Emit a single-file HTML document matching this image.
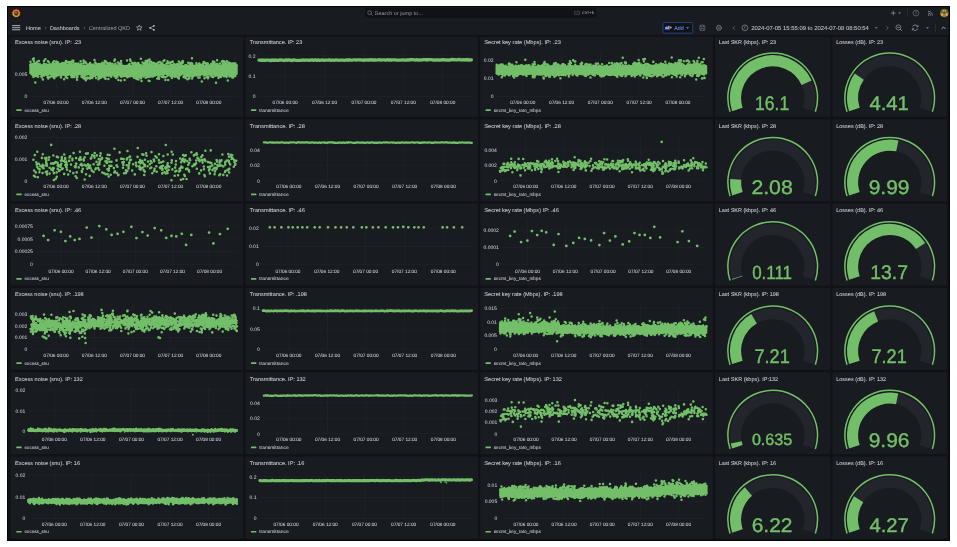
<!DOCTYPE html>
<html><head><meta charset="utf-8"><title>Centralized QKD - Dashboards - Grafana</title>
<style>
html,body{margin:0;padding:0;background:#fff;}
body{width:957px;height:547px;position:relative;overflow:hidden;font-family:"Liberation Sans", sans-serif;}
#f{position:absolute;left:7px;top:6px;width:943px;height:535px;background:#111217;border:1px solid #040608;box-sizing:border-box;}
svg{position:absolute;left:0;top:0;}
#g{filter:blur(0.33px);}
svg text{font-family:"Liberation Sans", sans-serif;text-rendering:geometricPrecision;}
svg g.tx text{stroke-width:0.05px;stroke-opacity:0.9}
svg g.tx text.b{stroke-width:0.07px;}
</style></head>
<body>
<div id="f"></div>
<svg id="g" width="957" height="547" viewBox="0 0 957 547">
<rect x="8.00" y="7.00" width="941.00" height="27.70" fill="#181b1f" />
<rect x="8.00" y="19.90" width="941.00" height="0.60" fill="rgba(204,204,220,0.045)" />
<rect x="8.00" y="33.80" width="941.00" height="0.90" fill="rgba(204,204,220,0.03)" />
<rect x="364.70" y="7.60" width="232.00" height="10.40" fill="#111217" rx="1" stroke="rgba(204,204,220,0.07)" stroke-width="0.5"/>
<rect x="10.85" y="36.85" width="232.40" height="79.95" rx="1.2" fill="#181b1f" stroke="rgba(204,204,220,0.05)" stroke-width="0.5"/>
<rect x="245.75" y="36.85" width="232.30" height="79.95" rx="1.2" fill="#181b1f" stroke="rgba(204,204,220,0.05)" stroke-width="0.5"/>
<rect x="480.55" y="36.85" width="232.30" height="79.95" rx="1.2" fill="#181b1f" stroke="rgba(204,204,220,0.05)" stroke-width="0.5"/>
<rect x="10.85" y="119.42" width="232.40" height="81.70" rx="1.2" fill="#181b1f" stroke="rgba(204,204,220,0.05)" stroke-width="0.5"/>
<rect x="245.75" y="119.42" width="232.30" height="81.70" rx="1.2" fill="#181b1f" stroke="rgba(204,204,220,0.05)" stroke-width="0.5"/>
<rect x="480.55" y="119.42" width="232.30" height="81.70" rx="1.2" fill="#181b1f" stroke="rgba(204,204,220,0.05)" stroke-width="0.5"/>
<rect x="10.85" y="203.74" width="232.40" height="81.70" rx="1.2" fill="#181b1f" stroke="rgba(204,204,220,0.05)" stroke-width="0.5"/>
<rect x="245.75" y="203.74" width="232.30" height="81.70" rx="1.2" fill="#181b1f" stroke="rgba(204,204,220,0.05)" stroke-width="0.5"/>
<rect x="480.55" y="203.74" width="232.30" height="81.70" rx="1.2" fill="#181b1f" stroke="rgba(204,204,220,0.05)" stroke-width="0.5"/>
<rect x="10.85" y="288.06" width="232.40" height="81.70" rx="1.2" fill="#181b1f" stroke="rgba(204,204,220,0.05)" stroke-width="0.5"/>
<rect x="245.75" y="288.06" width="232.30" height="81.70" rx="1.2" fill="#181b1f" stroke="rgba(204,204,220,0.05)" stroke-width="0.5"/>
<rect x="480.55" y="288.06" width="232.30" height="81.70" rx="1.2" fill="#181b1f" stroke="rgba(204,204,220,0.05)" stroke-width="0.5"/>
<rect x="10.85" y="372.38" width="232.40" height="81.70" rx="1.2" fill="#181b1f" stroke="rgba(204,204,220,0.05)" stroke-width="0.5"/>
<rect x="245.75" y="372.38" width="232.30" height="81.70" rx="1.2" fill="#181b1f" stroke="rgba(204,204,220,0.05)" stroke-width="0.5"/>
<rect x="480.55" y="372.38" width="232.30" height="81.70" rx="1.2" fill="#181b1f" stroke="rgba(204,204,220,0.05)" stroke-width="0.5"/>
<rect x="10.85" y="456.70" width="232.40" height="81.70" rx="1.2" fill="#181b1f" stroke="rgba(204,204,220,0.05)" stroke-width="0.5"/>
<rect x="245.75" y="456.70" width="232.30" height="81.70" rx="1.2" fill="#181b1f" stroke="rgba(204,204,220,0.05)" stroke-width="0.5"/>
<rect x="480.55" y="456.70" width="232.30" height="81.70" rx="1.2" fill="#181b1f" stroke="rgba(204,204,220,0.05)" stroke-width="0.5"/>
<rect x="715.25" y="36.85" width="114.90" height="79.95" rx="1.2" fill="#181b1f" stroke="rgba(204,204,220,0.05)" stroke-width="0.5"/>
<rect x="715.25" y="119.42" width="114.90" height="81.70" rx="1.2" fill="#181b1f" stroke="rgba(204,204,220,0.05)" stroke-width="0.5"/>
<rect x="715.25" y="203.74" width="114.90" height="81.70" rx="1.2" fill="#181b1f" stroke="rgba(204,204,220,0.05)" stroke-width="0.5"/>
<rect x="715.25" y="288.06" width="114.90" height="81.70" rx="1.2" fill="#181b1f" stroke="rgba(204,204,220,0.05)" stroke-width="0.5"/>
<rect x="715.25" y="372.38" width="114.90" height="81.70" rx="1.2" fill="#181b1f" stroke="rgba(204,204,220,0.05)" stroke-width="0.5"/>
<rect x="715.25" y="456.70" width="114.90" height="81.70" rx="1.2" fill="#181b1f" stroke="rgba(204,204,220,0.05)" stroke-width="0.5"/>
<rect x="832.65" y="36.85" width="114.10" height="79.95" rx="1.2" fill="#181b1f" stroke="rgba(204,204,220,0.05)" stroke-width="0.5"/>
<rect x="832.65" y="119.42" width="114.10" height="81.70" rx="1.2" fill="#181b1f" stroke="rgba(204,204,220,0.05)" stroke-width="0.5"/>
<rect x="832.65" y="203.74" width="114.10" height="81.70" rx="1.2" fill="#181b1f" stroke="rgba(204,204,220,0.05)" stroke-width="0.5"/>
<rect x="832.65" y="288.06" width="114.10" height="81.70" rx="1.2" fill="#181b1f" stroke="rgba(204,204,220,0.05)" stroke-width="0.5"/>
<rect x="832.65" y="372.38" width="114.10" height="81.70" rx="1.2" fill="#181b1f" stroke="rgba(204,204,220,0.05)" stroke-width="0.5"/>
<rect x="832.65" y="456.70" width="114.10" height="81.70" rx="1.2" fill="#181b1f" stroke="rgba(204,204,220,0.05)" stroke-width="0.5"/>
<defs><linearGradient id="gl" x1="0" y1="0" x2="0" y2="1"><stop offset="0" stop-color="#ea4f2a"/><stop offset="0.5" stop-color="#f58a2a"/><stop offset="1" stop-color="#fac630"/></linearGradient></defs>
<polygon points="16.20,9.10 17.36,9.91 18.77,10.04 19.14,11.40 20.14,12.41 19.55,13.69 19.66,15.10 18.39,15.70 17.57,16.86 16.20,16.50 14.83,16.86 14.01,15.70 12.74,15.10 12.85,13.69 12.26,12.41 13.26,11.40 13.63,10.04 15.04,9.91" fill="url(#gl)" stroke="url(#gl)" stroke-width="0.5" stroke-linejoin="round"/>
<circle cx="16.25" cy="13.45" r="2.2" fill="#181b1f" fill-opacity="0.88"/>
<path d="M15.04 13.93 A1.05 1.05 0 1 1 16.81 14.00" fill="none" stroke="#f08a2c" stroke-width="0.75" stroke-linecap="round"/>
<path d="M12.5 25.6 H19.8" stroke="#ccccdc" stroke-width="0.85" stroke-linecap="round"/>
<path d="M12.5 27.7 H19.8" stroke="#ccccdc" stroke-width="0.85" stroke-linecap="round"/>
<path d="M12.5 29.75 H19.8" stroke="#ccccdc" stroke-width="0.85" stroke-linecap="round"/>
<path d="M45.30 27.00 L46.30 28.00 L45.30 29.00" fill="none" stroke="rgba(204,204,220,0.62)" stroke-width="0.5" stroke-linecap="round" stroke-linejoin="round"/>
<path d="M84.10 27.00 L85.10 28.00 L84.10 29.00" fill="none" stroke="rgba(204,204,220,0.62)" stroke-width="0.5" stroke-linecap="round" stroke-linejoin="round"/>
<polygon points="139.30,25.00 140.06,26.85 142.06,27.00 140.54,28.30 141.00,30.25 139.30,29.20 137.60,30.25 138.06,28.30 136.54,27.00 138.54,26.85" fill="none" stroke="#ccccdc" stroke-width="0.6" stroke-linejoin="round"/>
<path d="M153.8 25.8 L150.2 27.8 L153.8 29.8" fill="none" stroke="#ccccdc" stroke-width="0.55"/>
<circle cx="153.9" cy="25.8" r="0.9" fill="#ccccdc"/>
<circle cx="150.1" cy="27.8" r="0.9" fill="#ccccdc"/>
<circle cx="153.9" cy="29.8" r="0.9" fill="#ccccdc"/>
<circle cx="369.6" cy="12.7" r="1.9" fill="none" stroke="rgba(204,204,220,0.62)" stroke-width="0.6"/><path d="M371 14.1 L372.3 15.4" stroke="rgba(204,204,220,0.62)" stroke-width="0.6" stroke-linecap="round"/>
<rect x="574.5" y="11.3" width="5.2" height="3.3" rx="0.7" fill="none" stroke="rgba(204,204,220,0.45)" stroke-width="0.5"/><path d="M575.6 12.4h3 M575.6 13.5h3" stroke="rgba(204,204,220,0.4)" stroke-width="0.45" stroke-dasharray="0.6 0.5"/>
<path d="M893.3 11.2 V15.0 M891.4 13.1 H895.2" stroke="rgba(204,204,220,0.7)" stroke-width="0.7" stroke-linecap="round"/>
<path d="M898.50 12.65 L899.60 13.75 L900.70 12.65Z" fill="rgba(204,204,220,0.62)" stroke="rgba(204,204,220,0.62)" stroke-width="0.3" stroke-linejoin="round"/>
<path d="M907.6 8.7 V17" stroke="rgba(204,204,220,0.16)" stroke-width="0.6"/>
<circle cx="915.9" cy="13.1" r="2.9" fill="none" stroke="rgba(204,204,220,0.52)" stroke-width="0.65"/><path d="M915 12.2 q0.9 -1.2 1.8 0 q0 0.7 -0.9 1.1 M915.9 14.6 v0.2" fill="none" stroke="rgba(204,204,220,0.52)" stroke-width="0.55" stroke-linecap="round"/>
<circle cx="928.6" cy="15.1" r="0.8" fill="rgba(204,204,220,0.52)"/><path d="M928.0 13.0 A2.7 2.7 0 0 1 930.7 15.7" fill="none" stroke="rgba(204,204,220,0.52)" stroke-width="0.95"/><path d="M928.0 11.2 A4.5 4.5 0 0 1 932.5 15.7" fill="none" stroke="rgba(204,204,220,0.52)" stroke-width="0.95"/>
<clipPath id="av"><circle cx="944.3" cy="13.0" r="4.3"/></clipPath><g clip-path="url(#av)"><rect x="939.3" y="8.0" width="10" height="10" fill="#4f7a16"/><rect x="943.0" y="13.6" width="2.6" height="4" fill="#a8743c"/><ellipse cx="941.9" cy="14.7" rx="1.35" ry="1.7" fill="#f58b7c"/><ellipse cx="946.6999999999999" cy="14.7" rx="1.35" ry="1.7" fill="#f58b7c"/><ellipse cx="943.1999999999999" cy="10.8" rx="0.75" ry="1.0" fill="#f58b7c"/><ellipse cx="945.4" cy="10.8" rx="0.75" ry="1.0" fill="#f58b7c"/><rect x="943.6999999999999" y="12.1" width="1.2" height="1.4" fill="#3d6a10"/></g>
<rect x="663.0" y="22.6" width="29.7" height="10.5" rx="0.9" fill="#111217" stroke="#2e4f99" stroke-width="0.75"/>
<path d="M665.0 29.0 v-1.6 l1.3 -1.1 l1.1 0.8 l1.3 -1.6 l0.9 0.6 v2.9z" fill="#6e9fff"/><path d="M664.9 29.6 h5.0" stroke="#6e9fff" stroke-width="0.5"/>
<circle cx="670.8" cy="27.5" r="0.95" fill="#ff9830"/>
<path d="M686.40 27.40 L687.60 28.60 L688.80 27.40Z" fill="#6e9fff" stroke="#6e9fff" stroke-width="0.3" stroke-linejoin="round"/>
<rect x="699.9" y="25.2" width="4.9" height="5.2" rx="0.7" fill="none" stroke="rgba(204,204,220,0.52)" stroke-width="0.65"/><path d="M700.9 25.4 v1.6 h2.6 v-1.6 M700.9 30.2 v-1.7 h2.9 v1.7" fill="none" stroke="rgba(204,204,220,0.52)" stroke-width="0.55"/>
<circle cx="718.9" cy="27.8" r="2.5" fill="none" stroke="rgba(204,204,220,0.52)" stroke-width="0.9" stroke-dasharray="1.1 0.5"/><circle cx="718.9" cy="27.8" r="2.2" fill="none" stroke="rgba(204,204,220,0.52)" stroke-width="0.5"/><circle cx="718.9" cy="27.8" r="0.9" fill="none" stroke="rgba(204,204,220,0.52)" stroke-width="0.5"/>
<path d="M734.35 26.40 L732.85 27.90 L734.35 29.40" fill="none" stroke="rgba(204,204,220,0.62)" stroke-width="0.6" stroke-linecap="round" stroke-linejoin="round"/>
<circle cx="744.9" cy="27.8" r="2.9" fill="none" stroke="rgba(204,204,220,0.7)" stroke-width="0.65"/><path d="M744.9 26.2 V27.9 L743.8 28.6" fill="none" stroke="rgba(204,204,220,0.7)" stroke-width="0.55" stroke-linecap="round"/>
<path d="M875.05 27.43 L876.20 28.57 L877.35 27.43Z" fill="rgba(204,204,220,0.62)" stroke="rgba(204,204,220,0.62)" stroke-width="0.3" stroke-linejoin="round"/>
<path d="M886.65 26.40 L888.15 27.90 L886.65 29.40" fill="none" stroke="rgba(204,204,220,0.62)" stroke-width="0.6" stroke-linecap="round" stroke-linejoin="round"/>
<circle cx="898.4" cy="27.4" r="2.5" fill="none" stroke="rgba(204,204,220,0.7)" stroke-width="0.7"/><path d="M897.2 27.4 h2.4 M900.3 29.3 l1.5 1.5" stroke="rgba(204,204,220,0.7)" stroke-width="0.65" stroke-linecap="round"/>
<path d="M912.62 26.76 A2.75 2.75 0 0 1 917.69 26.54 M917.78 28.64 A2.75 2.75 0 0 1 912.71 28.86" fill="none" stroke="rgba(204,204,220,0.7)" stroke-width="0.75"/><path d="M918.1 24.9 v1.9 h-1.9 M912.3 30.5 v-1.9 h1.9" fill="none" stroke="rgba(204,204,220,0.7)" stroke-width="0.65"/>
<path d="M926.25 27.43 L927.40 28.57 L928.55 27.43Z" fill="rgba(204,204,220,0.62)" stroke="rgba(204,204,220,0.62)" stroke-width="0.3" stroke-linejoin="round"/>
<path d="M935.5 23.3 V32.2" stroke="rgba(204,204,220,0.16)" stroke-width="0.6"/>
<path d="M941.9 28.6 L943.5 27.0 L945.1 28.6" fill="none" stroke="#ccccdc" stroke-width="0.8" stroke-linecap="round" stroke-linejoin="round"/>
<path d="M30.40 74.15 H237.00" stroke="rgba(204,204,220,0.075)" stroke-width="0.5"/>
<path d="M30.40 96.65 H237.00" stroke="rgba(204,204,220,0.075)" stroke-width="0.5"/>
<path d="M56.11 51.25 V96.65" stroke="rgba(204,204,220,0.075)" stroke-width="0.5"/>
<path d="M94.30 51.25 V96.65" stroke="rgba(204,204,220,0.075)" stroke-width="0.5"/>
<path d="M132.48 51.25 V96.65" stroke="rgba(204,204,220,0.075)" stroke-width="0.5"/>
<path d="M170.66 51.25 V96.65" stroke="rgba(204,204,220,0.075)" stroke-width="0.5"/>
<path d="M208.85 51.25 V96.65" stroke="rgba(204,204,220,0.075)" stroke-width="0.5"/>
<rect x="16.30" y="109.30" width="5.4" height="1.7" rx="0.4" fill="#73bf69"/>
<path d="M30.1 64.3 L31.2 64.3 L32.3 64.3 L33.4 64.5 L34.5 64.9 L35.6 65.0 L36.7 65.2 L37.8 65.4 L38.9 65.2 L40.0 65.7 L41.1 65.9 L42.2 65.4 L43.3 65.4 L44.4 65.0 L45.5 65.5 L46.6 64.9 L47.7 64.9 L48.8 65.0 L49.9 65.0 L51.0 64.9 L52.1 65.5 L53.2 65.4 L54.3 65.2 L55.4 65.0 L56.5 65.3 L57.6 64.6 L58.7 64.6 L59.8 65.5 L60.9 65.4 L62.0 65.3 L63.1 65.4 L64.2 64.7 L65.3 65.3 L66.4 65.4 L67.5 65.4 L68.6 65.5 L69.7 65.0 L70.8 65.2 L71.9 65.0 L73.0 65.0 L74.1 64.8 L75.2 65.1 L76.3 65.0 L77.4 65.8 L78.5 65.0 L79.6 65.9 L80.7 65.7 L81.8 65.6 L82.9 66.0 L84.0 65.5 L85.1 65.8 L86.2 65.7 L87.3 65.7 L88.4 66.4 L89.5 65.6 L90.6 65.6 L91.7 65.7 L92.8 66.0 L93.9 66.4 L95.0 66.4 L96.1 66.4 L97.2 65.9 L98.3 66.1 L99.4 66.5 L100.5 66.2 L101.6 66.1 L102.7 65.8 L103.8 66.5 L104.9 66.4 L106.0 66.5 L107.1 66.5 L108.2 66.8 L109.3 65.8 L110.4 66.2 L111.5 66.4 L112.6 66.5 L113.7 65.8 L114.8 66.0 L115.9 66.4 L117.0 66.5 L118.1 66.5 L119.2 66.5 L120.3 66.0 L121.4 66.0 L122.5 65.8 L123.6 65.9 L124.7 66.5 L125.8 66.4 L126.9 66.2 L128.0 65.9 L129.1 66.4 L130.2 66.2 L131.3 66.3 L132.4 66.0 L133.5 66.6 L134.6 66.2 L135.7 65.8 L136.8 66.3 L137.9 66.7 L139.0 66.7 L140.1 65.8 L141.2 65.9 L142.3 66.6 L143.4 65.8 L144.5 65.9 L145.6 65.7 L146.7 66.4 L147.8 66.4 L148.9 65.5 L150.0 66.3 L151.1 65.6 L152.2 65.5 L153.3 66.2 L154.4 66.0 L155.5 65.4 L156.6 65.4 L157.7 65.2 L158.8 65.3 L159.9 65.8 L161.0 65.8 L162.1 65.8 L163.2 65.7 L164.3 65.9 L165.4 65.7 L166.5 65.7 L167.6 65.8 L168.7 65.9 L169.8 65.0 L170.9 65.1 L172.0 65.8 L173.1 65.2 L174.2 65.8 L175.3 65.3 L176.4 65.8 L177.5 65.3 L178.6 65.8 L179.7 65.5 L180.8 65.5 L181.9 65.1 L183.0 65.8 L184.1 65.8 L185.2 65.8 L186.3 65.3 L187.4 65.4 L188.5 65.6 L189.6 65.3 L190.7 65.3 L191.8 66.1 L192.9 66.0 L194.0 65.4 L195.1 66.0 L196.2 66.1 L197.3 65.8 L198.4 66.0 L199.5 66.2 L200.6 66.0 L201.7 65.3 L202.8 66.0 L203.9 65.9 L205.0 65.9 L206.1 66.3 L207.2 66.0 L208.3 65.4 L209.4 66.1 L210.5 65.4 L211.6 65.5 L212.7 65.3 L213.8 65.9 L214.9 65.9 L216.0 65.3 L217.1 65.1 L218.2 65.2 L219.3 65.9 L220.4 65.7 L221.5 65.2 L222.6 65.2 L223.7 65.4 L224.8 65.7 L225.9 65.1 L227.0 65.0 L228.1 65.6 L229.2 64.8 L230.3 65.4 L231.4 64.8 L232.5 65.5 L233.6 64.9 L234.7 65.5 L235.8 64.7 L236.9 65.3 L236.9 74.1 L235.8 73.6 L234.7 73.4 L233.6 73.7 L232.5 74.1 L231.4 73.7 L230.3 73.3 L229.2 74.2 L228.1 74.3 L227.0 73.6 L225.9 74.0 L224.8 74.1 L223.7 73.8 L222.6 74.3 L221.5 74.4 L220.4 74.5 L219.3 73.8 L218.2 73.9 L217.1 74.0 L216.0 74.4 L214.9 73.8 L213.8 73.9 L212.7 74.2 L211.6 74.0 L210.5 74.3 L209.4 74.0 L208.3 74.4 L207.2 74.0 L206.1 74.5 L205.0 74.8 L203.9 74.2 L202.8 74.5 L201.7 74.2 L200.6 74.5 L199.5 74.0 L198.4 74.7 L197.3 74.9 L196.2 74.6 L195.1 74.7 L194.0 73.9 L192.9 74.7 L191.8 74.3 L190.7 74.4 L189.6 74.6 L188.5 73.9 L187.4 73.9 L186.3 74.7 L185.2 74.4 L184.1 74.0 L183.0 73.7 L181.9 74.2 L180.8 74.6 L179.7 74.6 L178.6 74.2 L177.5 74.1 L176.4 74.3 L175.3 74.6 L174.2 74.4 L173.1 74.3 L172.0 74.5 L170.9 74.6 L169.8 73.6 L168.7 73.7 L167.6 73.7 L166.5 74.0 L165.4 73.7 L164.3 73.7 L163.2 74.6 L162.1 74.6 L161.0 74.1 L159.9 74.4 L158.8 74.3 L157.7 74.7 L156.6 74.3 L155.5 74.6 L154.4 74.6 L153.3 74.8 L152.2 74.4 L151.1 74.1 L150.0 74.5 L148.9 74.4 L147.8 74.4 L146.7 74.9 L145.6 75.0 L144.5 74.7 L143.4 74.9 L142.3 74.5 L141.2 74.8 L140.1 74.3 L139.0 74.7 L137.9 74.9 L136.8 75.0 L135.7 74.4 L134.6 74.5 L133.5 74.9 L132.4 75.3 L131.3 75.3 L130.2 74.6 L129.1 75.3 L128.0 74.9 L126.9 74.4 L125.8 75.3 L124.7 74.9 L123.6 74.5 L122.5 74.6 L121.4 75.2 L120.3 74.6 L119.2 74.8 L118.1 74.5 L117.0 74.7 L115.9 75.4 L114.8 75.0 L113.7 75.1 L112.6 75.2 L111.5 74.5 L110.4 74.7 L109.3 74.8 L108.2 75.3 L107.1 74.9 L106.0 75.4 L104.9 74.7 L103.8 74.8 L102.7 75.4 L101.6 74.4 L100.5 74.9 L99.4 74.6 L98.3 75.1 L97.2 74.9 L96.1 74.9 L95.0 74.7 L93.9 75.0 L92.8 74.7 L91.7 74.6 L90.6 74.3 L89.5 74.4 L88.4 74.5 L87.3 74.7 L86.2 74.9 L85.1 74.4 L84.0 74.5 L82.9 74.0 L81.8 74.3 L80.7 74.5 L79.6 73.6 L78.5 74.2 L77.4 73.8 L76.3 74.5 L75.2 73.6 L74.1 74.3 L73.0 74.2 L71.9 73.4 L70.8 74.0 L69.7 73.3 L68.6 74.1 L67.5 73.3 L66.4 73.6 L65.3 73.9 L64.2 73.4 L63.1 74.0 L62.0 74.0 L60.9 73.3 L59.8 74.1 L58.7 73.6 L57.6 73.3 L56.5 74.0 L55.4 74.2 L54.3 74.2 L53.2 73.8 L52.1 73.7 L51.0 74.1 L49.9 73.5 L48.8 73.5 L47.7 74.1 L46.6 74.2 L45.5 73.9 L44.4 74.0 L43.3 74.3 L42.2 74.1 L41.1 74.1 L40.0 74.3 L38.9 74.5 L37.8 73.9 L36.7 73.7 L35.6 73.9 L34.5 73.6 L33.4 73.8 L32.3 73.1 L31.2 73.7 L30.1 73.3 Z" fill="#73bf69" stroke="#73bf69" stroke-width="1.6" stroke-linejoin="round"/>
<path d="M153.5 63.0h0M157.5 74.7h0M66.0 63.5h0M41.4 65.9h0M71.9 74.0h0M209.9 73.7h0M130.4 66.0h0M96.6 67.0h0M106.0 61.7h0M42.4 65.6h0M150.5 76.6h0M213.1 73.5h0M36.2 74.1h0M135.5 66.6h0M35.3 82.5h0M65.7 76.9h0M190.0 74.7h0M228.6 62.6h0M126.1 76.3h0M99.8 65.8h0M172.4 65.4h0M87.9 66.3h0M212.9 61.4h0M117.9 65.5h0M157.0 74.7h0M196.5 74.2h0M136.5 65.7h0M114.9 66.5h0M145.6 67.0h0M53.8 73.0h0M206.3 63.4h0M192.7 75.7h0M154.5 63.3h0M211.5 75.8h0M196.4 75.6h0M121.2 63.4h0M96.7 65.0h0M167.2 63.2h0M145.2 74.2h0M87.6 66.8h0M172.0 78.1h0M67.7 65.6h0M78.3 65.6h0M37.8 76.2h0M117.9 62.4h0M67.3 77.9h0M141.4 75.9h0M225.1 63.6h0M87.3 66.9h0M66.7 74.8h0M225.4 73.8h0M106.7 75.5h0M191.9 75.7h0M153.0 76.3h0M55.7 73.4h0M146.4 75.8h0M116.9 66.9h0M158.0 74.1h0M229.5 64.8h0M142.7 74.6h0M106.1 65.4h0M111.7 74.5h0M96.3 64.3h0M182.0 62.9h0M54.5 74.4h0M45.3 73.3h0M71.4 76.0h0M213.0 62.2h0M201.7 65.8h0M173.2 66.2h0M134.1 77.7h0M227.2 74.6h0M122.7 74.1h0M159.8 65.1h0M233.2 77.6h0M100.6 75.7h0M132.2 62.9h0M229.6 64.8h0M194.8 73.7h0M63.5 64.8h0M115.8 76.5h0M108.8 74.0h0M138.1 75.6h0M202.5 64.5h0M52.1 64.4h0M195.8 74.5h0M200.2 74.9h0M36.6 73.4h0M207.8 63.6h0M43.9 61.1h0M34.3 65.0h0M231.5 64.0h0M33.4 65.6h0M83.5 66.5h0M199.8 66.0h0M127.8 74.3h0M185.4 75.9h0M151.8 66.2h0M159.8 75.2h0M236.6 65.5h0M68.5 61.9h0M111.4 74.0h0M189.1 78.4h0M198.7 74.8h0M43.9 66.2h0M100.0 77.2h0M176.4 65.2h0M229.3 73.5h0M191.5 66.6h0M181.5 65.4h0M192.8 76.7h0M149.2 64.3h0M38.2 66.3h0M35.7 73.2h0M189.6 65.6h0M48.7 62.1h0M162.1 65.2h0M201.4 66.4h0M44.0 73.7h0M177.4 65.3h0M140.6 78.0h0M131.4 66.9h0M183.0 62.5h0M73.4 60.7h0M210.9 64.3h0M100.6 66.3h0M63.2 64.9h0M103.0 76.6h0M229.5 76.5h0M190.7 65.7h0M143.4 75.0h0M162.2 66.3h0M188.4 66.2h0M77.5 77.0h0M85.8 80.3h0M179.0 76.3h0M105.2 61.9h0M90.2 63.8h0M226.0 76.1h0M229.2 63.1h0M235.9 73.7h0M114.4 76.2h0M172.8 61.7h0M177.4 64.0h0M97.9 74.1h0M87.3 66.0h0M167.5 76.0h0M68.5 74.3h0M138.3 63.1h0M54.2 76.3h0M163.5 60.9h0M204.7 62.8h0M120.0 64.4h0M134.6 74.7h0M230.2 65.0h0M81.8 73.5h0M80.6 61.3h0M88.0 64.8h0M152.0 73.8h0M121.1 61.1h0M137.7 66.5h0M159.5 74.8h0M93.4 74.3h0M223.5 73.7h0M79.2 66.2h0M99.7 78.1h0M106.8 63.1h0M89.1 64.6h0M90.3 75.5h0M81.5 65.9h0M163.6 77.3h0M60.0 75.0h0M37.3 76.3h0M194.6 73.6h0M130.1 74.1h0M119.3 66.9h0M79.3 74.1h0M78.0 74.1h0M179.2 74.2h0M109.4 66.9h0M168.7 74.4h0M134.5 76.0h0M60.1 64.1h0M56.1 76.2h0M31.2 73.3h0M227.3 64.4h0M30.4 65.0h0M171.8 76.7h0M119.3 63.5h0M196.6 75.5h0M169.8 66.4h0M198.7 64.8h0M33.8 73.6h0M46.5 74.7h0M165.5 80.1h0M55.3 65.2h0M74.6 64.2h0M66.3 74.5h0M73.7 73.0h0M56.2 61.6h0M49.5 76.9h0M221.1 66.0h0M132.8 64.1h0M147.4 66.9h0M64.6 73.0h0M97.9 66.6h0M36.0 62.9h0M114.2 67.0h0M89.1 66.0h0M178.0 64.4h0M225.1 75.9h0M195.0 75.1h0M232.4 75.4h0M121.4 75.3h0M208.3 65.6h0M190.2 74.9h0M124.6 80.0h0M221.8 61.6h0M179.2 73.8h0M143.7 63.9h0M203.6 61.9h0M58.4 75.2h0M182.2 66.2h0M77.1 79.8h0M146.4 77.3h0M69.8 65.0h0M208.8 66.6h0M194.8 66.2h0M176.1 65.0h0M128.5 66.1h0M122.6 65.7h0M77.5 65.8h0M104.5 76.8h0M219.4 65.9h0M120.5 74.6h0M152.9 76.6h0M128.7 66.1h0M147.6 60.4h0M116.7 74.2h0M219.0 75.9h0M111.4 64.8h0M229.7 76.3h0M114.4 60.8h0M161.5 65.0h0M187.6 76.1h0M155.0 75.4h0M225.7 63.2h0M60.8 73.6h0M206.3 75.5h0M230.6 75.9h0M71.1 63.4h0M48.1 66.2h0M33.3 64.2h0M100.0 66.2h0M172.0 74.0h0M115.4 65.4h0M77.8 73.8h0M224.2 65.3h0M217.3 73.7h0M52.8 62.4h0M93.1 76.0h0M151.2 66.2h0M123.2 66.3h0M32.7 64.0h0M76.7 77.6h0M81.5 76.8h0M223.0 60.9h0M44.1 75.5h0M77.8 65.2h0M33.7 73.7h0M62.7 72.9h0M67.5 62.0h0M91.5 66.5h0M101.0 77.6h0M120.3 66.5h0M104.8 61.0h0M71.2 75.8h0M120.5 75.9h0M227.2 65.7h0M216.4 63.9h0M34.2 65.9h0M137.7 63.2h0M73.4 74.1h0M116.4 65.5h0M155.9 64.9h0M191.2 64.5h0M199.2 63.5h0M213.3 76.9h0M50.2 77.0h0M53.8 66.1h0M218.5 78.0h0M148.3 73.8h0M114.4 74.4h0M97.8 74.3h0M89.5 65.9h0M121.3 76.7h0M167.6 61.2h0M196.9 65.4h0M201.5 66.0h0M220.9 76.9h0M93.9 66.5h0M144.9 63.1h0M157.8 73.5h0M204.6 78.2h0M47.5 64.9h0M90.5 65.4h0M83.7 61.7h0M123.3 75.9h0M132.3 75.4h0M74.1 77.0h0M182.8 66.3h0M172.2 74.8h0M186.1 74.4h0M150.8 76.6h0M93.4 66.6h0M99.2 65.2h0M117.6 75.5h0M179.4 74.3h0M134.6 62.8h0M67.0 74.6h0M41.4 76.0h0M123.9 66.7h0M100.6 74.0h0M224.1 76.1h0M57.3 74.6h0M209.1 73.8h0M59.0 73.5h0M162.7 75.5h0M192.4 65.0h0M33.0 58.9h0M141.6 81.1h0M109.2 63.5h0M56.6 65.6h0M42.9 79.5h0M155.2 64.2h0M210.2 74.6h0M229.3 74.7h0M195.4 66.0h0M143.3 75.5h0M115.3 63.9h0M204.9 66.6h0M109.1 75.5h0M139.2 64.4h0M159.0 75.6h0M232.1 76.1h0M71.7 65.4h0M144.8 74.1h0M93.6 65.7h0M74.3 73.7h0M41.1 66.2h0M148.6 66.7h0M83.2 74.2h0M221.4 75.6h0M120.9 80.4h0M64.4 65.3h0M134.4 64.7h0M176.0 75.2h0M136.0 63.8h0M170.0 62.5h0M188.9 74.6h0M155.0 73.9h0M96.6 74.2h0M228.6 65.7h0M84.6 73.5h0M151.3 74.3h0M112.9 66.8h0M137.9 77.3h0M48.9 65.2h0M121.8 65.7h0M153.1 66.3h0M54.5 64.1h0M176.7 76.2h0M227.5 65.2h0M217.1 60.3h0M85.4 62.1h0M130.8 75.9h0M90.4 77.4h0M147.4 65.8h0M170.6 76.2h0M181.3 74.3h0M179.5 64.5h0M214.0 74.2h0M41.8 75.5h0M139.6 65.9h0M192.2 63.4h0M159.9 62.1h0M103.5 76.5h0M51.7 64.9h0M92.5 66.8h0M47.7 74.9h0M202.6 66.2h0M233.2 76.0h0M63.8 65.6h0M120.2 63.5h0M168.4 63.2h0M82.2 74.1h0M201.8 81.5h0M230.5 63.3h0M47.5 77.2h0M162.4 63.6h0M102.8 75.4h0M216.1 74.3h0M78.1 74.2h0M211.4 76.3h0M177.5 65.6h0M116.0 78.0h0M234.0 74.4h0M220.4 74.9h0M215.6 74.7h0M71.6 76.9h0M136.8 66.5h0M49.6 73.5h0M175.1 64.8h0M62.3 63.1h0M56.8 63.7h0M230.1 63.5h0M216.9 73.5h0M186.8 66.0h0M180.4 62.9h0M60.2 65.0h0M184.3 75.4h0M61.6 75.2h0M158.7 77.4h0M123.8 74.0h0M219.8 63.4h0M165.5 73.3h0M68.9 73.6h0M234.5 63.3h0M234.5 74.1h0M166.7 63.5h0M76.0 65.5h0M98.5 79.2h0M110.5 67.0h0M128.6 64.8h0M186.2 75.1h0M120.5 74.6h0M131.8 66.5h0M150.9 65.7h0M140.9 58.7h0M59.8 74.5h0M214.8 74.3h0M214.9 64.2h0M153.0 62.7h0M77.2 73.1h0M180.0 74.0h0M63.2 73.4h0M166.5 63.8h0M130.6 61.1h0M92.9 76.5h0M98.7 74.6h0M84.1 73.7h0M34.9 74.3h0M105.2 66.9h0M100.5 63.9h0M33.8 58.6h0M195.9 66.3h0M48.4 66.2h0M38.9 61.1h0M172.3 73.4h0M149.8 76.5h0M208.7 73.5h0M149.0 66.8h0M116.3 66.1h0M31.2 73.0h0M61.2 65.7h0M235.4 63.6h0M74.4 64.2h0M148.4 77.1h0M87.9 66.8h0M160.9 65.0h0M84.4 76.8h0M94.8 66.6h0M107.9 74.2h0M51.7 73.7h0M41.3 76.4h0M223.0 64.1h0M55.0 65.9h0M217.5 64.8h0M208.5 73.7h0M160.3 66.3h0M207.2 65.2h0M90.1 63.0h0M171.0 64.7h0M231.7 73.9h0M185.7 78.0h0M67.4 73.9h0M144.2 75.5h0M57.5 73.4h0M147.6 76.8h0M174.0 64.3h0M145.2 63.1h0M152.3 76.2h0M150.2 65.9h0M216.4 74.7h0M203.9 75.6h0M134.4 65.8h0M194.9 74.3h0M90.0 78.6h0M217.2 64.0h0M33.1 65.4h0M171.5 64.9h0M137.8 76.3h0M146.3 74.6h0M90.1 66.5h0M40.2 64.4h0M232.5 73.9h0M49.7 65.4h0M171.5 65.0h0M33.7 60.8h0M193.5 73.6h0M61.0 77.6h0M76.2 75.3h0M38.3 73.5h0M138.1 75.2h0M132.2 66.4h0M161.8 76.7h0M104.1 63.3h0M78.5 65.3h0M149.5 59.5h0M148.7 80.8h0M208.0 78.3h0M143.5 76.5h0M41.7 76.6h0M199.0 73.9h0M88.6 78.1h0M99.0 65.6h0M218.7 76.7h0M158.1 66.5h0M52.5 64.3h0M81.2 64.0h0M197.0 74.4h0M208.4 77.1h0M140.5 65.9h0M100.5 65.8h0M127.3 76.1h0M212.6 65.5h0M68.4 74.8h0M43.1 66.2h0M235.5 74.5h0M96.3 63.7h0M124.3 66.8h0M228.9 73.5h0M84.0 73.6h0M31.1 65.0h0M211.2 65.0h0M70.7 73.1h0M53.7 66.0h0M180.8 74.1h0M139.0 75.0h0M191.8 66.2h0M89.8 66.2h0M215.8 73.8h0M72.4 60.7h0M49.7 64.2h0M70.2 61.9h0M213.0 63.0h0M43.8 74.3h0M42.5 76.0h0M115.3 63.7h0M150.0 76.4h0M38.2 76.8h0M90.5 74.8h0M188.7 63.1h0M224.8 63.3h0M165.0 65.5h0M79.1 64.6h0M196.7 73.7h0M76.8 64.9h0M68.0 73.8h0M229.4 64.1h0M56.0 74.8h0M209.3 73.6h0M184.0 77.2h0M51.5 73.4h0M146.5 66.3h0M45.4 59.3h0M111.2 76.7h0M156.0 73.8h0M142.5 62.5h0M178.6 74.2h0M210.2 66.2h0M110.3 63.9h0M180.2 73.4h0M50.3 66.0h0M78.2 73.8h0M37.8 64.9h0M207.0 74.5h0M175.0 76.0h0M45.1 74.6h0M204.4 74.1h0M101.0 75.2h0M76.2 73.8h0M182.5 61.7h0M200.8 65.2h0M44.0 74.8h0M206.7 63.6h0M153.9 62.9h0M129.1 74.6h0M213.9 63.9h0M178.8 61.6h0M121.5 66.4h0M134.1 66.8h0M176.1 74.3h0M144.0 64.2h0M206.8 74.5h0M105.1 66.6h0M41.6 77.2h0M150.2 64.4h0M51.9 64.8h0M37.8 64.0h0M120.2 75.2h0M184.0 66.0h0M65.9 76.2h0M105.2 65.6h0M233.8 64.3h0M136.1 78.4h0M221.5 74.0h0M130.1 74.4h0M172.5 61.7h0M157.3 64.3h0M110.4 75.2h0M44.4 73.2h0M36.3 65.4h0M115.4 74.4h0M96.1 78.0h0M148.5 65.9h0M235.3 76.0h0M164.1 65.2h0M132.5 63.8h0M163.1 76.9h0M168.2 80.0h0M192.0 64.6h0M190.5 66.3h0M128.5 65.3h0M187.7 74.5h0M191.4 74.2h0M132.0 74.8h0M117.9 67.0h0M134.3 76.7h0M198.3 77.5h0M164.8 73.6h0M219.4 76.0h0M70.0 73.0h0M41.8 74.2h0M106.4 75.6h0M71.8 65.0h0M214.0 66.4h0M151.1 65.9h0M94.5 60.0h0M114.9 59.6h0M58.9 65.1h0M54.2 65.0h0M74.0 74.4h0M199.6 64.0h0M52.8 66.2h0M210.4 66.4h0M128.6 65.6h0M209.2 74.6h0M82.4 74.0h0M199.5 66.7h0M182.4 66.2h0M51.6 74.0h0M205.8 74.0h0M149.5 81.0h0M114.1 75.2h0M75.1 65.1h0M196.4 63.3h0M114.9 64.8h0M227.8 80.4h0M72.1 72.9h0M80.7 73.7h0M201.2 73.6h0M154.5 74.9h0M226.5 77.1h0M61.6 64.5h0M153.5 63.4h0M51.5 74.4h0M166.9 73.3h0M165.5 77.3h0M112.5 64.1h0M105.7 78.7h0M132.3 76.0h0M125.1 67.1h0M30.5 61.7h0M156.8 63.7h0M48.3 78.5h0M190.7 63.7h0M94.1 66.9h0M39.7 64.3h0M136.7 65.6h0M152.6 66.2h0M206.7 75.0h0M137.7 67.1h0M131.3 66.9h0M131.9 75.8h0M149.7 76.1h0M232.7 73.4h0M105.1 75.4h0M201.8 65.1h0M93.5 64.5h0M164.5 60.3h0M74.9 74.5h0M182.0 62.1h0M158.8 74.4h0M129.5 66.7h0M177.8 77.6h0M227.2 73.3h0M87.4 77.5h0M33.5 77.1h0M171.9 62.0h0M207.3 64.1h0M49.2 66.2h0M35.6 75.7h0M139.4 76.4h0M77.3 64.7h0M182.7 60.9h0M200.2 73.5h0M104.8 78.3h0M198.4 74.7h0M146.2 73.7h0M226.1 73.5h0M50.8 64.4h0M102.9 75.2h0M124.0 76.1h0M54.3 78.3h0M126.4 66.1h0M97.6 74.8h0M94.9 75.7h0M228.5 65.1h0M189.6 76.7h0M57.9 62.2h0M158.0 74.7h0M149.4 61.7h0M137.6 65.9h0M232.2 77.4h0M95.3 62.6h0M129.1 75.4h0M163.6 76.7h0M112.8 66.6h0M103.2 74.2h0M192.7 76.9h0M51.9 75.9h0M41.5 66.3h0M108.8 75.7h0M172.4 65.7h0M215.0 64.3h0M51.5 73.8h0M147.1 65.9h0M163.7 65.2h0M203.1 64.0h0M58.8 65.3h0M160.5 64.7h0M124.3 66.9h0M70.6 63.3h0M228.0 72.9h0M165.8 66.2h0M80.4 66.4h0M179.4 65.7h0M163.1 75.3h0M93.7 66.5h0M196.3 64.8h0M101.9 66.6h0M211.1 73.7h0M73.0 76.2h0M147.0 65.3h0M84.8 73.6h0M59.4 74.5h0M145.6 61.0h0M43.9 63.8h0M91.5 64.9h0M233.9 73.1h0M147.5 66.3h0M72.4 77.1h0M35.8 64.0h0M189.9 73.7h0M226.0 75.1h0M107.5 63.0h0M146.8 61.6h0M116.5 74.2h0M84.2 74.9h0M77.9 64.0h0M31.6 74.0h0M34.7 62.8h0M185.5 66.0h0M138.1 65.6h0M70.9 72.9h0M141.2 78.2h0M33.0 73.0h0M196.3 65.9h0M57.1 75.2h0M227.2 75.2h0M226.9 61.3h0M154.5 74.0h0M101.0 64.7h0M187.4 79.3h0M134.6 75.1h0M146.6 64.0h0M150.9 61.8h0M91.7 76.8h0M213.3 66.5h0M60.2 73.4h0M160.6 62.5h0M78.3 63.4h0M174.2 65.5h0M73.6 73.0h0M76.9 73.2h0M105.1 67.1h0M134.3 75.6h0M47.7 73.3h0M47.9 61.3h0M95.7 65.9h0M147.9 66.3h0M196.7 65.5h0M86.3 63.5h0M142.3 73.9h0M70.9 62.3h0M214.4 62.1h0M69.3 74.1h0M87.2 78.5h0M51.2 66.0h0M127.8 74.7h0M188.4 76.1h0M100.8 77.7h0M103.3 64.4h0M157.3 78.6h0M159.0 73.9h0M68.8 64.4h0M127.0 60.5h0M195.0 66.5h0M65.6 74.6h0M90.0 63.3h0M219.6 75.0h0M46.0 64.2h0M155.6 65.0h0M100.5 76.3h0M77.8 65.5h0M47.4 66.2h0M102.4 62.8h0M170.7 75.4h0M54.1 73.6h0M204.4 74.7h0M131.2 74.1h0M159.1 78.8h0M151.9 63.9h0M107.9 66.9h0M50.4 73.2h0M191.4 66.5h0M104.0 65.0h0M36.1 65.9h0M75.7 63.6h0M129.6 64.0h0M192.0 58.3h0M33.3 64.9h0M136.4 76.3h0M235.5 73.6h0M110.4 66.7h0M71.8 74.2h0M108.1 66.8h0M228.2 73.6h0M146.2 73.8h0M187.3 74.5h0M192.3 64.7h0M52.1 74.9h0M154.6 74.3h0M110.7 66.1h0M81.8 75.0h0M58.8 74.5h0M232.7 63.4h0M53.0 75.6h0M216.0 82.8h0M179.0 74.8h0M117.4 65.9h0M213.2 64.9h0M211.3 64.1h0M158.2 62.4h0M224.4 61.5h0M66.7 65.4h0M230.8 65.3h0M178.9 78.5h0M77.0 75.6h0M215.8 65.9h0M64.4 62.9h0M230.8 63.9h0M130.1 59.4h0M216.3 73.8h0M188.3 75.1h0M141.2 65.2h0M92.2 77.9h0M185.6 64.9h0M108.4 78.9h0M33.4 75.6h0M188.2 62.7h0M203.9 66.2h0M37.2 61.8h0M217.9 75.6h0M141.1 75.5h0M42.4 73.5h0M31.0 64.6h0M73.2 62.4h0M135.6 75.3h0M213.7 74.4h0M111.0 75.5h0M84.8 75.7h0M82.9 77.5h0M139.8 74.7h0M84.0 78.5h0M65.9 61.0h0M85.7 78.1h0M54.3 74.1h0M214.0 74.5h0M193.7 75.7h0M69.8 74.1h0M158.5 74.0h0M90.5 75.1h0M231.0 65.1h0M186.5 65.9h0M96.0 65.5h0M112.5 66.1h0M229.4 75.1h0M145.7 77.7h0M223.3 75.2h0M192.0 78.5h0M224.1 74.0h0M135.5 66.1h0M58.2 63.8h0M190.7 73.9h0M221.9 65.6h0M128.8 76.4h0M67.4 65.5h0M191.2 63.0h0M215.6 75.8h0M92.1 66.7h0M183.6 76.4h0M199.7 77.6h0M124.4 74.9h0M46.1 64.8h0M222.8 63.4h0M93.2 74.8h0M51.3 74.6h0M172.3 74.0h0M133.1 74.2h0M140.8 66.9h0M183.5 76.9h0M166.1 66.2h0M139.6 75.0h0M136.2 65.4h0M98.4 76.6h0M172.3 73.7h0M158.5 76.3h0M61.5 73.0h0M83.6 63.5h0M33.2 73.9h0M83.6 60.5h0M130.4 66.1h0M159.2 73.9h0M118.3 79.9h0M166.4 65.8h0M138.5 79.5h0M80.9 65.7h0M155.0 65.3h0M144.7 63.4h0M89.8 64.7h0M56.3 63.0h0M69.4 63.8h0M76.1 64.6h0M180.0 75.3h0M112.4 66.7h0M65.5 74.0h0M112.3 63.9h0M74.7 73.5h0M53.5 77.3h0M74.2 64.0h0M62.8 65.6h0M84.7 61.7h0M212.6 77.0h0M60.7 74.1h0M39.1 73.4h0M55.7 65.1h0M205.3 65.7h0M143.0 66.2h0M108.6 66.6h0M172.7 65.0h0M144.2 64.7h0M34.1 75.1h0M177.4 64.7h0M117.4 76.9h0M127.3 77.2h0M98.7 63.9h0M101.4 66.5h0M155.6 64.4h0M53.9 61.2h0M66.9 73.3h0M98.8 77.3h0M122.2 74.8h0M49.4 64.9h0M206.8 77.0h0M148.8 75.7h0M137.2 74.5h0M209.3 74.3h0M124.9 66.1h0M147.2 63.6h0M41.6 74.6h0M76.2 73.7h0M224.0 76.2h0M225.3 64.0h0M52.3 73.5h0M226.0 73.1h0M110.1 63.0h0M86.5 66.6h0M97.9 66.9h0M54.0 75.2h0M167.2 74.2h0M178.5 64.4h0M137.0 79.1h0M106.9 74.6h0M139.2 65.9h0M32.7 75.3h0M224.0 63.6h0M162.7 65.6h0M70.9 74.0h0M64.1 79.3h0M186.0 76.3h0M105.4 66.4h0M97.1 66.0h0M87.6 65.9h0M223.6 65.9h0M173.4 75.9h0M55.3 75.3h0M63.9 74.7h0M175.0 76.7h0M30.9 73.0h0M83.4 75.3h0M108.0 66.2h0M227.4 73.5h0M210.1 65.5h0M121.5 75.0h0M227.7 64.9h0M186.2 75.1h0M108.4 64.5h0M129.8 74.3h0" stroke="#73bf69" stroke-width="2.50" stroke-linecap="round" fill="none"/>
<path d="M258.60 55.75 H471.80" stroke="rgba(204,204,220,0.075)" stroke-width="0.5"/>
<path d="M258.60 75.95 H471.80" stroke="rgba(204,204,220,0.075)" stroke-width="0.5"/>
<path d="M258.60 96.65 H471.80" stroke="rgba(204,204,220,0.075)" stroke-width="0.5"/>
<path d="M285.13 51.25 V96.65" stroke="rgba(204,204,220,0.075)" stroke-width="0.5"/>
<path d="M324.54 51.25 V96.65" stroke="rgba(204,204,220,0.075)" stroke-width="0.5"/>
<path d="M363.94 51.25 V96.65" stroke="rgba(204,204,220,0.075)" stroke-width="0.5"/>
<path d="M403.34 51.25 V96.65" stroke="rgba(204,204,220,0.075)" stroke-width="0.5"/>
<path d="M442.75 51.25 V96.65" stroke="rgba(204,204,220,0.075)" stroke-width="0.5"/>
<rect x="251.00" y="109.30" width="5.4" height="1.7" rx="0.4" fill="#73bf69"/>
<path d="M259.0 60.1 L260.0 60.2 L261.0 60.3 L262.0 60.0 L263.0 60.4 L264.0 60.1 L265.0 60.4 L266.0 60.2 L267.0 60.2 L268.0 60.2 L269.0 60.2 L270.0 60.5 L271.0 60.5 L272.0 60.0 L273.0 60.4 L274.0 60.0 L275.0 60.3 L276.0 60.0 L277.0 60.3 L278.0 60.4 L279.0 60.1 L280.0 59.9 L281.0 60.2 L282.0 60.0 L283.0 60.2 L284.0 60.5 L285.0 60.3 L286.1 59.9 L287.1 60.3 L288.1 60.0 L289.1 60.0 L290.1 60.1 L291.1 60.4 L292.1 60.5 L293.1 59.9 L294.1 60.2 L295.1 60.2 L296.1 60.3 L297.1 60.3 L298.1 60.4 L299.1 60.4 L300.1 60.4 L301.1 60.4 L302.1 60.1 L303.1 60.0 L304.1 60.4 L305.1 60.2 L306.1 60.1 L307.1 60.2 L308.1 60.2 L309.1 60.4 L310.1 60.1 L311.1 60.1 L312.1 59.9 L313.1 60.3 L314.1 60.2 L315.1 59.9 L316.1 60.1 L317.1 60.4 L318.1 59.8 L319.1 60.3 L320.1 60.3 L321.1 60.2 L322.1 59.9 L323.1 60.2 L324.1 60.4 L325.1 60.2 L326.1 60.1 L327.1 60.2 L328.1 60.2 L329.1 59.9 L330.1 60.0 L331.1 60.3 L332.1 60.2 L333.1 60.2 L334.1 60.3 L335.1 60.2 L336.1 59.9 L337.1 60.1 L338.1 60.1 L339.2 60.3 L340.2 60.2 L341.2 60.2 L342.2 60.2 L343.2 60.1 L344.2 60.3 L345.2 60.2 L346.2 60.0 L347.2 60.0 L348.2 60.1 L349.2 59.7 L350.2 60.2 L351.2 60.1 L352.2 60.2 L353.2 60.0 L354.2 59.8 L355.2 59.9 L356.2 60.2 L357.2 59.8 L358.2 59.8 L359.2 59.9 L360.2 60.0 L361.2 59.8 L362.2 60.2 L363.2 60.1 L364.2 60.3 L365.2 59.8 L366.2 60.0 L367.2 60.1 L368.2 59.8 L369.2 60.2 L370.2 59.7 L371.2 59.9 L372.2 60.1 L373.2 59.7 L374.2 60.1 L375.2 59.8 L376.2 60.2 L377.2 60.0 L378.2 59.8 L379.2 59.7 L380.2 60.0 L381.2 60.1 L382.2 59.9 L383.2 59.8 L384.2 59.9 L385.2 60.2 L386.2 60.1 L387.2 59.7 L388.2 59.9 L389.2 60.2 L390.2 59.7 L391.2 60.2 L392.3 59.8 L393.3 60.0 L394.3 59.8 L395.3 59.9 L396.3 60.0 L397.3 60.2 L398.3 60.2 L399.3 60.2 L400.3 60.2 L401.3 60.1 L402.3 59.8 L403.3 59.8 L404.3 60.2 L405.3 60.2 L406.3 60.0 L407.3 59.9 L408.3 60.1 L409.3 59.7 L410.3 60.0 L411.3 59.7 L412.3 59.7 L413.3 59.9 L414.3 59.9 L415.3 60.0 L416.3 60.0 L417.3 59.7 L418.3 60.1 L419.3 60.1 L420.3 59.9 L421.3 59.9 L422.3 60.0 L423.3 59.7 L424.3 59.6 L425.3 59.6 L426.3 60.1 L427.3 59.6 L428.3 59.9 L429.3 59.7 L430.3 59.6 L431.3 59.7 L432.3 59.8 L433.3 60.1 L434.3 59.9 L435.3 60.1 L436.3 59.8 L437.3 60.0 L438.3 60.0 L439.3 60.1 L440.3 59.9 L441.3 60.0 L442.3 59.6 L443.3 60.0 L444.3 59.7 L445.4 60.0 L446.4 60.1 L447.4 60.0 L448.4 60.1 L449.4 59.9 L450.4 60.0 L451.4 59.5 L452.4 59.5 L453.4 59.8 L454.4 59.5 L455.4 59.8 L456.4 59.8 L457.4 59.9 L458.4 59.5 L459.4 59.5 L460.4 59.9 L461.4 59.9 L462.4 60.0 L463.4 59.6 L464.4 60.0 L465.4 59.6 L466.4 60.0 L467.4 59.5 L468.4 60.1 L469.4 59.8 L470.4 60.0 L471.4 59.9" fill="none" stroke="#73bf69" stroke-width="3.30" stroke-linecap="round" stroke-linejoin="round"/>
<path d="M496.60 60.25 H706.60" stroke="rgba(204,204,220,0.075)" stroke-width="0.5"/>
<path d="M496.60 78.55 H706.60" stroke="rgba(204,204,220,0.075)" stroke-width="0.5"/>
<path d="M496.60 96.65 H706.60" stroke="rgba(204,204,220,0.075)" stroke-width="0.5"/>
<path d="M522.74 51.25 V96.65" stroke="rgba(204,204,220,0.075)" stroke-width="0.5"/>
<path d="M561.55 51.25 V96.65" stroke="rgba(204,204,220,0.075)" stroke-width="0.5"/>
<path d="M600.36 51.25 V96.65" stroke="rgba(204,204,220,0.075)" stroke-width="0.5"/>
<path d="M639.17 51.25 V96.65" stroke="rgba(204,204,220,0.075)" stroke-width="0.5"/>
<path d="M677.98 51.25 V96.65" stroke="rgba(204,204,220,0.075)" stroke-width="0.5"/>
<rect x="485.50" y="109.30" width="5.4" height="1.7" rx="0.4" fill="#73bf69"/>
<path d="M496.3 66.5 L497.4 67.1 L498.5 67.3 L499.6 66.8 L500.7 66.6 L501.8 67.1 L502.9 66.9 L504.0 66.7 L505.1 66.6 L506.2 67.1 L507.3 66.7 L508.4 66.8 L509.5 67.0 L510.6 66.9 L511.7 67.4 L512.8 66.7 L513.9 67.1 L515.0 67.1 L516.1 67.2 L517.2 67.3 L518.3 67.0 L519.4 67.0 L520.5 67.4 L521.6 66.9 L522.7 67.1 L523.8 67.2 L524.9 67.5 L526.0 67.0 L527.1 67.5 L528.2 66.6 L529.3 67.4 L530.4 66.8 L531.5 67.5 L532.6 67.0 L533.7 66.7 L534.8 66.6 L535.9 66.7 L537.0 66.9 L538.1 66.6 L539.2 66.9 L540.3 67.1 L541.4 66.6 L542.5 66.7 L543.6 66.5 L544.7 67.1 L545.8 66.8 L546.9 66.9 L548.0 66.3 L549.1 67.0 L550.2 67.0 L551.3 67.1 L552.4 66.1 L553.5 66.3 L554.6 66.8 L555.7 66.8 L556.8 66.7 L557.9 66.8 L559.0 66.8 L560.1 66.8 L561.2 66.1 L562.3 66.1 L563.4 66.5 L564.5 66.8 L565.6 66.2 L566.7 66.8 L567.8 66.1 L568.9 65.9 L570.0 66.1 L571.1 66.8 L572.2 66.8 L573.3 66.6 L574.4 66.8 L575.5 66.4 L576.6 66.5 L577.7 66.1 L578.8 66.8 L579.9 66.8 L581.0 66.0 L582.1 66.0 L583.2 66.6 L584.3 66.1 L585.4 66.1 L586.5 66.2 L587.6 66.1 L588.7 66.4 L589.8 66.9 L590.9 66.5 L592.0 66.1 L593.1 66.3 L594.2 66.7 L595.3 66.1 L596.4 67.0 L597.5 66.5 L598.6 66.8 L599.7 66.5 L600.8 66.0 L601.9 66.8 L603.0 66.4 L604.1 66.3 L605.2 66.9 L606.3 66.3 L607.4 66.7 L608.5 66.6 L609.6 66.7 L610.7 66.2 L611.8 66.7 L612.9 66.8 L614.0 66.6 L615.1 66.0 L616.2 66.0 L617.3 66.5 L618.4 66.6 L619.5 66.8 L620.6 66.2 L621.7 66.5 L622.8 66.3 L623.9 66.1 L625.0 65.7 L626.1 66.1 L627.2 65.7 L628.3 66.0 L629.4 66.1 L630.5 65.7 L631.6 65.7 L632.7 66.0 L633.8 66.5 L634.9 65.9 L636.0 66.4 L637.1 66.2 L638.2 65.8 L639.3 66.5 L640.4 66.4 L641.5 65.5 L642.6 65.8 L643.7 66.3 L644.8 66.0 L645.9 66.4 L647.0 66.3 L648.1 65.8 L649.2 66.0 L650.3 65.7 L651.4 66.3 L652.5 65.7 L653.6 65.7 L654.7 65.4 L655.8 65.7 L656.9 65.5 L658.0 66.3 L659.1 65.6 L660.2 65.6 L661.3 65.4 L662.4 65.5 L663.5 65.7 L664.6 66.2 L665.7 65.9 L666.8 65.9 L667.9 65.3 L669.0 65.9 L670.1 66.1 L671.2 65.6 L672.3 65.7 L673.4 65.7 L674.5 65.5 L675.6 65.7 L676.7 65.9 L677.8 66.0 L678.9 65.2 L680.0 65.7 L681.1 65.4 L682.2 65.4 L683.3 65.6 L684.4 66.0 L685.5 65.8 L686.6 66.0 L687.7 65.1 L688.8 65.5 L689.9 65.8 L691.0 65.8 L692.1 65.5 L693.2 65.2 L694.3 65.9 L695.4 65.4 L696.5 65.7 L697.6 65.6 L698.7 65.9 L699.8 65.9 L700.9 65.7 L702.0 65.1 L703.1 65.4 L704.2 65.5 L705.3 65.8 L706.4 65.7 L706.4 73.7 L705.3 72.8 L704.2 73.5 L703.1 73.1 L702.0 73.7 L700.9 73.1 L699.8 73.4 L698.7 73.7 L697.6 73.6 L696.5 73.6 L695.4 73.3 L694.3 73.1 L693.2 73.0 L692.1 73.4 L691.0 72.9 L689.9 73.0 L688.8 72.9 L687.7 73.0 L686.6 73.1 L685.5 73.0 L684.4 72.8 L683.3 73.6 L682.2 72.8 L681.1 73.4 L680.0 73.1 L678.9 72.9 L677.8 73.6 L676.7 72.8 L675.6 72.8 L674.5 73.6 L673.4 73.5 L672.3 73.3 L671.2 72.8 L670.1 73.5 L669.0 73.1 L667.9 72.9 L666.8 73.7 L665.7 73.3 L664.6 73.6 L663.5 72.9 L662.4 73.6 L661.3 73.6 L660.2 73.1 L659.1 73.8 L658.0 73.0 L656.9 73.5 L655.8 73.6 L654.7 73.5 L653.6 73.2 L652.5 73.0 L651.4 73.1 L650.3 73.5 L649.2 73.3 L648.1 73.5 L647.0 73.7 L645.9 73.8 L644.8 73.3 L643.7 73.0 L642.6 73.6 L641.5 73.5 L640.4 73.1 L639.3 73.3 L638.2 73.4 L637.1 73.7 L636.0 73.5 L634.9 73.3 L633.8 73.8 L632.7 73.9 L631.6 73.5 L630.5 73.8 L629.4 73.7 L628.3 73.1 L627.2 73.6 L626.1 73.3 L625.0 73.6 L623.9 73.9 L622.8 73.3 L621.7 73.3 L620.6 74.0 L619.5 74.1 L618.4 73.8 L617.3 74.0 L616.2 73.4 L615.1 73.2 L614.0 74.1 L612.9 73.4 L611.8 74.0 L610.7 73.3 L609.6 73.8 L608.5 74.1 L607.4 74.0 L606.3 74.0 L605.2 73.4 L604.1 74.0 L603.0 73.7 L601.9 73.6 L600.8 73.7 L599.7 74.2 L598.6 74.2 L597.5 74.2 L596.4 73.2 L595.3 73.9 L594.2 73.3 L593.1 73.7 L592.0 73.9 L590.9 73.4 L589.8 73.4 L588.7 73.5 L587.6 73.5 L586.5 74.0 L585.4 74.1 L584.3 73.1 L583.2 73.3 L582.1 73.8 L581.0 73.7 L579.9 73.6 L578.8 73.7 L577.7 73.9 L576.6 73.5 L575.5 73.5 L574.4 73.0 L573.3 73.7 L572.2 73.0 L571.1 73.4 L570.0 73.5 L568.9 73.5 L567.8 73.1 L566.7 73.4 L565.6 73.1 L564.5 73.9 L563.4 73.4 L562.3 73.4 L561.2 73.9 L560.1 73.1 L559.0 73.7 L557.9 73.3 L556.8 73.5 L555.7 74.0 L554.6 74.0 L553.5 73.8 L552.4 73.4 L551.3 73.6 L550.2 74.1 L549.1 73.6 L548.0 73.4 L546.9 73.5 L545.8 74.1 L544.7 74.1 L543.6 73.8 L542.5 74.1 L541.4 73.5 L540.3 73.8 L539.2 73.7 L538.1 73.5 L537.0 73.5 L535.9 73.5 L534.8 73.9 L533.7 73.8 L532.6 74.1 L531.5 73.7 L530.4 74.1 L529.3 73.8 L528.2 74.3 L527.1 73.6 L526.0 74.4 L524.9 73.9 L523.8 73.9 L522.7 74.3 L521.6 74.1 L520.5 74.1 L519.4 74.0 L518.3 74.3 L517.2 74.0 L516.1 74.2 L515.0 73.8 L513.9 73.7 L512.8 73.9 L511.7 73.5 L510.6 73.7 L509.5 74.0 L508.4 73.9 L507.3 73.3 L506.2 73.9 L505.1 73.8 L504.0 73.8 L502.9 73.7 L501.8 73.8 L500.7 74.0 L499.6 73.4 L498.5 73.9 L497.4 73.7 L496.3 73.7 Z" fill="#73bf69" stroke="#73bf69" stroke-width="1.6" stroke-linejoin="round"/>
<path d="M702.0 73.4h0M620.7 75.2h0M575.3 61.6h0M686.5 60.9h0M683.4 65.0h0M559.1 66.3h0M600.0 75.4h0M648.8 73.8h0M635.1 65.3h0M621.0 73.1h0M599.0 66.8h0M607.0 65.9h0M634.6 63.0h0M677.9 65.6h0M632.2 74.6h0M502.3 73.4h0M505.4 74.5h0M564.4 74.2h0M646.1 75.4h0M705.1 72.7h0M651.0 66.4h0M645.1 66.2h0M628.8 65.4h0M538.9 65.7h0M582.5 66.1h0M669.1 74.4h0M565.1 66.0h0M575.8 66.8h0M616.4 73.7h0M680.7 65.0h0M580.0 73.6h0M578.5 67.2h0M567.1 66.8h0M705.0 73.3h0M652.5 73.0h0M537.8 65.7h0M660.7 75.0h0M588.1 67.3h0M665.2 65.1h0M659.8 73.9h0M515.7 65.7h0M578.0 73.0h0M533.4 74.9h0M553.3 75.1h0M680.5 62.6h0M525.9 65.6h0M525.5 73.9h0M527.3 73.7h0M587.0 73.0h0M670.1 64.6h0M616.5 73.9h0M633.3 64.1h0M521.7 67.2h0M645.5 74.4h0M545.8 75.6h0M637.4 73.5h0M589.3 66.4h0M657.1 76.2h0M680.2 66.0h0M662.6 76.6h0M584.8 67.1h0M516.4 62.3h0M535.9 73.7h0M657.3 73.8h0M518.2 67.1h0M648.4 66.2h0M509.2 64.1h0M693.6 61.0h0M658.5 72.7h0M562.8 64.3h0M576.5 75.3h0M568.1 72.8h0M693.2 66.2h0M675.3 65.1h0M574.8 61.6h0M499.8 65.0h0M520.1 66.2h0M704.9 65.4h0M576.1 66.6h0M569.2 73.2h0M622.9 73.1h0M697.6 65.8h0M645.1 64.5h0M535.1 75.6h0M648.3 74.3h0M703.8 65.6h0M676.2 75.2h0M653.5 75.6h0M648.3 74.2h0M583.9 74.0h0M584.7 75.5h0M510.7 67.0h0M570.0 73.2h0M660.9 63.5h0M679.0 60.3h0M612.3 65.3h0M568.3 74.3h0M679.6 65.0h0M664.5 66.2h0M586.6 73.0h0M639.2 63.8h0M627.8 73.0h0M517.1 76.1h0M563.8 66.6h0M576.5 75.0h0M664.9 72.8h0M615.0 67.1h0M534.4 77.3h0M534.5 61.9h0M669.2 63.6h0M636.9 65.7h0M653.9 66.4h0M554.0 64.5h0M625.1 73.2h0M643.2 72.9h0M646.9 64.0h0M568.5 66.5h0M498.5 67.6h0M594.3 66.9h0M698.6 75.0h0M646.5 74.3h0M671.8 65.8h0M672.3 73.0h0M518.4 74.6h0M533.0 75.5h0M614.2 64.8h0M678.9 64.0h0M620.3 74.0h0M617.0 63.3h0M501.4 73.7h0M643.2 59.2h0M701.8 72.6h0M625.7 74.0h0M508.4 74.6h0M619.9 73.1h0M666.3 74.3h0M556.8 64.9h0M646.8 77.9h0M667.0 72.5h0M605.2 74.7h0M564.2 72.9h0M646.4 74.2h0M701.2 73.2h0M572.6 75.1h0M517.3 66.6h0M633.4 66.2h0M660.2 73.2h0M679.6 63.5h0M622.2 75.9h0M590.5 64.5h0M687.1 66.3h0M590.4 73.6h0M569.9 61.2h0M517.6 74.1h0M687.7 60.4h0M567.3 73.6h0M635.3 65.8h0M646.3 64.1h0M502.5 64.6h0M644.9 58.9h0M692.6 64.9h0M620.3 74.0h0M639.0 73.3h0M567.7 67.2h0M569.5 74.3h0M604.8 73.2h0M580.6 65.7h0M634.4 73.6h0M660.4 64.9h0M617.1 66.9h0M601.1 75.6h0M690.6 64.5h0M572.2 67.1h0M550.1 76.4h0M698.6 75.2h0M507.8 73.9h0M545.6 63.9h0M702.6 73.0h0M557.3 73.2h0M588.3 73.5h0M614.8 65.7h0M549.0 75.7h0M599.2 74.1h0M703.7 73.2h0M555.8 63.1h0M610.8 74.7h0M654.9 74.4h0M538.3 74.4h0M620.0 64.1h0M678.3 72.8h0M629.1 74.1h0M622.5 75.2h0M596.9 66.5h0M697.4 61.0h0M610.7 74.8h0M685.5 74.2h0M501.1 66.9h0M561.0 74.7h0M518.8 65.7h0M595.8 67.2h0M692.9 74.6h0M556.2 73.9h0M539.9 67.1h0M573.1 60.3h0M650.7 76.0h0M533.8 74.0h0M673.6 73.3h0M616.4 65.1h0M619.3 64.5h0M678.6 65.2h0M581.2 73.3h0M621.3 73.5h0M528.7 65.2h0M648.2 64.5h0M556.9 64.8h0M588.1 74.2h0M575.2 64.8h0M521.0 66.7h0M625.4 66.5h0M496.7 64.7h0M521.1 65.3h0M543.7 66.7h0M620.1 65.7h0M594.5 66.0h0M533.9 77.2h0M569.6 73.8h0M679.6 64.9h0M674.1 72.7h0M601.8 73.9h0M678.0 66.5h0M593.1 65.7h0M563.0 66.2h0M678.4 65.7h0M647.1 73.8h0M601.6 76.5h0M661.2 75.0h0M532.0 66.6h0M691.0 72.8h0M675.9 73.2h0M517.7 73.2h0M665.9 73.0h0M589.4 65.4h0M580.9 73.0h0M618.3 65.8h0M576.9 73.0h0M690.0 72.6h0M604.7 66.2h0M559.2 65.4h0M677.9 64.4h0M704.0 74.6h0M641.7 65.7h0M533.8 75.1h0M577.5 66.2h0M599.3 65.8h0M655.6 73.7h0M589.7 65.7h0M649.2 75.7h0M545.7 67.3h0M587.4 74.5h0M658.9 64.7h0M534.7 74.6h0M581.9 62.8h0M657.3 76.3h0M568.7 64.1h0M497.1 73.6h0M635.0 66.3h0M619.4 63.7h0M514.2 77.4h0M588.0 73.4h0M514.1 67.1h0M501.0 66.4h0M569.9 65.3h0M697.9 74.6h0M692.4 76.1h0M665.1 75.3h0M618.4 65.3h0M661.7 74.2h0M635.3 73.5h0M651.3 66.0h0M609.7 75.1h0M524.5 67.3h0M503.3 74.2h0M515.6 75.6h0M533.3 65.2h0M608.8 67.2h0M543.8 73.9h0M575.2 66.0h0M654.9 74.0h0M582.8 74.2h0M543.8 78.6h0M562.7 74.8h0M671.7 57.5h0M686.5 74.1h0M546.4 74.5h0M575.2 73.3h0M577.4 73.6h0M681.6 73.2h0M559.1 73.7h0M593.7 74.4h0M687.4 64.8h0M551.8 67.0h0M643.3 77.6h0M634.3 62.7h0M558.9 75.3h0M573.4 66.8h0M547.2 73.6h0M534.9 64.3h0M696.0 65.6h0M666.5 75.2h0M626.4 73.0h0M548.9 65.8h0M675.4 63.0h0M571.1 65.9h0M600.3 73.9h0M674.2 74.8h0M698.4 64.6h0M609.2 62.9h0M550.6 67.3h0M545.3 75.4h0M561.7 74.0h0M650.2 65.5h0M666.9 73.5h0M532.7 76.7h0M554.1 65.8h0M563.4 74.0h0M671.9 77.2h0M563.5 66.0h0M653.5 73.3h0M697.0 75.8h0M650.5 75.2h0M666.4 65.3h0M509.4 67.2h0M628.1 67.0h0M525.3 59.8h0M660.7 65.3h0M664.1 73.3h0M641.2 66.8h0M630.7 74.0h0M512.3 64.7h0M524.4 67.4h0M544.6 62.1h0M657.3 65.6h0M617.9 73.6h0M653.3 61.7h0M577.7 73.8h0M505.3 66.1h0M502.0 73.3h0M611.9 63.1h0M563.5 73.5h0M676.0 73.5h0M581.6 64.4h0M552.2 73.7h0M685.2 75.1h0M540.4 67.6h0M565.5 75.2h0M525.7 65.8h0M594.7 74.9h0M509.6 75.3h0M616.3 75.5h0M568.8 76.4h0M599.1 73.3h0M556.3 75.4h0M582.0 62.9h0M547.7 64.6h0M605.4 74.5h0M704.6 78.0h0M558.3 72.9h0M512.5 74.2h0M588.4 64.7h0M558.9 73.6h0M624.4 73.6h0M588.1 66.1h0M619.4 64.9h0M517.5 66.4h0M615.0 63.9h0M528.6 73.7h0M511.8 66.6h0M560.4 73.2h0M651.5 76.3h0M562.2 73.0h0M674.3 65.3h0M612.3 74.4h0M698.8 57.8h0M663.2 64.3h0M532.7 73.9h0M679.1 64.1h0M541.9 74.3h0M542.3 65.2h0M658.2 66.1h0M553.2 74.2h0M652.1 66.3h0M527.4 73.5h0M648.3 64.6h0M600.2 74.9h0M632.4 74.8h0M504.9 75.6h0M592.7 74.2h0M596.1 65.5h0M618.6 66.5h0M607.3 74.1h0M660.3 73.5h0M542.4 67.5h0M626.7 73.9h0M659.8 66.1h0M556.4 73.9h0M625.9 62.5h0M618.6 73.1h0M524.6 74.3h0M686.0 72.7h0M623.1 65.8h0M509.4 67.4h0M595.0 75.3h0M577.6 75.4h0M572.6 67.1h0M674.0 65.1h0M632.2 75.6h0M672.3 72.8h0M670.5 66.3h0M575.6 74.0h0M660.0 73.0h0M606.0 66.9h0M629.8 66.6h0M555.2 67.1h0M617.3 76.8h0M670.0 72.6h0M568.2 73.3h0M502.1 74.5h0M686.4 74.0h0M641.3 72.8h0M666.2 64.5h0M547.6 66.7h0M601.8 73.5h0M669.2 64.9h0M572.7 66.2h0M582.5 66.6h0M529.4 67.6h0M555.2 64.3h0M510.3 64.4h0M500.8 64.4h0M529.4 66.8h0M545.3 73.4h0M550.4 67.3h0M560.7 73.3h0M597.9 63.4h0M660.8 74.9h0M636.6 74.3h0M620.5 75.5h0M603.8 75.9h0M632.9 67.0h0M568.1 73.1h0M544.7 74.3h0M604.6 73.2h0M594.6 73.9h0M600.1 74.0h0M653.3 62.0h0M699.2 74.3h0M694.1 73.1h0M578.3 66.8h0M661.7 64.0h0M644.0 74.4h0M550.1 75.9h0M513.7 67.5h0M703.8 73.5h0M656.9 73.6h0M615.8 64.2h0M628.9 66.8h0M680.9 60.3h0M518.1 74.8h0M647.9 73.6h0M557.6 73.6h0M652.8 66.1h0M658.7 74.9h0M644.4 73.3h0M619.2 73.9h0M620.8 73.9h0M583.1 73.5h0M647.8 75.2h0M625.9 63.4h0M634.8 76.4h0M611.3 73.5h0M606.7 66.5h0M504.9 67.5h0M524.1 66.3h0M595.8 63.8h0M504.4 73.2h0M498.8 74.6h0M560.4 78.3h0M669.7 73.3h0M645.3 64.6h0M676.9 63.9h0M695.3 73.0h0M540.9 74.0h0M640.6 73.8h0M554.1 63.6h0M617.4 75.3h0M644.5 65.4h0M630.9 73.8h0M537.0 73.8h0M564.7 65.5h0M614.6 75.0h0M563.4 64.3h0M606.9 65.5h0M586.7 64.0h0M658.4 73.6h0M627.2 73.9h0M691.7 65.3h0M610.6 66.2h0M682.0 74.9h0M654.6 66.6h0M526.9 65.5h0M509.0 63.6h0M622.4 73.7h0M621.5 63.1h0M508.5 75.1h0M699.8 73.6h0M656.1 64.2h0M580.6 64.1h0M679.7 65.1h0M581.8 66.9h0M508.9 65.1h0M657.5 65.8h0M570.1 63.4h0M557.3 74.0h0M669.2 72.9h0M608.1 73.2h0M583.3 73.7h0M662.7 64.4h0M503.4 75.2h0M612.8 65.3h0M636.3 73.0h0M521.0 65.4h0M671.3 64.4h0M693.8 64.3h0M534.7 74.4h0M498.6 74.4h0M543.8 63.6h0M515.8 66.8h0M560.9 66.7h0M561.9 65.7h0M676.7 76.6h0M577.7 73.0h0M659.8 65.9h0M621.5 74.9h0M513.4 66.4h0M683.8 61.3h0M553.9 66.8h0M625.4 63.6h0M696.0 66.2h0M559.7 73.1h0M533.3 77.2h0M538.0 67.4h0M521.2 67.2h0M567.7 67.2h0M674.0 73.1h0M580.9 74.1h0M680.3 65.7h0M699.3 74.9h0M631.0 72.9h0M514.1 74.0h0M585.1 66.3h0M617.2 66.0h0M635.5 74.9h0M705.9 73.0h0M512.5 66.7h0M497.5 65.5h0M542.8 66.8h0M525.7 67.1h0M533.1 67.2h0M531.9 73.4h0M571.0 62.9h0M549.3 76.7h0M594.3 74.1h0M535.1 74.2h0M697.8 65.0h0M638.4 64.9h0M701.5 62.3h0M611.6 74.7h0M666.5 74.0h0M552.5 65.9h0M567.7 73.7h0M683.6 65.1h0M540.4 74.5h0M615.7 74.3h0M520.0 73.3h0M523.4 74.8h0M633.2 74.5h0M631.6 75.9h0M524.9 73.4h0M643.9 61.6h0M636.6 63.6h0M548.4 75.4h0M589.1 66.5h0M578.9 66.8h0M540.2 67.3h0M655.3 74.5h0M529.5 65.6h0M639.3 62.8h0M689.3 61.8h0M608.3 74.7h0M512.0 66.6h0M672.5 72.6h0M605.3 74.2h0M688.5 73.0h0M634.5 66.4h0M659.4 73.6h0M602.1 64.2h0M585.4 64.6h0M666.6 73.5h0M549.4 67.2h0M678.3 62.5h0M702.3 78.4h0M622.0 67.1h0M550.8 66.6h0M535.8 67.3h0M515.0 74.8h0M542.0 74.3h0M704.4 77.8h0M593.3 74.3h0M545.7 74.2h0M633.2 64.1h0M539.9 66.4h0M607.7 73.9h0M546.6 66.7h0M638.6 60.1h0M588.2 73.8h0M666.9 74.3h0M505.5 65.8h0M697.3 62.6h0M554.4 76.7h0M669.2 73.8h0M585.9 76.1h0M508.7 64.3h0M576.8 74.5h0M498.3 67.3h0M546.6 74.0h0M636.6 74.7h0M644.5 66.2h0M595.2 73.1h0M662.9 66.0h0M663.6 76.5h0M537.7 67.3h0M602.8 74.6h0M618.2 65.1h0M689.2 73.2h0M661.2 64.0h0M658.6 66.7h0M653.6 73.7h0M681.4 74.5h0M500.3 65.8h0M683.5 66.3h0M543.5 67.1h0M513.2 76.3h0M671.4 64.0h0M588.0 73.1h0M603.2 73.4h0M702.2 73.4h0M592.7 74.8h0M509.9 66.1h0M686.3 72.6h0M696.2 79.4h0M644.7 65.0h0M595.8 67.0h0M553.8 73.1h0M638.5 74.0h0M537.7 67.5h0M665.1 65.1h0M509.0 73.7h0M543.8 67.1h0M507.0 73.6h0M532.7 64.3h0M640.7 72.8h0M622.7 65.3h0M630.1 73.3h0M673.3 64.6h0M602.8 75.5h0M624.9 62.4h0M666.2 73.6h0M696.0 66.1h0M560.8 74.0h0M694.6 62.6h0M688.5 65.5h0M639.5 65.8h0M615.0 66.0h0M511.6 73.7h0M578.0 73.8h0M563.8 73.1h0M656.7 73.5h0M687.5 64.7h0M612.4 73.4h0M561.4 65.5h0M538.7 73.7h0M506.0 66.2h0M588.4 74.4h0M614.7 63.7h0M703.3 66.2h0M590.5 77.4h0M640.3 75.4h0M691.7 65.4h0M698.6 66.4h0M541.8 67.0h0M639.9 73.4h0M510.4 73.4h0M645.8 73.6h0M649.0 66.5h0M626.5 75.3h0M685.3 66.2h0M702.0 78.6h0M637.2 63.5h0M534.3 66.9h0M502.5 66.2h0M608.4 67.1h0M624.8 73.5h0M605.1 67.3h0M559.6 73.2h0M555.3 74.5h0M696.7 72.8h0M690.1 65.1h0M696.3 64.2h0M684.4 72.8h0M541.4 73.4h0M509.7 63.8h0M611.1 73.2h0M503.9 66.2h0M526.5 76.1h0M622.7 57.8h0M662.6 65.2h0M540.4 66.3h0M549.7 74.0h0M507.8 67.4h0M616.2 74.4h0M688.2 64.0h0M522.2 65.6h0M552.6 73.9h0M596.5 66.4h0M680.2 77.3h0M497.0 65.9h0M544.2 66.0h0M684.9 76.2h0M565.2 66.8h0M584.2 73.5h0M694.7 65.7h0M667.4 65.7h0M525.8 67.6h0M660.4 64.5h0M674.4 65.1h0M551.3 67.4h0M622.3 66.6h0M692.8 74.8h0M665.3 61.8h0M645.9 74.2h0M565.1 73.4h0M564.3 65.6h0M574.6 73.0h0M562.7 73.8h0M665.0 72.9h0M643.7 65.2h0M544.8 67.2h0M659.7 74.3h0M678.5 73.8h0M695.5 66.4h0M536.8 73.5h0M562.4 64.4h0M661.3 74.8h0M613.7 65.4h0M616.2 74.7h0M536.4 73.9h0M512.3 67.8h0M558.7 65.7h0M652.6 66.5h0M673.4 73.9h0M563.2 67.2h0M649.7 65.6h0M518.1 73.4h0M674.2 65.7h0M589.9 73.6h0M542.2 74.5h0M577.1 74.4h0M625.1 66.2h0M588.1 73.4h0M538.2 65.6h0M665.2 66.0h0M612.6 74.3h0M547.3 74.2h0M623.0 73.5h0M702.7 62.3h0M653.7 65.8h0M502.9 65.6h0M685.2 66.2h0M650.3 74.9h0M673.2 72.5h0M599.4 74.3h0M572.8 66.4h0M689.8 66.2h0M563.5 75.0h0M569.0 73.4h0M547.0 66.0h0M664.7 66.5h0M683.1 66.3h0M627.0 66.7h0M689.1 73.8h0M589.8 67.2h0M702.4 73.9h0M536.6 73.5h0M594.1 75.3h0M516.7 74.7h0M676.8 65.3h0M500.7 73.6h0M625.4 76.3h0M699.3 72.7h0M633.9 73.5h0M615.8 66.8h0M499.6 66.0h0M682.4 64.2h0M582.1 63.1h0M622.5 74.1h0M641.3 64.4h0M676.3 65.5h0M501.8 77.3h0M511.6 73.5h0M521.4 74.0h0M519.1 73.5h0M640.3 73.1h0M545.9 76.0h0M681.6 66.2h0M543.4 77.6h0M536.3 74.1h0M611.0 66.6h0M662.0 73.0h0M651.9 76.2h0M689.7 64.9h0M558.2 64.5h0M694.4 64.9h0M552.2 74.4h0M521.0 73.3h0M564.2 65.1h0M564.8 65.0h0M512.0 73.4h0M671.7 73.4h0M703.8 59.1h0M651.4 66.2h0M700.1 64.2h0M594.5 73.3h0M578.3 73.6h0M690.3 75.3h0M573.2 73.2h0M668.7 73.2h0M527.7 66.3h0M665.6 66.3h0M680.3 64.2h0M613.7 66.8h0M698.4 76.0h0M665.7 73.9h0M652.5 65.9h0M687.3 66.4h0M535.7 74.0h0" stroke="#73bf69" stroke-width="2.50" stroke-linecap="round" fill="none"/>
<path d="M30.40 137.57 H237.00" stroke="rgba(204,204,220,0.075)" stroke-width="0.5"/>
<path d="M30.40 158.97 H237.00" stroke="rgba(204,204,220,0.075)" stroke-width="0.5"/>
<path d="M30.40 180.77 H237.00" stroke="rgba(204,204,220,0.075)" stroke-width="0.5"/>
<path d="M56.11 135.57 V180.77" stroke="rgba(204,204,220,0.075)" stroke-width="0.5"/>
<path d="M94.30 135.57 V180.77" stroke="rgba(204,204,220,0.075)" stroke-width="0.5"/>
<path d="M132.48 135.57 V180.77" stroke="rgba(204,204,220,0.075)" stroke-width="0.5"/>
<path d="M170.66 135.57 V180.77" stroke="rgba(204,204,220,0.075)" stroke-width="0.5"/>
<path d="M208.85 135.57 V180.77" stroke="rgba(204,204,220,0.075)" stroke-width="0.5"/>
<rect x="16.30" y="193.62" width="5.4" height="1.7" rx="0.4" fill="#73bf69"/>
<path d="M232.2 155.2h0M182.5 167.6h0M76.7 172.4h0M57.7 168.9h0M110.7 174.7h0M57.1 156.7h0M49.6 167.7h0M37.9 177.3h0M78.7 167.4h0M139.5 166.9h0M70.2 156.2h0M180.1 170.4h0M117.4 166.7h0M201.3 156.9h0M83.6 159.2h0M225.5 171.0h0M158.8 160.1h0M90.2 165.6h0M76.8 178.0h0M215.0 163.7h0M140.5 163.5h0M130.9 159.8h0M62.5 160.7h0M53.3 168.0h0M220.1 174.3h0M175.3 171.5h0M51.2 144.9h0M233.8 166.8h0M147.6 166.2h0M92.3 155.1h0M144.9 159.7h0M199.6 161.3h0M123.3 164.9h0M123.5 162.6h0M41.9 157.9h0M143.5 154.7h0M148.0 161.6h0M111.5 161.7h0M150.7 161.1h0M130.1 160.0h0M100.2 156.0h0M99.6 161.7h0M172.4 169.4h0M232.5 158.5h0M95.9 168.4h0M106.9 162.9h0M199.2 173.4h0M210.3 166.6h0M225.1 162.5h0M100.6 159.6h0M161.4 166.2h0M212.4 165.5h0M160.5 168.3h0M91.8 170.6h0M209.9 162.6h0M184.3 174.7h0M97.8 164.8h0M114.3 172.5h0M153.8 159.6h0M118.5 174.8h0M60.6 166.9h0M171.6 151.7h0M144.2 175.0h0M34.8 155.1h0M132.2 170.5h0M82.1 165.5h0M126.8 159.4h0M86.0 153.6h0M35.3 176.7h0M144.9 164.8h0M55.8 178.8h0M140.7 169.6h0M208.0 167.1h0M196.8 154.6h0M84.5 165.0h0M189.2 171.6h0M194.6 165.3h0M130.0 156.6h0M72.4 160.3h0M137.6 156.9h0M180.9 179.8h0M54.7 162.9h0M91.4 157.6h0M90.8 158.6h0M222.4 154.5h0M43.6 168.3h0M89.7 175.9h0M139.2 166.4h0M226.9 160.5h0M105.5 161.4h0M109.3 165.8h0M165.2 167.7h0M96.8 155.4h0M88.7 167.7h0M122.4 162.4h0M168.6 169.9h0M53.0 163.2h0M169.3 166.7h0M93.6 171.9h0M167.7 163.3h0M139.5 169.0h0M163.4 156.0h0M39.4 172.3h0M116.8 173.0h0M231.5 157.2h0M184.6 156.0h0M229.0 156.7h0M119.6 152.4h0M87.3 168.6h0M215.0 167.9h0M166.9 166.3h0M126.7 165.3h0M143.8 164.1h0M86.2 165.8h0M211.4 163.1h0M87.8 153.4h0M168.9 166.6h0M227.6 169.9h0M76.3 163.7h0M209.7 169.1h0M172.8 154.5h0M127.3 158.2h0M219.4 165.8h0M81.0 159.6h0M142.3 154.4h0M165.7 168.6h0M184.1 160.9h0M184.4 161.9h0M232.7 158.4h0M80.4 157.3h0M56.9 156.9h0M181.0 167.6h0M129.4 162.3h0M42.7 164.9h0M57.7 162.9h0M62.0 169.1h0M101.8 158.8h0M223.3 174.9h0M235.2 164.8h0M81.4 163.9h0M236.3 160.7h0M73.6 153.1h0M81.8 171.1h0M107.4 169.3h0M128.8 165.8h0M111.5 166.0h0M221.5 160.2h0M45.7 159.0h0M121.1 158.8h0M114.9 171.4h0M196.1 163.3h0M33.9 175.7h0M62.7 168.5h0M94.7 153.1h0M73.3 173.1h0M51.1 163.6h0M234.2 160.0h0M135.9 162.7h0M108.1 159.1h0M109.4 161.8h0M181.9 160.8h0M184.9 176.0h0M225.0 172.0h0M178.1 175.2h0M70.0 171.2h0M69.1 160.9h0M75.6 176.2h0M80.5 164.8h0M214.6 174.3h0M161.8 167.2h0M209.9 173.4h0M204.6 159.3h0M127.3 171.0h0M181.1 162.2h0M185.8 155.3h0M179.2 171.5h0M65.3 158.7h0M154.2 161.1h0M38.8 163.8h0M183.0 158.8h0M82.0 171.9h0M163.0 165.8h0M191.4 152.3h0M66.2 161.6h0M58.1 157.3h0M188.8 170.1h0M46.2 160.9h0M140.4 161.5h0M52.9 170.4h0M102.3 172.5h0M231.6 159.0h0M71.0 164.6h0M140.1 160.0h0M230.2 164.5h0M136.5 166.2h0M202.4 155.4h0M53.9 173.1h0M66.4 162.9h0M154.0 171.1h0M52.8 168.0h0M42.8 154.2h0M187.4 168.6h0M223.4 166.5h0M155.4 156.3h0M228.1 170.1h0M143.8 170.4h0M35.8 172.4h0M102.1 158.1h0M194.7 154.8h0M144.8 166.3h0M208.0 162.1h0M188.2 164.8h0M79.9 151.7h0M180.2 158.5h0M47.0 174.4h0M127.5 151.0h0M84.7 157.3h0M42.3 167.4h0M205.4 160.9h0M198.8 159.9h0M68.2 174.5h0M129.6 156.9h0M55.9 162.0h0M144.5 165.8h0M61.9 158.5h0M98.7 164.1h0M151.5 152.1h0M123.8 162.1h0M149.9 164.3h0M142.3 161.1h0M69.6 157.4h0M217.4 165.1h0M228.8 160.7h0M108.7 176.5h0M83.8 160.5h0M225.5 161.8h0M213.8 168.5h0M60.9 160.6h0M65.2 158.1h0M176.5 170.7h0M136.1 165.2h0M196.2 160.5h0M128.5 167.7h0M142.7 162.6h0M203.8 166.5h0M74.8 166.6h0M229.3 168.9h0M48.6 159.8h0M79.2 159.1h0M192.4 166.2h0M38.4 168.5h0M167.5 173.1h0M166.6 167.7h0M53.8 168.2h0M99.5 164.2h0M195.9 163.7h0M174.7 175.7h0M187.3 161.3h0M128.6 168.4h0M159.9 167.6h0M88.4 165.3h0M43.4 166.1h0M137.8 148.0h0M100.6 153.4h0M180.2 170.6h0M146.6 155.8h0M159.0 154.3h0M75.8 166.3h0M61.3 163.7h0M72.4 158.8h0M201.1 170.4h0M84.7 179.5h0M210.7 150.4h0M198.4 158.6h0M64.9 162.0h0M111.1 165.8h0M47.1 171.6h0M229.1 162.4h0M58.7 166.2h0M124.0 173.2h0M95.4 169.3h0M163.3 161.5h0M212.5 170.1h0M126.0 172.9h0M185.2 159.9h0M182.2 159.8h0M171.5 162.8h0M40.3 165.9h0M204.8 176.3h0M37.3 167.1h0M76.1 158.1h0M219.8 160.6h0M219.7 162.7h0M46.2 162.9h0M183.1 155.1h0M129.2 163.5h0M187.6 169.1h0M134.8 174.4h0M181.3 166.5h0M193.9 155.4h0M156.3 166.3h0M194.1 164.3h0M204.0 169.3h0M86.0 174.3h0M192.6 166.1h0M209.0 167.3h0M225.2 164.6h0M90.7 168.3h0M51.4 169.5h0M34.1 170.5h0M45.8 172.1h0M187.6 169.3h0M66.9 164.9h0M56.6 172.4h0M46.9 165.7h0M56.8 176.8h0M65.3 165.0h0M116.6 165.4h0M106.6 161.4h0M202.6 162.6h0M138.9 162.3h0M203.0 160.0h0M76.0 163.6h0M217.2 161.6h0M88.9 167.5h0M154.4 170.6h0M156.7 157.6h0M104.4 165.8h0M105.7 174.3h0M93.6 164.2h0M205.4 150.8h0M57.6 165.5h0M46.5 157.8h0M197.5 157.9h0M46.7 163.7h0M146.1 153.2h0M217.8 166.3h0M59.8 170.2h0M36.3 162.2h0M186.1 169.1h0M64.2 154.5h0M183.2 179.0h0M106.6 158.2h0M204.4 175.0h0M152.3 173.3h0M167.5 165.3h0M79.3 160.0h0M45.9 165.3h0M37.3 164.1h0M165.8 145.0h0M60.7 165.2h0M141.3 168.8h0M227.1 175.5h0M229.2 172.5h0M144.8 171.6h0M53.4 155.5h0M179.5 168.7h0M125.9 170.2h0M98.2 168.0h0M104.2 173.2h0M161.3 162.2h0M33.4 159.7h0M64.2 173.9h0M36.7 164.8h0M150.2 168.2h0M99.1 169.7h0M109.6 155.0h0M219.3 175.2h0M228.3 154.1h0M215.0 171.4h0M234.4 162.3h0M88.0 164.2h0M235.4 163.9h0M171.5 180.3h0M162.3 169.9h0M114.4 148.7h0M219.7 165.4h0M58.7 165.1h0M39.7 169.6h0M61.8 157.0h0M190.1 160.2h0M202.5 160.5h0M37.3 151.8h0M230.9 154.9h0M154.6 168.7h0M189.2 163.1h0M141.8 161.7h0M42.6 173.0h0M94.5 157.6h0M99.3 163.4h0M142.7 167.7h0M176.0 161.1h0M209.0 170.4h0M175.1 167.6h0M216.7 168.4h0M162.6 169.1h0M108.7 170.6h0M156.7 171.8h0M94.2 156.0h0M82.8 168.9h0M165.6 167.8h0M167.7 154.5h0M53.4 163.8h0M67.1 169.8h0M165.7 173.5h0M109.1 168.2h0M220.9 161.0h0M216.4 169.1h0M162.2 173.4h0M84.6 164.7h0M113.9 168.1h0M189.6 158.7h0M107.5 174.1h0M171.8 160.4h0M164.4 172.3h0M133.1 164.3h0M66.6 167.5h0M151.7 162.6h0M175.8 164.6h0M49.6 173.6h0M118.2 175.2h0M116.5 160.4h0M98.7 159.1h0M228.2 160.6h0M121.8 158.8h0M151.3 167.5h0M79.7 159.2h0M53.9 180.1h0M196.6 153.4h0M153.7 159.7h0M45.0 158.2h0M96.5 161.9h0M140.8 167.8h0M221.5 165.6h0M123.6 159.1h0M216.6 160.1h0M159.3 162.8h0M66.1 167.0h0M108.8 159.0h0M196.8 168.8h0M59.1 170.9h0M107.7 154.8h0M186.5 179.0h0M75.5 167.3h0M123.0 167.8h0M167.0 171.0h0M64.0 160.9h0M49.2 157.3h0M201.4 159.9h0" stroke="#73bf69" stroke-width="2.56" stroke-linecap="round" fill="none"/>
<path d="M262.90 149.87 H471.80" stroke="rgba(204,204,220,0.075)" stroke-width="0.5"/>
<path d="M262.90 165.17 H471.80" stroke="rgba(204,204,220,0.075)" stroke-width="0.5"/>
<path d="M262.90 180.77 H471.80" stroke="rgba(204,204,220,0.075)" stroke-width="0.5"/>
<path d="M288.90 135.57 V180.77" stroke="rgba(204,204,220,0.075)" stroke-width="0.5"/>
<path d="M327.51 135.57 V180.77" stroke="rgba(204,204,220,0.075)" stroke-width="0.5"/>
<path d="M366.12 135.57 V180.77" stroke="rgba(204,204,220,0.075)" stroke-width="0.5"/>
<path d="M404.72 135.57 V180.77" stroke="rgba(204,204,220,0.075)" stroke-width="0.5"/>
<path d="M443.33 135.57 V180.77" stroke="rgba(204,204,220,0.075)" stroke-width="0.5"/>
<rect x="251.00" y="193.62" width="5.4" height="1.7" rx="0.4" fill="#73bf69"/>
<path d="M263.8 142.3 L264.8 142.3 L265.8 142.3 L266.8 142.6 L267.8 142.8 L268.8 142.5 L269.8 142.4 L270.8 142.3 L271.8 142.6 L272.8 142.4 L273.8 142.7 L274.8 142.5 L275.8 142.7 L276.8 142.3 L277.8 142.6 L278.8 142.6 L279.8 142.7 L280.8 142.4 L281.8 142.3 L282.8 142.4 L283.8 142.7 L284.8 142.8 L285.8 142.6 L286.8 142.6 L287.8 142.6 L288.8 142.9 L289.8 142.5 L290.8 142.2 L291.8 142.5 L292.8 142.4 L293.8 142.4 L294.8 142.5 L295.8 142.7 L296.8 142.9 L297.8 142.2 L298.8 142.3 L299.8 142.4 L300.8 142.7 L301.8 142.4 L302.8 142.4 L303.8 142.6 L304.8 142.3 L305.8 142.6 L306.8 142.2 L307.8 142.4 L308.8 142.8 L309.8 142.6 L310.8 142.7 L311.8 142.4 L312.8 142.3 L313.8 142.8 L314.8 142.6 L315.8 142.5 L316.8 142.6 L317.8 142.8 L318.8 142.7 L319.8 142.4 L320.8 142.9 L321.8 142.5 L322.8 142.5 L323.8 142.3 L324.8 142.9 L325.8 142.6 L326.8 142.6 L327.8 142.9 L328.8 142.3 L329.8 142.4 L330.8 142.3 L331.8 142.6 L332.8 142.2 L333.8 142.9 L334.8 142.6 L335.8 142.8 L336.8 142.8 L337.8 142.9 L338.8 142.4 L339.8 142.7 L340.8 142.7 L341.8 142.9 L342.8 142.4 L343.8 142.7 L344.8 142.8 L345.8 142.6 L346.8 142.3 L347.8 142.8 L348.8 142.2 L349.8 142.5 L350.8 142.4 L351.8 142.5 L352.8 142.8 L353.8 142.9 L354.8 142.8 L355.8 142.8 L356.8 142.2 L357.8 142.6 L358.8 142.6 L359.8 142.7 L360.8 142.5 L361.8 142.8 L362.8 142.3 L363.8 142.8 L364.8 142.8 L365.8 142.6 L366.8 142.6 L367.8 142.3 L368.9 142.8 L369.9 142.8 L370.9 142.3 L371.9 142.6 L372.9 142.3 L373.9 142.9 L374.9 142.7 L375.9 142.8 L376.9 142.6 L377.9 142.8 L378.9 142.4 L379.9 142.6 L380.9 142.6 L381.9 142.8 L382.9 142.5 L383.9 142.2 L384.9 142.6 L385.9 142.4 L386.9 142.4 L387.9 142.4 L388.9 142.8 L389.9 142.5 L390.9 142.5 L391.9 142.4 L392.9 142.6 L393.9 142.6 L394.9 142.7 L395.9 142.8 L396.9 142.8 L397.9 142.5 L398.9 142.6 L399.9 142.8 L400.9 142.7 L401.9 142.3 L402.9 142.6 L403.9 142.5 L404.9 142.7 L405.9 142.4 L406.9 142.7 L407.9 142.6 L408.9 142.7 L409.9 142.7 L410.9 142.5 L411.9 142.4 L412.9 142.3 L413.9 142.7 L414.9 142.8 L415.9 142.4 L416.9 142.5 L417.9 142.3 L418.9 142.8 L419.9 142.7 L420.9 142.9 L421.9 142.6 L422.9 142.4 L423.9 142.6 L424.9 142.4 L425.9 142.5 L426.9 142.7 L427.9 142.6 L428.9 142.4 L429.9 142.5 L430.9 142.8 L431.9 142.6 L432.9 142.8 L433.9 142.8 L434.9 142.3 L435.9 142.4 L436.9 142.7 L437.9 142.5 L438.9 142.5 L439.9 142.7 L440.9 142.4 L441.9 142.3 L442.9 142.4 L443.9 142.5 L444.9 142.6 L445.9 142.2 L446.9 142.3 L447.9 142.7 L448.9 142.7 L449.9 142.6 L450.9 142.7 L451.9 142.5 L452.9 142.9 L453.9 142.3 L454.9 142.8 L455.9 142.7 L456.9 142.8 L457.9 142.9 L458.9 142.4 L459.9 142.5 L460.9 142.6 L461.9 142.4 L462.9 142.5 L463.9 142.6 L464.9 142.5 L465.9 142.8 L466.9 142.4 L467.9 142.7 L468.9 142.7 L469.9 142.5 L470.9 142.9 L471.9 142.8" fill="none" stroke="#73bf69" stroke-width="2.20" stroke-linecap="round" stroke-linejoin="round"/>
<path d="M500.00 150.67 H706.60" stroke="rgba(204,204,220,0.075)" stroke-width="0.5"/>
<path d="M500.00 165.67 H706.60" stroke="rgba(204,204,220,0.075)" stroke-width="0.5"/>
<path d="M500.00 180.77 H706.60" stroke="rgba(204,204,220,0.075)" stroke-width="0.5"/>
<path d="M525.71 135.57 V180.77" stroke="rgba(204,204,220,0.075)" stroke-width="0.5"/>
<path d="M563.90 135.57 V180.77" stroke="rgba(204,204,220,0.075)" stroke-width="0.5"/>
<path d="M602.08 135.57 V180.77" stroke="rgba(204,204,220,0.075)" stroke-width="0.5"/>
<path d="M640.26 135.57 V180.77" stroke="rgba(204,204,220,0.075)" stroke-width="0.5"/>
<path d="M678.45 135.57 V180.77" stroke="rgba(204,204,220,0.075)" stroke-width="0.5"/>
<rect x="485.50" y="193.62" width="5.4" height="1.7" rx="0.4" fill="#73bf69"/>
<path d="M698.3 168.3h0M547.0 162.1h0M568.3 164.2h0M503.5 163.7h0M534.4 166.3h0M635.4 164.4h0M568.1 162.0h0M620.1 161.0h0M580.8 163.6h0M629.8 168.7h0M584.6 162.0h0M553.4 166.0h0M537.1 164.1h0M623.5 164.8h0M665.7 167.6h0M585.7 163.5h0M690.8 160.4h0M541.3 172.0h0M673.7 169.1h0M666.4 167.6h0M613.1 161.3h0M705.8 163.5h0M537.0 164.5h0M578.2 165.2h0M530.0 167.3h0M517.5 168.5h0M531.8 170.2h0M550.3 165.6h0M514.9 162.2h0M630.3 162.3h0M613.1 161.1h0M564.1 164.3h0M674.1 163.4h0M684.0 160.3h0M673.5 163.4h0M651.6 166.2h0M619.6 171.2h0M541.1 166.3h0M600.1 164.1h0M619.5 165.6h0M622.0 166.7h0M563.3 161.8h0M616.7 169.0h0M674.3 164.3h0M502.3 167.8h0M533.6 163.5h0M568.4 165.8h0M543.6 166.3h0M547.6 165.3h0M517.2 170.1h0M541.4 168.3h0M547.3 166.3h0M609.7 165.4h0M600.8 167.1h0M514.8 167.9h0M581.7 163.0h0M613.6 168.3h0M581.4 164.2h0M544.8 161.9h0M626.6 168.4h0M557.0 166.4h0M573.5 164.4h0M660.3 169.2h0M502.3 167.0h0M615.9 164.7h0M572.1 165.6h0M682.2 166.9h0M534.5 165.7h0M664.8 165.2h0M639.5 169.1h0M502.5 167.3h0M665.2 167.1h0M601.1 161.9h0M669.9 170.3h0M514.1 167.2h0M564.6 166.6h0M591.1 158.8h0M638.7 168.5h0M698.6 163.8h0M617.3 163.9h0M533.0 164.0h0M692.3 164.5h0M562.7 166.8h0M542.9 164.1h0M550.9 167.5h0M653.9 162.1h0M618.8 166.5h0M506.7 166.9h0M692.2 168.2h0M500.2 171.6h0M558.8 163.9h0M514.4 164.2h0M685.1 165.2h0M645.5 165.6h0M704.4 167.3h0M586.3 165.1h0M625.9 165.4h0M653.2 169.4h0M635.9 168.5h0M607.2 159.5h0M702.7 167.7h0M639.6 167.5h0M691.8 162.4h0M684.2 165.8h0M597.2 168.0h0M555.8 166.3h0M635.5 165.6h0M565.4 164.5h0M685.9 167.0h0M580.4 160.9h0M697.1 168.2h0M612.3 161.2h0M632.5 165.8h0M503.1 169.0h0M511.2 158.8h0M618.9 164.9h0M662.8 166.8h0M557.1 158.8h0M602.7 167.4h0M644.2 164.2h0M585.2 166.3h0M574.3 166.8h0M506.0 170.4h0M549.8 163.6h0M665.3 171.2h0M593.0 165.4h0M518.6 158.9h0M508.2 170.0h0M558.7 166.8h0M541.1 168.5h0M675.3 160.9h0M525.1 170.2h0M547.5 166.1h0M537.9 165.4h0M621.4 161.1h0M548.3 163.9h0M623.7 167.6h0M548.6 165.0h0M538.4 169.0h0M602.1 164.4h0M602.4 167.0h0M644.6 166.2h0M552.0 159.4h0M537.8 164.8h0M597.6 165.6h0M670.7 162.2h0M688.1 163.6h0M605.3 164.4h0M691.5 166.0h0M540.8 167.4h0M681.5 166.5h0M625.8 166.2h0M650.6 162.7h0M646.0 167.4h0M580.6 169.0h0M628.1 167.1h0M698.1 165.0h0M540.4 164.3h0M563.6 164.9h0M548.4 163.0h0M538.5 164.8h0M646.5 168.4h0M675.2 168.0h0M701.0 167.3h0M581.8 168.1h0M670.3 169.4h0M508.2 167.3h0M575.3 166.4h0M523.8 167.7h0M697.4 166.7h0M617.0 164.1h0M558.5 172.0h0M529.1 165.7h0M689.2 165.7h0M610.0 168.6h0M514.7 164.9h0M576.6 164.4h0M516.6 166.6h0M642.5 169.6h0M549.2 160.7h0M627.3 165.1h0M688.6 170.5h0M502.3 170.5h0M702.9 170.3h0M675.3 168.6h0M659.1 168.1h0M617.9 160.8h0M512.2 164.0h0M617.6 168.6h0M574.5 164.7h0M528.0 168.4h0M697.4 162.7h0M699.2 163.4h0M668.9 161.7h0M653.6 163.1h0M661.8 168.7h0M554.9 166.1h0M578.4 161.7h0M589.6 166.1h0M509.1 164.8h0M603.0 169.4h0M690.0 168.6h0M573.8 162.9h0M682.5 168.5h0M631.8 167.2h0M596.5 163.7h0M642.0 165.1h0M573.0 162.6h0M674.9 163.6h0M552.0 162.4h0M575.4 167.0h0M518.6 166.3h0M546.4 162.8h0M675.5 162.8h0M616.7 163.9h0M671.5 168.7h0M504.0 170.0h0M530.2 167.8h0M582.2 167.3h0M679.1 168.4h0M580.9 165.3h0M522.3 165.1h0M530.3 165.7h0M618.2 163.1h0M678.8 162.7h0M613.2 164.2h0M636.0 162.5h0M528.0 163.4h0M700.5 164.5h0M663.0 161.1h0M545.5 161.9h0M536.2 166.5h0M669.0 163.1h0M689.5 165.5h0M565.6 163.3h0M521.0 168.3h0M552.6 167.1h0M632.0 172.2h0M664.8 165.1h0M576.3 163.5h0M696.3 162.5h0M588.5 162.8h0M686.7 166.0h0M644.4 170.7h0M650.9 169.7h0M610.1 165.1h0M586.2 162.8h0M658.2 162.0h0M547.8 165.5h0M633.3 164.6h0M536.2 163.8h0M529.4 168.4h0M648.7 162.8h0M599.1 161.3h0M673.6 165.1h0M635.8 161.9h0M552.8 163.4h0M529.0 164.0h0M624.9 168.0h0M534.1 163.9h0M632.2 166.6h0M652.6 170.3h0M543.3 164.4h0M637.0 168.1h0M643.4 168.8h0M692.4 164.2h0M544.1 165.1h0M662.4 173.8h0M581.1 167.2h0M584.3 166.1h0M504.3 163.8h0M569.9 161.6h0M571.6 164.7h0M625.4 167.9h0M560.9 166.2h0M690.7 165.6h0M636.0 167.2h0M655.3 168.6h0M578.5 160.1h0M574.7 157.3h0M593.5 167.8h0M598.8 168.6h0M611.0 163.9h0M624.0 168.8h0M689.1 165.4h0M525.8 164.2h0M579.6 165.9h0M536.9 166.9h0M673.9 169.1h0M597.0 168.1h0M652.2 164.7h0M581.9 165.7h0M687.9 165.8h0M584.9 161.4h0M653.6 168.4h0M574.3 167.7h0M586.6 165.9h0M558.1 163.8h0M616.5 163.6h0M591.4 170.8h0M500.8 168.1h0M585.1 167.4h0M500.0 171.1h0M645.5 164.1h0M595.0 163.0h0M686.1 165.8h0M530.6 163.1h0M563.9 165.0h0M520.7 167.5h0M645.2 164.6h0M653.8 169.2h0M600.7 163.8h0M670.7 164.7h0M574.3 164.7h0M687.3 163.9h0M659.6 170.0h0M665.5 163.2h0M702.5 162.1h0M600.5 163.8h0M653.8 168.9h0M540.2 166.5h0M532.3 163.6h0M650.6 164.7h0M541.8 169.4h0M555.3 161.1h0M612.6 166.1h0M697.3 166.6h0M673.4 166.0h0M706.5 167.3h0M615.3 168.0h0M703.5 167.9h0M679.1 167.5h0M559.9 168.0h0M705.5 166.7h0M564.3 162.5h0M666.0 170.2h0M646.4 165.0h0M651.7 169.9h0M653.2 171.1h0M638.4 164.2h0M646.7 162.5h0M590.4 161.0h0M636.7 164.3h0M587.1 165.0h0M560.9 164.9h0M674.1 165.7h0M566.0 163.5h0M598.6 164.9h0M656.3 163.7h0M635.7 161.8h0M700.1 164.0h0M518.0 164.5h0M695.2 162.0h0M649.0 164.8h0M653.8 165.5h0M612.1 166.9h0M570.9 162.6h0M701.5 164.8h0M694.7 163.0h0M623.2 160.0h0M575.9 164.2h0M616.4 167.5h0M512.4 172.2h0M535.0 168.9h0M541.3 164.0h0M652.6 163.8h0M504.9 171.1h0M662.8 166.9h0M545.9 160.7h0M651.9 168.0h0M599.4 166.4h0M536.0 166.3h0M585.5 167.1h0M644.0 165.0h0M654.9 162.5h0M529.1 167.8h0M701.9 167.5h0M510.4 166.4h0M549.3 168.5h0M559.9 166.3h0M704.0 166.7h0M684.2 165.1h0M507.8 163.0h0M552.2 164.4h0M606.2 167.9h0M614.4 167.0h0M632.0 165.3h0M666.3 165.7h0M582.3 164.4h0M574.3 165.5h0M564.3 166.1h0M678.6 161.6h0M556.8 166.0h0M511.0 168.1h0M523.2 159.0h0M668.1 171.5h0M546.2 166.7h0M519.6 165.4h0M694.1 164.7h0M683.4 167.3h0M606.5 164.6h0M509.7 164.9h0M549.3 164.1h0M626.6 168.0h0M622.0 165.1h0M538.2 165.5h0M703.7 166.8h0M573.6 169.9h0M622.2 168.9h0M575.3 167.9h0M665.0 168.0h0M647.2 163.7h0M704.2 167.0h0M611.7 165.6h0M559.6 165.8h0M520.5 175.4h0M547.7 163.6h0M536.4 166.3h0M558.0 161.1h0M700.0 165.2h0M585.8 170.4h0M632.4 167.2h0M698.8 165.6h0M636.0 164.6h0M578.4 164.4h0M506.9 164.6h0M604.4 159.3h0M549.5 166.3h0M620.3 162.5h0M629.3 164.3h0M639.7 162.8h0M524.1 165.1h0M511.3 162.4h0M583.4 164.3h0M657.8 165.3h0M595.1 167.3h0M691.4 164.0h0M639.6 166.1h0M687.0 164.3h0M669.5 163.1h0M621.4 165.3h0M625.8 164.1h0M550.7 163.4h0M604.8 167.3h0M518.0 164.5h0M625.5 166.2h0M535.2 169.7h0M592.4 168.8h0M538.4 161.8h0M662.1 171.6h0M652.9 167.5h0M552.0 167.3h0M596.0 163.0h0M666.3 164.1h0M564.0 162.9h0M640.3 170.6h0M626.0 164.9h0M558.1 168.2h0M680.7 167.4h0M603.7 168.0h0M622.2 169.2h0M687.7 165.6h0M654.6 170.2h0M566.6 166.9h0M627.8 159.2h0M527.6 166.2h0M693.3 158.3h0M639.0 165.4h0M701.7 166.7h0M544.8 166.7h0M608.2 164.5h0M630.9 164.1h0M632.4 165.1h0M552.6 163.7h0M613.2 166.7h0M525.4 166.0h0M674.9 169.2h0M669.2 165.4h0M666.4 165.0h0M603.9 169.8h0M668.8 165.8h0M656.7 165.9h0M676.0 166.2h0M644.1 164.4h0M604.1 169.2h0M637.6 168.0h0M574.7 162.8h0M524.8 163.2h0M608.2 166.9h0M603.1 162.2h0M511.7 165.0h0M613.1 167.3h0M547.2 164.2h0M576.8 164.5h0M586.0 164.6h0M663.0 173.2h0M500.2 171.7h0M629.4 165.5h0M648.7 159.8h0M520.4 168.4h0M504.3 166.9h0M694.4 166.1h0M657.2 166.9h0M501.5 168.2h0M544.2 167.3h0M517.5 166.9h0M629.4 163.7h0M559.7 164.4h0M513.4 166.3h0M676.2 163.6h0M628.0 160.7h0M538.8 165.4h0M659.7 163.5h0M673.1 166.0h0M671.0 163.8h0M687.7 165.0h0M549.4 167.3h0M571.5 167.3h0M622.5 161.9h0M537.2 161.1h0M661.7 141.9h0" stroke="#73bf69" stroke-width="2.56" stroke-linecap="round" fill="none"/>
<path d="M36.00 225.79 H237.00" stroke="rgba(204,204,220,0.075)" stroke-width="0.5"/>
<path d="M36.00 238.79 H237.00" stroke="rgba(204,204,220,0.075)" stroke-width="0.5"/>
<path d="M36.00 251.59 H237.00" stroke="rgba(204,204,220,0.075)" stroke-width="0.5"/>
<path d="M36.00 264.69 H237.00" stroke="rgba(204,204,220,0.075)" stroke-width="0.5"/>
<path d="M61.02 219.89 V264.69" stroke="rgba(204,204,220,0.075)" stroke-width="0.5"/>
<path d="M98.16 219.89 V264.69" stroke="rgba(204,204,220,0.075)" stroke-width="0.5"/>
<path d="M135.31 219.89 V264.69" stroke="rgba(204,204,220,0.075)" stroke-width="0.5"/>
<path d="M172.46 219.89 V264.69" stroke="rgba(204,204,220,0.075)" stroke-width="0.5"/>
<path d="M209.61 219.89 V264.69" stroke="rgba(204,204,220,0.075)" stroke-width="0.5"/>
<rect x="16.30" y="277.94" width="5.4" height="1.7" rx="0.4" fill="#73bf69"/>
<path d="M43.6 235.9h0M48.1 240.1h0M54.6 230.3h0M60.9 231.8h0M65.4 241.1h0M70.2 236.4h0M74.7 240.1h0M79.5 238.9h0M86.7 227.6h0M91.5 237.6h0M99.3 226.1h0M106.3 229.3h0M111.6 234.9h0M117.6 233.8h0M123.4 231.8h0M131.4 226.8h0M136.4 238.1h0M142.4 232.1h0M147.7 235.6h0M154.7 228.1h0M161.2 230.3h0M166.2 237.9h0M171.5 235.9h0M176.3 236.4h0M181.8 233.8h0M186.1 244.9h0M191.3 234.9h0M209.1 232.6h0M213.4 243.4h0M219.9 234.1h0M227.7 228.8h0" stroke="#73bf69" stroke-width="2.80" stroke-linecap="round" fill="none"/>
<path d="M261.80 228.29 H471.80" stroke="rgba(204,204,220,0.075)" stroke-width="0.5"/>
<path d="M261.80 246.59 H471.80" stroke="rgba(204,204,220,0.075)" stroke-width="0.5"/>
<path d="M261.80 264.69 H471.80" stroke="rgba(204,204,220,0.075)" stroke-width="0.5"/>
<path d="M287.94 219.89 V264.69" stroke="rgba(204,204,220,0.075)" stroke-width="0.5"/>
<path d="M326.75 219.89 V264.69" stroke="rgba(204,204,220,0.075)" stroke-width="0.5"/>
<path d="M365.56 219.89 V264.69" stroke="rgba(204,204,220,0.075)" stroke-width="0.5"/>
<path d="M404.37 219.89 V264.69" stroke="rgba(204,204,220,0.075)" stroke-width="0.5"/>
<path d="M443.18 219.89 V264.69" stroke="rgba(204,204,220,0.075)" stroke-width="0.5"/>
<rect x="251.00" y="277.94" width="5.4" height="1.7" rx="0.4" fill="#73bf69"/>
<path d="M269.8 227.3h0M274.6 227.3h0M281.4 227.3h0M288.4 227.3h0M292.7 227.3h0M297.7 227.3h0M302.4 227.3h0M307.2 227.3h0M314.7 227.3h0M319.7 227.3h0M328.0 227.3h0M335.5 227.3h0M341.1 227.3h0M346.8 227.3h0M353.3 227.3h0M361.9 227.3h0M366.4 227.3h0M372.9 227.3h0M378.4 227.3h0M385.7 227.3h0M393.0 227.3h0M398.0 227.3h0M403.3 226.8h0M408.3 227.3h0M414.3 227.3h0M418.5 227.3h0M423.8 227.3h0M442.6 227.3h0M447.1 227.3h0M453.9 227.3h0M462.2 227.3h0" stroke="#73bf69" stroke-width="2.80" stroke-linecap="round" fill="none"/>
<path d="M502.00 230.29 H706.60" stroke="rgba(204,204,220,0.075)" stroke-width="0.5"/>
<path d="M502.00 247.59 H706.60" stroke="rgba(204,204,220,0.075)" stroke-width="0.5"/>
<path d="M502.00 264.69 H706.60" stroke="rgba(204,204,220,0.075)" stroke-width="0.5"/>
<path d="M527.46 219.89 V264.69" stroke="rgba(204,204,220,0.075)" stroke-width="0.5"/>
<path d="M565.28 219.89 V264.69" stroke="rgba(204,204,220,0.075)" stroke-width="0.5"/>
<path d="M603.09 219.89 V264.69" stroke="rgba(204,204,220,0.075)" stroke-width="0.5"/>
<path d="M640.90 219.89 V264.69" stroke="rgba(204,204,220,0.075)" stroke-width="0.5"/>
<path d="M678.72 219.89 V264.69" stroke="rgba(204,204,220,0.075)" stroke-width="0.5"/>
<rect x="485.50" y="277.94" width="5.4" height="1.7" rx="0.4" fill="#73bf69"/>
<path d="M510.1 235.9h0M514.6 231.6h0M521.1 242.1h0M527.4 240.6h0M531.9 231.1h0M537.2 235.1h0M541.7 230.8h0M546.2 232.3h0M553.7 244.9h0M558.5 234.1h0M566.3 245.9h0M573.3 242.9h0M579.1 237.9h0M584.8 238.9h0M591.1 240.4h0M599.4 245.1h0M604.1 233.1h0M609.9 240.6h0M615.4 236.4h0M622.7 244.4h0M629.2 241.4h0M634.5 233.1h0M639.5 234.9h0M644.8 234.9h0M650.3 237.9h0M654.3 226.8h0M660.1 237.4h0M677.6 242.1h0M682.4 231.3h0M688.9 241.1h0M697.2 245.9h0" stroke="#73bf69" stroke-width="2.80" stroke-linecap="round" fill="none"/>
<path d="M30.40 314.31 H237.00" stroke="rgba(204,204,220,0.075)" stroke-width="0.5"/>
<path d="M30.40 326.11 H237.00" stroke="rgba(204,204,220,0.075)" stroke-width="0.5"/>
<path d="M30.40 337.41 H237.00" stroke="rgba(204,204,220,0.075)" stroke-width="0.5"/>
<path d="M30.40 349.21 H237.00" stroke="rgba(204,204,220,0.075)" stroke-width="0.5"/>
<path d="M56.11 304.21 V349.21" stroke="rgba(204,204,220,0.075)" stroke-width="0.5"/>
<path d="M94.30 304.21 V349.21" stroke="rgba(204,204,220,0.075)" stroke-width="0.5"/>
<path d="M132.48 304.21 V349.21" stroke="rgba(204,204,220,0.075)" stroke-width="0.5"/>
<path d="M170.66 304.21 V349.21" stroke="rgba(204,204,220,0.075)" stroke-width="0.5"/>
<path d="M208.85 304.21 V349.21" stroke="rgba(204,204,220,0.075)" stroke-width="0.5"/>
<rect x="16.30" y="362.26" width="5.4" height="1.7" rx="0.4" fill="#73bf69"/>
<path d="M211.8 318.2h0M227.0 327.6h0M94.9 322.5h0M64.2 321.7h0M102.4 322.1h0M166.6 320.0h0M103.0 324.1h0M110.2 325.6h0M125.5 328.4h0M77.3 319.3h0M234.5 314.8h0M199.1 315.9h0M139.0 322.1h0M236.8 330.9h0M159.5 327.4h0M188.5 326.8h0M212.2 332.4h0M182.5 320.6h0M111.5 317.7h0M187.5 321.2h0M159.8 324.2h0M152.3 318.0h0M229.5 324.4h0M174.8 313.6h0M56.1 322.4h0M84.7 326.6h0M56.6 328.5h0M192.1 324.9h0M209.6 327.0h0M33.4 324.1h0M69.9 332.3h0M96.5 324.8h0M179.9 317.3h0M206.4 323.6h0M166.2 326.9h0M103.9 324.6h0M232.2 321.8h0M221.0 324.9h0M115.9 328.0h0M220.3 325.5h0M132.1 325.9h0M100.6 328.7h0M81.2 332.7h0M79.0 327.2h0M55.3 321.2h0M236.4 326.6h0M74.0 322.9h0M208.5 320.1h0M131.1 319.2h0M140.9 315.5h0M127.7 324.4h0M173.4 322.2h0M187.6 321.0h0M184.7 321.5h0M205.8 326.0h0M167.4 317.1h0M102.6 320.5h0M163.3 324.0h0M100.5 323.1h0M84.8 322.5h0M48.1 323.9h0M200.8 328.6h0M219.8 327.7h0M146.6 323.4h0M102.6 327.5h0M95.1 320.0h0M202.0 318.1h0M128.9 323.6h0M128.6 329.1h0M92.8 323.2h0M123.4 324.3h0M45.0 329.5h0M36.6 327.0h0M171.4 329.7h0M179.6 325.6h0M182.5 324.4h0M184.3 320.7h0M108.8 322.6h0M226.3 326.2h0M103.2 318.8h0M154.7 318.3h0M206.6 320.2h0M146.8 327.2h0M174.7 325.6h0M51.4 314.7h0M164.1 320.5h0M169.6 318.2h0M234.2 322.7h0M88.4 320.5h0M136.6 322.5h0M167.3 318.3h0M84.7 315.3h0M73.4 322.9h0M219.0 324.8h0M73.5 311.0h0M114.8 324.6h0M125.1 319.2h0M96.7 323.7h0M203.3 323.5h0M197.1 322.2h0M180.0 318.2h0M128.1 324.1h0M83.4 321.8h0M152.6 323.6h0M100.0 321.2h0M234.8 321.5h0M33.1 321.5h0M57.2 325.8h0M231.5 319.8h0M98.2 322.9h0M69.5 312.0h0M229.6 318.3h0M77.9 323.9h0M188.3 317.4h0M62.7 327.0h0M217.8 322.7h0M41.5 329.2h0M42.9 326.2h0M66.4 327.4h0M187.8 321.4h0M204.7 318.2h0M74.1 326.2h0M98.0 317.3h0M140.6 321.1h0M105.4 325.3h0M108.9 319.4h0M128.8 324.9h0M183.8 317.8h0M201.1 318.4h0M50.2 329.9h0M130.4 318.4h0M64.8 326.0h0M196.2 320.0h0M54.7 328.3h0M209.2 323.7h0M110.7 320.3h0M89.2 324.8h0M157.5 328.7h0M218.3 320.8h0M192.1 318.9h0M52.4 321.2h0M46.6 322.7h0M89.8 320.2h0M47.2 324.9h0M157.5 327.1h0M236.4 321.3h0M130.7 323.9h0M124.5 323.5h0M210.9 326.1h0M152.2 312.6h0M186.4 319.9h0M142.1 321.4h0M87.9 324.8h0M76.2 318.6h0M57.7 324.9h0M70.3 325.9h0M228.1 325.7h0M213.0 320.2h0M69.8 330.1h0M157.0 322.1h0M87.9 326.9h0M160.3 322.3h0M175.8 323.5h0M35.7 316.6h0M171.0 328.4h0M140.1 326.0h0M32.0 319.3h0M213.1 326.5h0M220.9 316.3h0M171.3 321.6h0M132.3 322.4h0M78.1 322.9h0M157.9 321.8h0M44.0 314.6h0M236.6 320.8h0M175.2 325.5h0M235.2 323.2h0M216.4 325.8h0M205.4 319.5h0M196.2 323.6h0M71.8 324.7h0M75.6 325.6h0M123.1 315.6h0M157.9 322.0h0M77.6 322.9h0M58.3 326.8h0M63.8 331.7h0M205.6 320.3h0M179.0 321.5h0M141.8 328.4h0M193.3 317.3h0M56.5 322.5h0M208.8 320.7h0M83.8 320.4h0M167.5 319.8h0M188.9 323.5h0M174.9 326.2h0M112.9 310.7h0M154.0 327.0h0M200.2 324.8h0M117.0 328.1h0M111.2 322.9h0M69.2 325.1h0M135.0 318.2h0M154.4 316.6h0M90.2 323.8h0M77.7 318.4h0M97.9 323.6h0M69.4 324.9h0M59.8 328.6h0M127.3 311.3h0M49.0 319.3h0M85.1 327.1h0M207.4 325.2h0M63.9 321.1h0M204.3 321.8h0M145.4 329.6h0M220.0 322.1h0M191.7 323.5h0M231.4 323.3h0M68.9 329.9h0M152.5 324.2h0M65.4 321.6h0M125.4 323.8h0M104.7 325.8h0M99.2 326.2h0M208.1 323.1h0M189.5 322.0h0M183.1 320.7h0M91.0 326.9h0M208.4 319.3h0M83.4 329.8h0M208.3 323.8h0M64.7 334.2h0M115.0 320.9h0M192.7 318.5h0M66.4 329.7h0M214.3 321.9h0M66.0 321.3h0M225.4 324.5h0M235.6 319.1h0M102.2 324.4h0M46.3 329.3h0M52.7 330.0h0M201.1 319.9h0M94.4 323.2h0M56.4 323.2h0M156.6 319.9h0M123.7 320.9h0M182.5 321.0h0M70.6 316.9h0M234.1 326.4h0M142.9 317.6h0M165.0 323.2h0M229.9 322.0h0M146.3 322.5h0M100.9 317.7h0M56.0 325.1h0M102.2 325.8h0M173.4 319.0h0M154.1 321.7h0M145.4 324.0h0M65.4 317.7h0M38.2 321.2h0M205.8 313.4h0M106.7 316.1h0M107.3 324.3h0M45.1 331.1h0M63.8 323.7h0M222.7 331.6h0M160.3 319.9h0M170.3 319.7h0M223.6 320.8h0M74.9 326.7h0M115.9 320.4h0M142.5 325.0h0M222.0 319.9h0M130.2 319.5h0M62.9 325.9h0M146.4 321.5h0M189.7 321.8h0M189.7 321.4h0M120.6 322.6h0M132.0 320.6h0M225.7 327.5h0M135.8 327.9h0M119.5 324.4h0M51.9 329.0h0M54.3 327.1h0M152.9 322.8h0M107.2 323.7h0M82.6 323.1h0M183.9 320.6h0M141.0 321.6h0M82.4 330.3h0M165.8 319.9h0M88.8 324.8h0M162.6 316.1h0M115.5 322.8h0M53.9 321.5h0M106.6 319.5h0M59.8 329.7h0M189.8 325.1h0M102.4 325.7h0M235.7 319.4h0M82.8 324.0h0M94.0 319.8h0M232.1 319.7h0M189.7 322.4h0M44.2 325.7h0M121.4 322.0h0M113.0 325.9h0M219.4 325.8h0M201.8 332.5h0M221.8 318.0h0M133.1 323.1h0M204.4 320.8h0M78.8 325.3h0M231.3 327.3h0M206.2 322.2h0M110.1 317.7h0M43.3 325.9h0M119.4 325.2h0M74.3 322.7h0M209.0 324.0h0M165.3 317.3h0M85.4 320.0h0M48.6 321.6h0M108.4 321.3h0M152.0 324.8h0M44.3 328.1h0M110.6 325.4h0M144.3 323.1h0M209.1 325.4h0M121.3 331.0h0M177.7 326.7h0M169.7 321.4h0M166.1 316.1h0M48.4 326.2h0M209.4 322.2h0M45.1 325.5h0M79.8 333.0h0M161.7 323.0h0M131.1 322.8h0M173.7 328.5h0M151.1 325.5h0M149.6 321.4h0M131.7 323.5h0M189.1 319.5h0M156.7 324.5h0M44.3 329.0h0M153.4 323.6h0M143.1 325.8h0M216.2 324.3h0M54.7 329.6h0M228.2 320.1h0M64.4 322.8h0M136.3 323.6h0M197.7 320.5h0M219.3 326.8h0M162.5 319.7h0M220.2 322.7h0M228.2 322.3h0M219.5 325.2h0M100.7 320.2h0M204.2 326.9h0M51.1 323.6h0M186.8 321.4h0M63.0 322.0h0M137.7 319.7h0M209.5 329.1h0M90.6 322.1h0M161.1 321.7h0M76.3 328.1h0M135.0 327.1h0M180.5 325.2h0M180.8 325.5h0M177.3 326.7h0M188.3 324.9h0M97.8 326.1h0M223.1 324.3h0M82.4 323.4h0M90.7 323.9h0M232.6 316.7h0M65.3 326.7h0M137.9 324.1h0M133.3 314.5h0M137.8 320.9h0M94.7 321.8h0M86.7 327.6h0M52.6 325.5h0M52.3 329.3h0M117.9 324.2h0M34.0 320.2h0M54.8 327.1h0M216.9 322.0h0M114.2 321.5h0M152.3 322.6h0M90.5 323.7h0M81.3 325.7h0M90.5 327.4h0M36.2 318.5h0M122.7 322.1h0M199.3 321.9h0M219.2 321.8h0M54.5 328.9h0M95.7 326.1h0M130.6 324.5h0M118.2 326.9h0M227.1 321.9h0M214.2 319.0h0M117.6 323.0h0M66.1 332.8h0M190.9 317.0h0M144.5 319.1h0M169.0 324.1h0M111.7 320.0h0M164.5 322.1h0M39.3 326.7h0M154.3 323.9h0M145.5 320.4h0M226.0 319.7h0M116.1 326.3h0M233.0 326.0h0M101.7 321.9h0M169.6 317.8h0M192.9 318.4h0M38.2 325.8h0M49.7 326.8h0M135.0 315.2h0M130.4 320.3h0M101.3 320.2h0M79.3 324.0h0M111.3 330.1h0M209.0 317.7h0M75.1 324.9h0M210.1 328.0h0M83.2 331.0h0M209.1 324.7h0M72.0 324.2h0M69.3 332.9h0M66.7 326.1h0M32.7 318.0h0M93.7 321.6h0M55.7 320.7h0M50.8 321.0h0M156.1 316.6h0M173.3 322.0h0M91.2 324.8h0M203.7 316.9h0M171.1 318.6h0M69.9 333.7h0M179.8 323.3h0M181.3 317.2h0M71.0 329.5h0M101.9 323.0h0M90.0 316.5h0M165.7 319.9h0M176.6 326.8h0M229.7 317.7h0M63.4 324.1h0M224.3 322.7h0M197.4 322.4h0M212.9 326.1h0M199.9 322.6h0M176.6 318.0h0M68.4 325.2h0M91.7 319.9h0M162.3 320.4h0M109.4 330.4h0M62.6 319.7h0M150.9 324.7h0M150.5 311.1h0M220.7 321.4h0M73.5 325.9h0M52.5 324.7h0M44.8 322.4h0M43.3 327.5h0M176.9 321.4h0M127.3 326.7h0M213.2 314.7h0M85.0 316.3h0M53.6 327.4h0M232.7 316.5h0M57.0 327.5h0M44.8 322.5h0M147.1 327.8h0M108.7 323.9h0M105.8 327.5h0M85.5 322.6h0M148.3 319.8h0M38.4 328.7h0M99.3 318.4h0M227.7 321.6h0M46.5 323.6h0M77.5 320.3h0M82.1 329.5h0M75.0 319.7h0M135.3 324.9h0M168.5 324.5h0M144.9 323.4h0M204.2 318.6h0M103.7 324.9h0M58.8 331.7h0M62.2 324.7h0M102.3 313.1h0M50.9 325.5h0M188.4 322.7h0M190.8 323.3h0M147.0 319.1h0M94.7 322.5h0M206.5 322.3h0M227.3 326.4h0M143.6 324.1h0M84.8 333.4h0M104.5 328.7h0M208.3 321.4h0M45.1 318.3h0M36.1 329.1h0M143.0 327.1h0M120.1 316.5h0M52.7 324.0h0M81.8 318.6h0M35.8 323.1h0M153.1 319.1h0M150.0 324.7h0M124.5 324.2h0M42.3 330.3h0M63.6 323.8h0M225.6 322.2h0M111.2 321.2h0M179.0 329.9h0M64.9 330.2h0M162.2 320.8h0M64.3 326.4h0M201.5 318.1h0M125.0 325.3h0M107.8 325.5h0M117.8 323.1h0M193.1 315.7h0M146.1 324.3h0M203.4 326.0h0M123.2 321.2h0M189.8 321.3h0M32.0 328.9h0M222.6 322.4h0M78.9 323.4h0M97.9 320.3h0M55.6 327.5h0M129.5 325.3h0M208.0 322.1h0M160.0 323.1h0M225.4 322.4h0M155.8 324.7h0M84.7 322.1h0M227.1 322.7h0M181.3 319.3h0M92.7 322.0h0M88.3 319.2h0M146.5 325.7h0M110.0 327.1h0M67.5 327.4h0M201.8 317.4h0M129.5 324.9h0M47.3 326.6h0M131.5 332.1h0M32.8 331.1h0M186.3 318.6h0M63.9 321.0h0M40.4 320.9h0M102.4 320.2h0M132.0 318.2h0M33.7 321.3h0M81.8 322.2h0M56.7 326.4h0M220.8 318.4h0M49.9 321.5h0M204.2 328.0h0M89.2 321.2h0M128.6 320.3h0M199.2 315.7h0M179.8 319.7h0M91.2 323.6h0M233.2 321.9h0M40.7 322.2h0M158.0 325.4h0M92.1 325.3h0M59.9 326.0h0M89.4 323.3h0M131.4 317.3h0M104.0 318.9h0M50.1 324.2h0M108.9 322.3h0M147.6 321.7h0M117.8 318.9h0M93.8 326.6h0M44.9 321.3h0M82.3 330.6h0M103.2 324.3h0M159.1 312.2h0M123.7 324.7h0M205.6 322.9h0M56.8 329.2h0M68.6 322.3h0M93.5 319.1h0M136.4 321.6h0M161.7 332.2h0M175.0 322.3h0M54.9 331.8h0M159.3 317.4h0M143.1 323.5h0M161.4 324.4h0M93.6 322.4h0M38.2 319.5h0M66.8 325.6h0M67.6 328.7h0M198.0 326.3h0M67.5 323.0h0M41.6 324.5h0M187.0 326.5h0M142.5 323.9h0M173.6 328.8h0M75.4 320.2h0M88.3 317.5h0M114.8 317.4h0M110.3 322.0h0M57.4 317.4h0M217.8 320.6h0M85.1 330.3h0M35.9 331.6h0M59.9 324.3h0M70.4 330.0h0M76.3 325.3h0M62.0 319.1h0M155.3 326.6h0M229.6 318.1h0M204.2 315.0h0M71.9 322.8h0M87.4 326.7h0M126.1 319.3h0M163.3 319.8h0M128.5 318.0h0M101.0 323.1h0M195.7 320.9h0M114.5 320.6h0M74.3 325.3h0M125.8 320.0h0M202.9 325.5h0M131.8 320.1h0M84.5 321.7h0M108.8 320.9h0M210.9 318.5h0M51.0 326.8h0M108.8 324.8h0M206.9 319.5h0M153.0 321.6h0M78.4 324.1h0M66.5 320.7h0M117.3 320.5h0M143.5 318.3h0M153.0 324.1h0M202.4 314.8h0M34.7 328.3h0M175.8 321.1h0M44.3 323.7h0M193.5 324.6h0M203.1 324.7h0M42.5 325.9h0M175.8 323.3h0M202.9 323.3h0M208.2 326.6h0M45.9 328.5h0M134.5 318.5h0M65.4 321.0h0M154.5 326.4h0M33.2 332.1h0M92.2 324.3h0M178.5 324.9h0M175.2 322.8h0M100.8 323.0h0M101.0 322.7h0M225.3 321.6h0M201.3 323.8h0M43.0 328.7h0M62.9 320.3h0M142.1 321.4h0M200.5 316.6h0M164.1 324.9h0M102.0 318.0h0M54.3 323.7h0M189.5 322.2h0M183.8 324.0h0M195.5 325.4h0M80.7 325.0h0M83.2 317.9h0M233.3 322.9h0M202.9 320.9h0M177.0 324.8h0M40.0 330.1h0M137.1 319.9h0M163.8 322.9h0M171.2 323.0h0M155.4 318.7h0M102.0 319.9h0M137.5 326.5h0M54.5 325.3h0M90.8 315.9h0M228.1 316.8h0M126.7 324.6h0M209.8 320.1h0M234.7 320.7h0M52.5 320.9h0M216.4 320.6h0M215.3 323.6h0M195.6 323.9h0M37.1 330.0h0M202.3 325.2h0M76.8 326.3h0M65.9 320.4h0M137.1 321.2h0M234.8 320.8h0M98.7 323.1h0M223.4 322.9h0M131.1 319.4h0M194.3 316.1h0M184.3 328.4h0M185.3 325.9h0M83.0 324.5h0M99.5 319.1h0M129.2 321.7h0M55.1 322.9h0M141.4 318.3h0M154.6 325.2h0M133.8 315.2h0M104.2 319.7h0M175.9 326.5h0M89.1 320.8h0M146.3 319.7h0M59.2 320.1h0M47.5 321.3h0M63.5 323.2h0M103.1 323.1h0M226.1 321.6h0M143.7 323.8h0M41.0 324.9h0M106.7 324.9h0M142.3 330.5h0M159.6 321.1h0M81.8 325.6h0M186.4 322.0h0M102.9 322.8h0M92.8 318.7h0M38.6 320.2h0M101.5 309.9h0M175.8 319.6h0M109.0 321.9h0M40.5 328.8h0M231.6 328.7h0M43.0 327.2h0M198.2 317.7h0M106.2 316.0h0M119.5 319.1h0M214.4 324.7h0M152.1 321.8h0M153.2 328.1h0M30.9 316.6h0M146.8 327.7h0M60.4 324.2h0M182.5 324.5h0M196.9 331.0h0M176.5 324.2h0M141.7 322.2h0M230.5 324.1h0M216.6 322.9h0M67.5 326.9h0M218.9 319.2h0M146.1 319.5h0M111.0 318.0h0M154.1 321.0h0M36.4 324.3h0M108.6 316.2h0M136.6 318.5h0M190.8 331.6h0M147.6 327.9h0M83.9 325.7h0M204.0 327.2h0M102.8 324.7h0M150.2 325.1h0M228.2 324.4h0M198.5 326.2h0M220.8 320.0h0M204.4 323.7h0M84.8 322.8h0M116.7 321.7h0M221.3 323.4h0M91.2 325.3h0M31.4 318.4h0M141.8 320.9h0M191.5 319.1h0M130.4 321.5h0M232.5 322.5h0M82.1 323.1h0M33.4 323.4h0M176.0 324.5h0M216.5 315.6h0M202.8 319.8h0M229.0 321.0h0M161.3 321.1h0M156.7 323.2h0M99.4 324.5h0M191.0 317.0h0M184.6 322.8h0M218.8 324.5h0M75.8 323.0h0M125.2 322.3h0M99.2 318.1h0M94.2 324.3h0M76.6 328.4h0M182.9 324.4h0M109.9 315.4h0M130.5 323.1h0M223.7 318.1h0M79.8 322.3h0M119.2 318.5h0M77.4 325.0h0M67.4 318.6h0M124.6 319.0h0M153.4 319.7h0M128.4 333.5h0M220.0 316.5h0M73.7 324.5h0M32.0 326.8h0M166.6 318.3h0M108.9 321.0h0M74.6 331.4h0M207.3 323.6h0M184.0 315.7h0M146.5 323.3h0M152.1 322.3h0M179.8 323.3h0M206.1 320.4h0M219.3 324.0h0M73.0 322.6h0M89.6 325.0h0M101.7 320.6h0M232.4 319.1h0M206.8 324.1h0M226.2 321.4h0M138.8 323.1h0M153.3 322.4h0M83.2 321.4h0M75.5 331.7h0M189.7 323.0h0M48.1 320.9h0M53.6 329.0h0M182.8 317.9h0M35.2 331.2h0M207.8 319.1h0M101.0 321.5h0M164.4 323.4h0M234.8 319.3h0M51.1 324.1h0M229.8 326.5h0M228.5 328.8h0M144.5 317.4h0M178.4 328.9h0M30.9 331.7h0M213.6 326.6h0M48.9 322.9h0M70.0 327.9h0M35.9 317.7h0M157.7 317.8h0M59.8 318.4h0M52.2 329.6h0M185.1 320.9h0M60.0 329.9h0M188.7 319.5h0M60.8 326.2h0M215.0 325.8h0M92.2 323.7h0M82.2 331.3h0M204.9 322.2h0M179.5 329.2h0M120.4 325.8h0M75.8 325.7h0M184.5 317.9h0M59.3 326.5h0M74.1 327.0h0M228.2 324.4h0M122.2 323.1h0M195.1 317.3h0M234.4 328.2h0M165.2 324.5h0M71.1 325.7h0M213.6 319.2h0M155.9 325.7h0M196.1 326.1h0M174.0 319.4h0M235.2 327.7h0M97.8 320.4h0M103.1 319.4h0M213.6 322.2h0M55.4 324.7h0M56.2 317.6h0M226.1 324.4h0M162.4 315.4h0M116.8 322.6h0M232.7 316.7h0M140.8 323.1h0M199.9 317.2h0M70.9 330.7h0M103.1 315.7h0M104.9 326.0h0M180.0 318.0h0M55.5 322.9h0M89.7 315.3h0M57.1 326.4h0M137.0 316.2h0M220.2 324.5h0M32.5 316.1h0M132.4 321.0h0M117.9 322.6h0M33.0 333.9h0M87.5 324.0h0M208.1 320.3h0M91.7 322.5h0M211.3 322.0h0M166.2 317.5h0M187.9 318.7h0M37.3 325.0h0M128.0 320.1h0M55.1 326.2h0M136.1 329.0h0M220.6 324.7h0M226.8 319.1h0M44.8 333.4h0M39.6 321.1h0M189.3 323.0h0M143.3 321.4h0M226.2 326.3h0M189.3 317.2h0M166.9 324.0h0M40.2 319.0h0M39.8 327.8h0M85.0 326.1h0M153.3 321.1h0M32.1 324.2h0M149.7 329.8h0M174.9 321.7h0M148.7 330.1h0M132.0 321.0h0M166.4 325.8h0M110.7 319.7h0M150.9 322.1h0M232.2 320.1h0M83.5 324.2h0M149.8 318.8h0M62.6 330.5h0M151.0 323.3h0M202.1 323.2h0M44.7 322.0h0M228.7 317.9h0M141.5 314.8h0M69.8 320.6h0M36.4 327.6h0M137.5 321.2h0M214.0 319.7h0M155.1 318.5h0M207.3 324.4h0M123.7 323.1h0M161.6 318.4h0M106.1 322.8h0M72.0 325.2h0M110.3 322.8h0M207.6 322.7h0M77.6 330.5h0M129.3 327.0h0M48.1 321.4h0M117.1 322.7h0M115.4 325.4h0M88.3 322.5h0M172.2 319.3h0M227.8 329.2h0M170.1 323.4h0M126.2 322.5h0M123.2 320.5h0M43.6 329.6h0M134.2 318.9h0M81.6 326.4h0M162.0 318.3h0M45.1 321.5h0M72.1 324.1h0M109.3 323.8h0M235.7 317.4h0M107.1 322.0h0M136.9 321.9h0M192.8 325.2h0M103.7 324.9h0M123.0 322.2h0M189.5 316.2h0M192.0 329.0h0M136.1 325.4h0M207.6 325.1h0M86.5 329.0h0M100.0 324.7h0M227.5 324.7h0M193.5 321.2h0M133.6 319.7h0M119.7 325.7h0M36.8 325.7h0M88.8 320.8h0M166.7 323.7h0M76.1 329.9h0M227.6 324.4h0M207.7 322.1h0M195.9 324.1h0M159.1 326.1h0M75.9 327.0h0M151.6 322.4h0M54.6 331.7h0M141.4 322.5h0M115.2 320.7h0M205.2 315.6h0M193.6 319.7h0M217.9 319.9h0M147.2 323.2h0M106.1 323.9h0M68.4 322.4h0M169.4 323.1h0M158.6 319.7h0M172.2 318.3h0M211.2 326.6h0M34.0 325.5h0M214.4 323.2h0M225.8 326.7h0M198.3 319.5h0M133.7 324.0h0M68.7 324.8h0M40.4 326.5h0M98.4 322.0h0M103.5 321.3h0M53.9 328.8h0M80.5 324.0h0M76.1 323.2h0M232.1 321.2h0M63.1 317.3h0M178.2 331.4h0M40.8 329.3h0M235.6 329.6h0M219.0 320.1h0M66.6 328.6h0M192.4 325.3h0M169.6 321.6h0M140.8 325.9h0M85.4 322.0h0M90.9 322.5h0M97.8 321.9h0M173.1 322.5h0M67.4 330.1h0M60.1 327.9h0M169.9 329.3h0M160.1 325.5h0M186.5 322.8h0M194.9 323.5h0M103.5 325.2h0M158.5 322.5h0M149.1 324.4h0M176.9 327.1h0M57.6 323.7h0M208.8 322.7h0M189.7 322.6h0M218.7 321.8h0M218.5 329.2h0M150.9 327.8h0M59.4 323.0h0M94.3 319.9h0M160.2 319.1h0M77.7 320.9h0M179.1 323.6h0M204.6 317.3h0M111.2 323.3h0M78.3 327.4h0M226.7 316.7h0M167.2 320.8h0M60.7 329.0h0M228.2 329.9h0M160.3 324.5h0M34.4 327.7h0M234.6 320.8h0M76.1 326.1h0M215.9 327.9h0M181.0 318.3h0M33.9 323.7h0M201.8 324.6h0M203.8 324.0h0M41.3 323.9h0M165.6 325.4h0M71.9 330.1h0M90.8 323.8h0M70.2 324.7h0M159.9 326.9h0M145.4 323.2h0M41.4 324.9h0M188.8 323.2h0M189.3 327.8h0M143.8 324.3h0M148.6 323.5h0M66.0 321.3h0M64.7 323.0h0M50.7 328.9h0M31.4 324.8h0M86.1 326.6h0M82.9 324.7h0M99.7 322.7h0M112.5 322.4h0M154.6 318.7h0M235.0 316.1h0M43.0 326.5h0M207.1 327.0h0M125.2 320.7h0M205.9 318.2h0M98.1 320.0h0M201.9 330.5h0M76.3 324.9h0M131.7 321.2h0M231.7 315.6h0M145.3 325.6h0M107.5 327.3h0M202.5 325.0h0M50.3 322.4h0M174.8 323.6h0M160.2 319.8h0M88.4 324.4h0M116.3 323.8h0M231.1 322.2h0M127.3 316.5h0M160.6 320.2h0M139.4 324.0h0M48.7 335.8h0M65.5 324.2h0M205.9 326.2h0M176.5 329.4h0M195.7 314.4h0M120.8 320.9h0M110.3 316.3h0M102.8 325.0h0M170.9 323.6h0M166.3 317.7h0M230.7 320.7h0M137.0 321.9h0M127.4 324.2h0M225.9 319.3h0M206.9 319.7h0M140.1 328.4h0M221.4 315.5h0M192.1 321.1h0M51.1 328.8h0M40.2 323.8h0M30.6 329.1h0M110.4 318.4h0M72.6 327.7h0M224.5 326.9h0M98.8 322.3h0M64.2 326.9h0M173.8 319.9h0M35.0 327.2h0M222.9 323.5h0M74.1 326.5h0M203.4 319.3h0M131.7 325.7h0M119.1 322.2h0M206.7 318.3h0M133.7 324.8h0M170.6 317.4h0M113.5 325.6h0M32.5 328.3h0M166.6 316.4h0M210.3 323.1h0M225.8 328.9h0M164.4 328.6h0M54.8 325.7h0M89.3 328.1h0M44.2 326.4h0M124.8 315.3h0M154.2 325.1h0M64.6 322.6h0M226.4 326.6h0M117.3 321.1h0M69.0 321.5h0M127.6 310.7h0M224.6 324.5h0M71.1 327.7h0M230.9 326.5h0M76.6 326.4h0M52.3 322.4h0M182.4 320.8h0M147.0 320.5h0M63.1 329.2h0M178.6 317.1h0M119.0 323.2h0M168.4 326.3h0M128.0 325.3h0M181.9 324.4h0M64.8 332.8h0M184.6 324.7h0M35.8 326.2h0M36.0 326.9h0M160.7 318.9h0M97.8 324.7h0M165.7 321.7h0M200.9 320.4h0M86.0 328.3h0M48.9 326.7h0M140.4 326.4h0M33.1 324.9h0M236.1 322.8h0M37.2 330.5h0M42.0 325.3h0M116.3 324.6h0M212.2 320.5h0M33.1 329.1h0M50.7 321.7h0M151.9 321.9h0M96.9 322.6h0M173.4 327.3h0M36.3 328.4h0M46.8 331.8h0M108.8 319.6h0M163.4 319.8h0M142.0 319.5h0M187.4 327.1h0M210.9 325.3h0M114.5 322.3h0M181.2 324.6h0M114.2 317.1h0M112.3 322.4h0M112.9 328.1h0M199.9 320.0h0M73.1 324.7h0M107.0 320.9h0M164.1 322.9h0M155.8 321.2h0M186.1 323.9h0M128.3 321.3h0M121.2 327.7h0M116.7 319.6h0M88.8 321.5h0M110.2 328.4h0M34.9 318.7h0M217.0 323.7h0M67.2 327.4h0M95.4 320.8h0M117.1 325.8h0M134.2 320.5h0M80.8 326.5h0M176.4 325.7h0M59.0 331.8h0M124.0 320.6h0M62.7 322.4h0M114.9 319.2h0M184.8 317.5h0M40.7 324.7h0M82.6 314.5h0M130.9 322.0h0M39.7 326.2h0M94.5 328.4h0M207.6 321.1h0M136.2 318.4h0M32.9 318.8h0M63.3 324.2h0M101.3 327.0h0M112.7 322.2h0M122.0 322.4h0M170.7 320.1h0M107.1 321.5h0M128.9 326.5h0M207.8 320.2h0M152.0 319.8h0M105.7 321.8h0M62.4 328.1h0M138.0 324.9h0M141.6 318.3h0M105.6 324.1h0M107.3 315.2h0M59.1 323.4h0M179.9 320.8h0M156.8 320.6h0M220.3 326.5h0M92.8 321.3h0M164.8 322.3h0M213.0 325.8h0M205.0 328.9h0M180.6 322.5h0M125.7 320.8h0M89.7 317.9h0M147.5 316.8h0M126.1 317.2h0M138.0 324.4h0M169.6 321.0h0M163.5 321.9h0M70.0 322.8h0M172.6 318.3h0M168.7 325.1h0M67.1 323.1h0M142.2 321.5h0M79.8 327.4h0M166.5 319.0h0M113.7 326.5h0M108.0 322.7h0M37.3 320.0h0M116.5 324.0h0M70.9 318.1h0M203.2 320.1h0M77.9 329.9h0M38.7 325.2h0M35.3 327.3h0M50.8 327.8h0M42.1 322.8h0M193.1 320.9h0M94.7 325.4h0M236.0 324.1h0M172.3 324.3h0M230.8 320.8h0M173.6 321.9h0M64.7 324.8h0M48.5 325.0h0M177.8 328.0h0M224.8 320.7h0M78.0 329.0h0M199.8 320.3h0M232.3 318.6h0M42.7 320.4h0M175.2 326.8h0M89.7 324.1h0M204.2 320.9h0M236.4 323.1h0M45.0 326.8h0M74.2 324.7h0M175.0 323.6h0M60.0 324.3h0M137.4 321.5h0M175.5 327.5h0M200.7 322.7h0M164.9 320.6h0M131.9 321.8h0M208.0 320.0h0M79.6 331.6h0M138.8 324.5h0M93.9 325.5h0M46.9 325.8h0M204.9 320.8h0M59.4 325.0h0M156.3 319.2h0M155.1 325.9h0M184.2 320.3h0M149.7 314.8h0M55.8 329.2h0M146.1 328.7h0M166.2 323.6h0M224.8 315.5h0M212.2 323.7h0M89.7 323.4h0M50.4 321.2h0M74.0 326.9h0M156.5 323.3h0M136.8 320.2h0M206.3 315.7h0M112.9 315.0h0M131.1 319.3h0M184.2 321.9h0M100.8 322.4h0M189.2 323.1h0M141.1 323.8h0M197.4 323.6h0M108.3 317.0h0M171.4 325.3h0M228.4 322.3h0M162.1 327.9h0M127.5 321.0h0M49.0 323.5h0M57.4 320.8h0M152.5 323.2h0M159.9 317.7h0M226.9 322.7h0M170.0 323.3h0M55.9 325.2h0M232.7 323.1h0M162.8 320.8h0M183.3 321.9h0M135.6 326.8h0M72.8 321.9h0M158.7 328.3h0M88.7 323.6h0M48.1 329.5h0M49.0 320.4h0M222.3 326.6h0M135.8 328.0h0M137.9 328.7h0M51.3 324.7h0M147.6 320.3h0M128.9 322.7h0M120.8 320.1h0M229.4 321.4h0M226.0 326.7h0M226.9 324.4h0M41.0 327.8h0M201.8 328.9h0M205.9 321.4h0M167.6 321.4h0M112.0 314.1h0M34.9 323.6h0M163.1 327.7h0M164.3 329.0h0M134.0 331.3h0M43.0 325.4h0M82.3 322.2h0M202.1 322.2h0M94.7 320.8h0M85.2 323.4h0M184.9 327.0h0M224.0 319.4h0M192.4 329.4h0M186.2 320.5h0M130.6 321.5h0M53.8 323.6h0M80.5 322.3h0M98.4 318.7h0M117.6 316.8h0M188.9 318.8h0M143.9 321.3h0M134.1 319.0h0M35.4 319.1h0M222.8 323.0h0M194.3 320.9h0M86.6 324.8h0M69.8 316.7h0M32.8 325.1h0M53.4 324.4h0M199.5 332.0h0M199.9 321.7h0M110.1 323.2h0M165.6 319.9h0M206.2 314.7h0M107.3 323.0h0M191.1 325.9h0M197.5 323.5h0M144.3 331.6h0M116.7 324.3h0M198.4 323.7h0M84.0 325.3h0M225.2 318.3h0M234.9 316.8h0M133.1 322.8h0M215.3 322.8h0M201.9 324.3h0M114.2 322.3h0M143.8 320.2h0M109.7 324.7h0M75.6 328.6h0M181.0 318.6h0M182.6 324.6h0M59.5 333.0h0M180.0 320.3h0M146.1 320.9h0M78.3 320.5h0M199.0 317.5h0M116.6 325.3h0M220.5 314.1h0M223.4 320.8h0M112.7 313.5h0M220.1 325.2h0M207.2 326.5h0M108.4 319.2h0M206.8 324.1h0M206.9 322.2h0M47.2 329.8h0M228.6 324.9h0M77.3 329.8h0M67.8 320.9h0M180.7 323.6h0M163.4 318.8h0M212.5 318.2h0M143.2 329.9h0M163.8 319.5h0M236.9 326.3h0M228.7 322.1h0M82.8 324.2h0M39.0 328.0h0M84.6 326.6h0M68.9 327.1h0M193.0 326.5h0M46.3 319.1h0M83.4 320.0h0M95.3 321.7h0M146.4 324.1h0M233.7 315.0h0M73.3 323.5h0M77.9 319.2h0M172.5 322.3h0M42.8 336.5h0M44.4 337.4h0M46.3 338.4h0M60.7 335.2h0M66.0 336.2h0M70.4 337.7h0M79.2 338.4h0M82.3 336.7h0M85.1 338.1h0M85.6 343.0h0M158.5 337.4h0M160.0 338.0h0" stroke="#73bf69" stroke-width="2.56" stroke-linecap="round" fill="none"/>
<path d="M262.90 308.61 H471.80" stroke="rgba(204,204,220,0.075)" stroke-width="0.5"/>
<path d="M262.90 329.11 H471.80" stroke="rgba(204,204,220,0.075)" stroke-width="0.5"/>
<path d="M262.90 349.21 H471.80" stroke="rgba(204,204,220,0.075)" stroke-width="0.5"/>
<path d="M288.90 304.21 V349.21" stroke="rgba(204,204,220,0.075)" stroke-width="0.5"/>
<path d="M327.51 304.21 V349.21" stroke="rgba(204,204,220,0.075)" stroke-width="0.5"/>
<path d="M366.12 304.21 V349.21" stroke="rgba(204,204,220,0.075)" stroke-width="0.5"/>
<path d="M404.72 304.21 V349.21" stroke="rgba(204,204,220,0.075)" stroke-width="0.5"/>
<path d="M443.33 304.21 V349.21" stroke="rgba(204,204,220,0.075)" stroke-width="0.5"/>
<rect x="251.00" y="362.26" width="5.4" height="1.7" rx="0.4" fill="#73bf69"/>
<path d="M263.0 310.7 L264.0 310.7 L265.0 310.7 L266.0 311.1 L267.0 311.2 L268.0 310.7 L269.0 311.1 L270.0 311.1 L271.0 310.7 L272.0 311.0 L273.0 311.0 L274.0 311.1 L275.0 310.6 L276.0 310.8 L277.0 311.1 L278.1 310.8 L279.1 310.9 L280.1 310.9 L281.1 310.9 L282.1 310.8 L283.1 310.9 L284.1 311.0 L285.1 310.6 L286.1 310.6 L287.1 310.9 L288.1 310.8 L289.1 311.1 L290.1 311.2 L291.1 310.6 L292.1 311.0 L293.1 311.0 L294.1 310.7 L295.1 311.1 L296.1 311.1 L297.1 311.0 L298.1 311.0 L299.1 311.0 L300.1 310.9 L301.1 310.8 L302.1 311.0 L303.1 310.6 L304.1 310.9 L305.1 311.2 L306.1 311.0 L307.1 310.7 L308.2 310.9 L309.2 310.8 L310.2 311.0 L311.2 311.1 L312.2 310.6 L313.2 311.1 L314.2 310.9 L315.2 311.1 L316.2 310.8 L317.2 310.9 L318.2 310.7 L319.2 310.9 L320.2 310.7 L321.2 311.1 L322.2 311.0 L323.2 310.9 L324.2 311.0 L325.2 311.0 L326.2 311.2 L327.2 310.8 L328.2 311.0 L329.2 310.9 L330.2 310.7 L331.2 310.8 L332.2 310.7 L333.2 311.0 L334.2 310.9 L335.2 310.6 L336.2 311.0 L337.2 310.7 L338.3 310.9 L339.3 310.9 L340.3 311.1 L341.3 310.9 L342.3 310.6 L343.3 310.6 L344.3 311.1 L345.3 311.2 L346.3 311.2 L347.3 310.8 L348.3 311.0 L349.3 311.1 L350.3 310.7 L351.3 311.0 L352.3 310.9 L353.3 311.2 L354.3 311.0 L355.3 310.9 L356.3 310.9 L357.3 310.6 L358.3 311.1 L359.3 310.8 L360.3 311.0 L361.3 311.0 L362.3 311.0 L363.3 311.2 L364.3 310.6 L365.3 311.2 L366.3 310.8 L367.3 311.0 L368.4 310.8 L369.4 311.0 L370.4 310.9 L371.4 311.2 L372.4 310.9 L373.4 311.0 L374.4 311.0 L375.4 310.7 L376.4 310.8 L377.4 310.9 L378.4 311.0 L379.4 311.0 L380.4 310.9 L381.4 310.8 L382.4 310.6 L383.4 311.0 L384.4 311.1 L385.4 311.2 L386.4 311.0 L387.4 310.6 L388.4 311.2 L389.4 310.6 L390.4 310.6 L391.4 310.6 L392.4 310.9 L393.4 310.7 L394.4 311.2 L395.4 310.8 L396.4 310.9 L397.5 310.8 L398.5 310.7 L399.5 310.8 L400.5 311.2 L401.5 311.1 L402.5 310.8 L403.5 310.8 L404.5 311.1 L405.5 310.8 L406.5 310.8 L407.5 311.0 L408.5 310.7 L409.5 310.9 L410.5 310.8 L411.5 311.2 L412.5 311.1 L413.5 310.9 L414.5 311.1 L415.5 310.6 L416.5 310.8 L417.5 311.0 L418.5 311.2 L419.5 310.9 L420.5 310.9 L421.5 310.9 L422.5 311.0 L423.5 310.7 L424.5 310.8 L425.5 311.2 L426.5 310.9 L427.6 311.1 L428.6 310.7 L429.6 311.0 L430.6 311.1 L431.6 310.8 L432.6 311.1 L433.6 310.9 L434.6 311.0 L435.6 310.9 L436.6 311.1 L437.6 310.9 L438.6 311.2 L439.6 310.9 L440.6 310.7 L441.6 310.7 L442.6 311.1 L443.6 311.2 L444.6 311.1 L445.6 311.2 L446.6 310.7 L447.6 310.8 L448.6 310.9 L449.6 310.9 L450.6 311.1 L451.6 310.6 L452.6 310.7 L453.6 311.2 L454.6 310.6 L455.6 311.0 L456.6 311.1 L457.7 311.0 L458.7 311.2 L459.7 311.1 L460.7 310.7 L461.7 310.8 L462.7 311.2 L463.7 310.8 L464.7 310.8 L465.7 311.1 L466.7 310.9 L467.7 310.9 L468.7 311.1 L469.7 310.8 L470.7 310.8 L471.7 310.7" fill="none" stroke="#73bf69" stroke-width="2.70" stroke-linecap="round" stroke-linejoin="round"/>
<path d="M500.00 308.61 H706.60" stroke="rgba(204,204,220,0.075)" stroke-width="0.5"/>
<path d="M500.00 322.11 H706.60" stroke="rgba(204,204,220,0.075)" stroke-width="0.5"/>
<path d="M500.00 335.61 H706.60" stroke="rgba(204,204,220,0.075)" stroke-width="0.5"/>
<path d="M500.00 349.21 H706.60" stroke="rgba(204,204,220,0.075)" stroke-width="0.5"/>
<path d="M525.71 304.21 V349.21" stroke="rgba(204,204,220,0.075)" stroke-width="0.5"/>
<path d="M563.90 304.21 V349.21" stroke="rgba(204,204,220,0.075)" stroke-width="0.5"/>
<path d="M602.08 304.21 V349.21" stroke="rgba(204,204,220,0.075)" stroke-width="0.5"/>
<path d="M640.26 304.21 V349.21" stroke="rgba(204,204,220,0.075)" stroke-width="0.5"/>
<path d="M678.45 304.21 V349.21" stroke="rgba(204,204,220,0.075)" stroke-width="0.5"/>
<rect x="485.50" y="362.26" width="5.4" height="1.7" rx="0.4" fill="#73bf69"/>
<path d="M499.7 323.6 L500.8 323.8 L501.9 324.1 L503.0 324.2 L504.1 323.9 L505.2 323.7 L506.3 323.5 L507.4 324.3 L508.5 323.9 L509.6 324.2 L510.7 323.7 L511.8 323.9 L512.9 324.1 L514.0 323.9 L515.1 323.7 L516.2 323.8 L517.3 324.4 L518.4 323.7 L519.5 323.7 L520.6 324.5 L521.7 324.5 L522.8 324.0 L523.9 324.3 L525.0 324.1 L526.1 324.3 L527.2 324.3 L528.3 324.2 L529.4 324.2 L530.5 323.7 L531.6 324.4 L532.7 324.4 L533.8 324.5 L534.9 324.5 L536.0 323.8 L537.1 323.9 L538.2 324.3 L539.3 324.3 L540.4 324.4 L541.5 323.7 L542.6 324.0 L543.7 324.0 L544.8 323.7 L545.9 324.4 L547.0 323.7 L548.1 324.0 L549.2 323.5 L550.3 323.8 L551.4 324.1 L552.5 324.0 L553.6 324.0 L554.7 323.9 L555.8 323.2 L556.9 323.6 L558.0 323.4 L559.1 326.1 L560.2 326.4 L561.3 326.5 L562.4 326.1 L563.5 326.6 L564.6 325.7 L565.7 326.0 L566.8 326.1 L567.9 326.5 L569.0 326.5 L570.1 326.4 L571.2 326.5 L572.3 326.6 L573.4 326.0 L574.5 325.8 L575.6 326.2 L576.7 326.6 L577.8 325.8 L578.9 325.9 L580.0 326.4 L581.1 326.5 L582.2 326.3 L583.3 326.2 L584.4 326.2 L585.5 327.0 L586.6 326.9 L587.7 326.5 L588.8 327.1 L589.9 327.2 L591.0 326.4 L592.1 327.2 L593.2 326.5 L594.3 327.0 L595.4 326.6 L596.5 326.6 L597.6 327.4 L598.7 326.6 L599.8 327.3 L600.9 327.4 L602.0 326.6 L603.1 327.3 L604.2 327.0 L605.3 326.6 L606.4 327.0 L607.5 326.9 L608.6 326.6 L609.7 327.3 L610.8 327.0 L611.9 327.5 L613.0 326.7 L614.1 327.0 L615.2 326.9 L616.3 326.6 L617.4 327.4 L618.5 327.4 L619.6 327.0 L620.7 327.2 L621.8 326.8 L622.9 326.5 L624.0 327.4 L625.1 327.1 L626.2 326.9 L627.3 326.8 L628.4 326.9 L629.5 327.3 L630.6 326.6 L631.7 327.4 L632.8 327.0 L633.9 326.6 L635.0 326.9 L636.1 326.6 L637.2 327.1 L638.3 326.8 L639.4 326.7 L640.5 326.8 L641.6 326.7 L642.7 326.6 L643.8 326.6 L644.9 326.6 L646.0 326.6 L647.1 326.9 L648.2 326.7 L649.3 326.6 L650.4 326.7 L651.5 326.3 L652.6 327.0 L653.7 326.9 L654.8 326.5 L655.9 326.3 L657.0 326.9 L658.1 326.9 L659.2 326.8 L660.3 326.3 L661.4 326.7 L662.5 326.5 L663.6 326.6 L664.7 326.1 L665.8 326.2 L666.9 325.8 L668.0 326.1 L669.1 325.9 L670.2 326.6 L671.3 326.3 L672.4 325.7 L673.5 325.8 L674.6 326.5 L675.7 326.4 L676.8 325.9 L677.9 326.5 L679.0 326.4 L680.1 325.8 L681.2 326.1 L682.3 326.2 L683.4 326.5 L684.5 326.6 L685.6 326.7 L686.7 326.5 L687.8 326.1 L688.9 326.3 L690.0 326.1 L691.1 326.4 L692.2 327.0 L693.3 326.6 L694.4 326.2 L695.5 326.8 L696.6 327.0 L697.7 326.5 L698.8 326.5 L699.9 326.4 L701.0 326.8 L702.1 326.7 L703.2 326.6 L704.3 326.8 L705.4 326.8 L706.5 327.0 L706.5 333.0 L705.4 333.3 L704.3 333.1 L703.2 332.9 L702.1 333.5 L701.0 332.9 L699.9 333.1 L698.8 333.4 L697.7 333.4 L696.6 332.7 L695.5 332.6 L694.4 332.6 L693.3 333.0 L692.2 333.3 L691.1 332.9 L690.0 333.1 L688.9 332.7 L687.8 332.3 L686.7 332.8 L685.6 332.7 L684.5 333.0 L683.4 333.1 L682.3 333.0 L681.2 332.7 L680.1 332.9 L679.0 333.0 L677.9 332.3 L676.8 332.1 L675.7 332.7 L674.6 333.0 L673.5 332.6 L672.4 332.0 L671.3 332.6 L670.2 332.7 L669.1 332.6 L668.0 332.6 L666.9 333.0 L665.8 332.3 L664.7 332.7 L663.6 332.8 L662.5 332.8 L661.4 332.9 L660.3 333.2 L659.2 332.7 L658.1 332.5 L657.0 332.7 L655.9 333.3 L654.8 332.7 L653.7 332.5 L652.6 333.2 L651.5 333.0 L650.4 332.7 L649.3 333.4 L648.2 332.8 L647.1 333.4 L646.0 333.4 L644.9 333.2 L643.8 333.6 L642.7 333.6 L641.6 333.7 L640.5 333.4 L639.4 333.0 L638.3 332.8 L637.2 333.6 L636.1 333.5 L635.0 333.4 L633.9 332.8 L632.8 333.6 L631.7 333.3 L630.6 333.4 L629.5 332.9 L628.4 333.4 L627.3 333.0 L626.2 332.9 L625.1 333.1 L624.0 333.3 L622.9 333.8 L621.8 333.4 L620.7 333.0 L619.6 333.3 L618.5 333.8 L617.4 333.6 L616.3 333.5 L615.2 333.4 L614.1 333.4 L613.0 333.4 L611.9 333.3 L610.8 333.3 L609.7 333.6 L608.6 333.0 L607.5 333.3 L606.4 332.9 L605.3 333.0 L604.2 333.5 L603.1 333.2 L602.0 333.0 L600.9 333.5 L599.8 333.3 L598.7 333.0 L597.6 333.8 L596.5 333.7 L595.4 333.3 L594.3 333.5 L593.2 333.3 L592.1 333.0 L591.0 333.0 L589.9 333.5 L588.8 332.5 L587.7 333.2 L586.6 332.4 L585.5 333.0 L584.4 333.2 L583.3 332.4 L582.2 332.5 L581.1 332.3 L580.0 332.6 L578.9 332.7 L577.8 332.7 L576.7 332.5 L575.6 332.6 L574.5 332.7 L573.4 332.4 L572.3 332.5 L571.2 332.3 L570.1 332.9 L569.0 332.2 L567.9 332.1 L566.8 332.4 L565.7 332.9 L564.6 332.9 L563.5 332.4 L562.4 332.7 L561.3 332.6 L560.2 332.3 L559.1 332.3 L558.0 330.4 L556.9 331.0 L555.8 331.0 L554.7 330.5 L553.6 331.0 L552.5 331.3 L551.4 330.9 L550.3 331.3 L549.2 331.3 L548.1 330.7 L547.0 330.9 L545.9 331.3 L544.8 330.8 L543.7 330.9 L542.6 331.3 L541.5 331.2 L540.4 331.2 L539.3 331.2 L538.2 331.0 L537.1 331.8 L536.0 331.2 L534.9 331.7 L533.8 331.2 L532.7 331.5 L531.6 331.5 L530.5 331.5 L529.4 331.0 L528.3 331.7 L527.2 331.1 L526.1 331.8 L525.0 331.3 L523.9 331.2 L522.8 331.3 L521.7 331.5 L520.6 331.7 L519.5 331.7 L518.4 331.2 L517.3 331.1 L516.2 331.2 L515.1 331.1 L514.0 331.0 L512.9 331.3 L511.8 331.4 L510.7 331.6 L509.6 330.9 L508.5 330.9 L507.4 331.0 L506.3 331.2 L505.2 331.3 L504.1 330.9 L503.0 331.1 L501.9 331.5 L500.8 331.2 L499.7 331.8 Z" fill="#73bf69" stroke="#73bf69" stroke-width="1.6" stroke-linejoin="round"/>
<path d="M606.7 325.2h0M527.8 325.0h0M593.1 334.1h0M692.7 325.7h0M524.8 324.9h0M586.1 333.4h0M500.5 330.9h0M616.6 320.5h0M514.1 320.7h0M675.0 335.0h0M604.5 333.8h0M706.2 326.2h0M620.4 334.6h0M660.2 322.3h0M705.0 335.9h0M681.6 332.6h0M638.2 332.7h0M632.6 327.0h0M514.5 323.9h0M691.7 326.7h0M689.9 326.7h0M687.4 335.2h0M638.7 326.3h0M531.3 323.3h0M600.2 326.4h0M578.0 334.0h0M532.1 331.6h0M535.7 331.5h0M624.2 325.6h0M686.6 326.9h0M587.1 326.0h0M575.0 325.6h0M593.7 333.6h0M609.0 334.2h0M602.9 333.5h0M621.9 326.5h0M580.9 333.3h0M520.8 330.7h0M632.2 333.6h0M509.7 331.5h0M552.4 330.8h0M576.2 332.4h0M521.5 331.2h0M543.9 330.7h0M524.9 333.4h0M694.7 333.6h0M606.6 327.4h0M627.6 326.1h0M534.8 331.7h0M579.4 326.9h0M672.7 326.7h0M656.7 332.6h0M533.0 331.6h0M509.4 322.5h0M562.5 325.6h0M675.9 323.2h0M539.6 324.8h0M531.7 331.5h0M563.8 326.0h0M567.6 332.7h0M595.1 335.5h0M524.5 322.8h0M635.1 334.5h0M547.3 322.7h0M654.7 335.0h0M689.2 326.4h0M576.0 333.1h0M581.3 332.8h0M672.6 334.1h0M511.7 331.8h0M703.2 325.5h0M517.0 330.8h0M635.8 326.9h0M698.2 334.0h0M589.5 325.7h0M585.5 324.7h0M640.0 333.9h0M645.2 334.3h0M643.9 327.0h0M616.9 333.1h0M604.3 333.1h0M502.8 332.4h0M555.0 322.9h0M581.1 332.4h0M602.9 333.2h0M500.4 332.4h0M572.6 325.9h0M685.8 326.4h0M703.9 334.6h0M649.8 333.5h0M543.8 335.3h0M575.4 336.3h0M696.9 327.0h0M626.4 332.7h0M670.8 326.3h0M669.2 332.2h0M704.8 333.7h0M600.4 325.0h0M654.7 325.5h0M704.1 332.7h0M669.7 335.4h0M559.1 327.0h0M613.8 335.6h0M561.1 332.7h0M529.2 323.6h0M508.2 320.1h0M686.0 332.5h0M547.2 334.1h0M646.3 325.4h0M505.9 322.7h0M519.4 331.2h0M620.4 327.7h0M643.7 333.4h0M561.1 335.5h0M685.4 324.3h0M500.7 331.5h0M583.8 333.3h0M652.0 332.5h0M673.0 332.8h0M630.6 336.4h0M657.9 322.8h0M672.5 332.1h0M700.2 337.1h0M579.2 332.1h0M615.0 327.2h0M518.6 320.0h0M554.8 324.0h0M678.6 326.0h0M565.3 326.8h0M553.3 323.5h0M524.1 331.1h0M672.9 325.8h0M655.0 333.3h0M580.3 332.1h0M527.9 332.8h0M602.6 323.1h0M693.5 325.8h0M600.3 336.1h0M582.4 336.8h0M627.7 327.7h0M683.2 326.9h0M653.2 327.3h0M515.3 321.7h0M690.9 324.8h0M697.3 333.2h0M651.5 334.4h0M585.0 333.2h0M551.6 321.7h0M651.6 327.1h0M649.8 327.4h0M698.9 335.5h0M671.7 333.1h0M645.4 326.0h0M615.9 334.5h0M696.0 332.8h0M698.2 326.0h0M617.8 333.0h0M580.6 325.3h0M603.4 325.4h0M562.9 335.3h0M560.8 336.6h0M642.6 327.7h0M511.7 331.6h0M540.1 323.5h0M550.4 331.1h0M634.1 335.4h0M619.8 332.9h0M505.2 318.4h0M591.9 325.3h0M669.2 336.1h0M519.8 321.1h0M695.5 336.4h0M644.5 326.9h0M584.9 332.9h0M647.0 325.3h0M673.2 335.2h0M619.6 325.0h0M510.0 333.7h0M503.4 323.0h0M608.0 334.6h0M521.0 323.2h0M597.4 327.6h0M630.0 325.4h0M569.8 332.1h0M685.2 332.2h0M562.6 333.0h0M538.9 332.4h0M601.9 336.2h0M565.3 326.8h0M508.6 322.6h0M582.7 324.0h0M603.5 326.2h0M588.8 326.9h0M649.7 332.8h0M504.3 333.5h0M609.2 326.7h0M618.8 333.2h0M578.1 332.1h0M558.3 332.7h0M505.5 333.2h0M527.0 331.9h0M530.0 323.7h0M564.6 332.0h0M520.3 331.4h0M544.3 333.1h0M558.0 321.6h0M526.7 323.8h0M506.2 322.7h0M681.3 333.4h0M659.0 326.2h0M649.3 326.6h0M675.4 336.7h0M694.1 327.1h0M510.8 331.5h0M640.8 333.4h0M510.8 331.2h0M636.9 326.2h0M628.8 327.0h0M660.6 326.2h0M519.6 330.8h0M516.4 322.0h0M645.9 327.5h0M599.7 325.0h0M648.1 327.4h0M564.8 322.1h0M560.7 326.2h0M658.0 323.0h0M506.9 335.6h0M617.5 323.1h0M659.3 332.9h0M518.5 331.3h0M545.9 323.4h0M630.7 336.5h0M506.2 324.3h0M539.8 319.8h0M506.1 331.4h0M686.3 326.5h0M551.3 323.8h0M644.6 335.1h0M589.6 332.8h0M551.9 324.6h0M550.3 324.7h0M681.6 325.9h0M642.9 326.3h0M529.6 324.8h0M663.6 327.1h0M672.1 332.2h0M649.8 326.1h0M631.3 327.1h0M506.0 324.5h0M662.7 332.9h0M626.3 333.6h0M510.6 331.9h0M695.9 327.2h0M558.1 330.7h0M518.2 332.5h0M520.4 320.5h0M548.8 331.8h0M662.4 323.7h0M677.0 334.0h0M530.8 331.4h0M562.3 334.3h0M556.6 330.6h0M622.7 333.8h0M500.4 333.6h0M673.0 325.0h0M566.4 326.7h0M562.6 325.8h0M565.9 322.8h0M566.9 332.4h0M652.3 326.2h0M510.5 322.5h0M558.8 323.6h0M595.3 325.4h0M579.1 333.6h0M620.0 327.0h0M615.5 325.5h0M510.2 336.6h0M659.5 326.8h0M550.1 333.5h0M598.6 333.3h0M589.7 334.6h0M526.2 324.5h0M571.6 325.7h0M667.1 324.9h0M641.5 333.4h0M617.5 326.0h0M531.3 331.6h0M557.9 333.0h0M602.2 333.4h0M583.4 332.8h0M534.9 323.9h0M684.8 326.9h0M693.7 332.8h0M638.8 327.7h0M537.2 317.5h0M582.9 324.4h0M518.2 324.1h0M531.9 332.2h0M543.4 322.0h0M562.8 334.2h0M638.9 333.1h0M534.7 331.2h0M563.9 332.6h0M695.1 334.4h0M569.1 325.3h0M514.3 322.6h0M537.6 319.8h0M621.8 323.3h0M568.2 332.0h0M504.5 333.3h0M551.9 330.6h0M631.9 326.9h0M567.6 332.2h0M650.8 327.5h0M688.7 332.4h0M608.7 333.7h0M676.4 332.6h0M583.8 332.7h0M684.9 332.9h0M642.3 324.0h0M667.1 324.8h0M681.8 324.6h0M590.0 333.0h0M658.2 326.1h0M604.6 333.2h0M580.3 335.0h0M519.3 331.3h0M502.3 332.1h0M514.5 322.8h0M681.9 324.2h0M690.1 335.1h0M606.1 333.8h0M607.3 334.2h0M617.7 333.0h0M603.4 333.1h0M600.1 333.0h0M531.9 333.5h0M614.9 333.2h0M549.4 333.8h0M617.2 325.8h0M706.6 326.2h0M500.3 322.6h0M528.0 320.3h0M571.3 322.9h0M527.7 331.6h0M632.7 334.3h0M629.9 324.6h0M544.1 320.5h0M570.9 326.5h0M593.9 324.0h0M605.7 333.5h0M523.6 321.4h0M635.5 323.9h0M596.6 326.1h0M684.8 327.0h0M578.9 326.8h0M685.2 334.2h0M685.8 334.0h0M633.2 326.4h0M569.6 325.9h0M524.0 333.0h0M680.4 332.2h0M646.9 326.9h0M671.5 334.1h0M505.6 324.1h0M672.2 333.2h0M633.2 327.7h0M592.9 332.9h0M656.5 332.3h0M501.5 323.1h0M552.9 323.5h0M608.6 327.0h0M688.6 327.1h0M700.2 326.9h0M694.2 326.2h0M539.7 323.7h0M682.7 324.7h0M680.0 333.6h0M578.9 335.2h0M510.6 334.4h0M681.8 325.5h0M607.5 333.2h0M571.8 323.6h0M603.4 326.7h0M525.8 324.8h0M588.9 335.9h0M674.8 326.5h0M600.5 333.9h0M667.9 325.0h0M677.2 334.2h0M691.1 334.6h0M578.8 322.9h0M615.3 324.5h0M663.5 332.2h0M529.1 323.9h0M509.0 331.6h0M624.8 332.9h0M531.7 331.7h0M544.7 321.8h0M513.2 331.6h0M551.7 332.4h0M599.4 333.5h0M648.0 332.6h0M508.5 324.0h0M607.4 326.5h0M515.6 332.8h0M587.3 327.2h0M703.0 334.8h0M597.8 325.0h0M673.7 325.6h0M608.3 327.8h0M683.9 320.2h0M569.3 332.3h0M542.3 322.3h0M595.3 332.8h0M628.8 333.1h0M697.4 333.0h0M598.9 324.1h0M515.1 323.5h0M688.7 323.1h0M584.3 324.2h0M572.7 333.0h0M653.6 326.9h0M516.3 331.2h0M552.7 333.0h0M537.9 320.7h0M680.1 327.0h0M565.3 332.0h0M565.4 325.4h0M659.1 334.2h0M654.5 326.7h0M668.5 324.6h0M574.0 326.9h0M653.1 333.4h0M644.1 333.1h0M680.5 322.8h0M527.2 323.6h0M523.6 333.9h0M679.2 326.8h0M514.7 333.4h0M679.2 326.4h0M671.1 332.7h0M571.4 326.7h0M655.8 333.6h0M581.1 325.4h0M653.8 322.8h0M678.5 326.8h0M694.5 332.9h0M578.1 325.4h0M545.8 322.6h0M596.7 324.4h0M678.0 333.1h0M568.6 331.9h0M683.3 326.0h0M645.1 325.1h0M675.7 332.0h0M552.1 332.7h0M536.3 322.3h0M665.7 332.4h0M552.2 333.7h0M549.0 324.0h0M561.6 326.9h0M698.4 333.9h0M645.6 325.7h0M520.6 322.1h0M670.0 332.1h0M691.8 327.3h0M702.9 334.4h0M625.9 336.8h0M557.9 333.1h0M518.9 333.9h0M686.1 332.2h0M522.2 331.5h0M593.1 325.0h0M520.5 319.5h0M623.8 323.9h0M643.9 325.6h0M634.2 326.2h0M590.8 337.2h0M683.3 332.2h0M532.4 324.9h0M553.7 324.2h0M556.6 323.6h0M666.3 334.3h0M563.0 332.3h0M663.7 325.7h0M638.6 326.3h0M518.3 324.4h0M619.2 333.3h0M524.3 331.8h0M623.6 334.3h0M519.1 323.5h0M650.4 332.6h0M516.6 321.6h0M517.0 323.3h0M593.9 333.3h0M504.8 330.8h0M623.4 326.7h0M628.2 323.1h0M684.6 332.4h0M685.0 323.1h0M516.9 330.8h0M505.6 330.9h0M632.3 333.9h0M665.2 325.7h0M682.2 325.4h0M599.5 321.3h0M686.0 335.8h0M670.5 324.9h0M532.0 330.9h0M535.5 331.0h0M590.7 333.1h0M608.6 335.2h0M585.4 325.3h0M670.6 326.5h0M637.9 333.2h0M586.5 332.4h0M704.0 319.5h0M624.3 334.9h0M668.9 332.2h0M608.8 327.7h0M673.5 336.2h0M626.8 326.6h0M636.0 326.8h0M635.1 332.9h0M518.9 320.5h0M650.7 327.4h0M606.8 334.4h0M617.6 327.7h0M620.2 333.2h0M631.9 332.7h0M661.1 332.4h0M634.6 327.6h0M610.1 325.6h0M507.4 322.7h0M503.3 331.0h0M534.1 324.1h0M540.5 318.7h0M651.2 334.9h0M660.9 324.9h0M681.7 333.4h0M549.6 317.5h0M679.6 332.3h0M686.7 323.5h0M620.9 325.2h0M569.6 325.9h0M600.6 326.7h0M599.3 324.5h0M520.0 330.7h0M554.9 321.6h0M594.9 326.5h0M547.8 331.0h0M519.7 330.7h0M558.9 325.3h0M506.2 331.7h0M555.8 319.3h0M636.1 327.3h0M598.8 327.4h0M608.7 334.2h0M595.1 325.2h0M671.8 324.5h0M650.0 327.1h0M553.2 324.1h0M556.4 333.3h0M553.8 320.9h0M545.3 333.2h0M635.4 327.6h0M645.8 325.7h0M581.9 332.5h0M584.0 335.9h0M560.4 332.5h0M624.4 333.0h0M525.6 332.6h0M585.6 333.2h0M701.9 333.4h0M563.1 332.6h0M649.8 321.1h0M696.9 334.7h0M653.7 324.6h0M527.1 324.9h0M516.9 331.6h0M573.2 326.0h0M598.1 334.2h0M533.0 324.8h0M542.9 323.8h0M699.4 333.8h0M697.0 334.2h0M521.0 332.6h0M591.1 334.6h0M640.0 332.8h0M553.8 331.8h0M602.8 333.6h0M672.9 333.2h0M595.6 325.6h0M558.6 326.9h0M632.7 325.7h0M647.0 334.6h0M502.1 324.6h0M646.8 335.7h0M522.0 322.5h0M574.6 333.1h0M511.6 331.2h0M590.6 323.4h0M608.4 334.9h0M572.7 326.5h0M566.4 331.9h0M563.9 325.2h0M696.2 326.6h0M510.4 323.1h0M545.7 322.7h0M550.1 324.3h0M608.9 335.3h0M521.1 324.1h0M628.6 333.0h0M623.4 334.8h0M501.9 321.5h0M639.9 333.4h0M599.5 333.0h0M669.4 333.8h0M604.9 333.0h0M691.3 324.5h0M687.0 326.3h0M504.5 323.7h0M693.5 323.6h0M610.9 333.5h0M519.6 323.7h0M569.5 326.3h0M705.2 320.0h0M688.6 325.9h0M601.1 324.1h0M634.5 324.8h0M555.5 324.5h0M678.1 325.1h0M515.1 322.9h0M608.9 326.4h0M596.6 326.7h0M583.2 321.7h0M510.6 332.6h0M694.5 325.7h0M696.6 334.5h0M654.1 327.2h0M575.1 335.8h0M519.0 324.4h0M629.0 334.0h0M684.6 335.2h0M655.7 325.6h0M651.4 326.0h0M526.0 323.0h0M701.9 326.5h0M647.7 333.2h0M679.8 325.1h0M537.5 330.9h0M517.3 323.8h0M533.5 331.9h0M607.4 323.5h0M620.4 334.8h0M642.2 327.6h0M702.0 326.6h0M540.2 331.2h0M634.6 325.8h0M694.5 327.4h0M665.1 323.7h0M699.9 325.9h0M553.7 330.3h0M513.7 321.4h0M509.7 332.0h0M592.0 335.3h0M511.7 322.8h0M569.7 322.8h0M519.1 318.9h0M585.5 325.6h0M633.0 335.7h0M564.3 325.7h0M501.9 331.6h0M590.7 333.1h0M677.8 326.2h0M581.7 326.5h0M662.9 325.7h0M583.8 335.0h0M520.3 321.9h0M664.6 335.8h0M613.1 333.1h0M523.3 330.7h0M562.4 326.4h0M511.9 324.3h0M653.2 332.6h0M519.7 333.0h0M658.5 326.7h0M586.7 326.1h0M654.3 333.1h0M671.3 326.9h0M515.0 333.0h0M638.4 327.4h0M504.1 324.2h0M575.4 332.6h0M686.9 324.1h0M574.2 332.9h0M667.9 323.8h0M576.1 332.9h0M566.9 332.9h0M626.4 332.9h0M541.6 331.7h0M513.2 320.7h0M598.5 332.8h0M698.6 333.0h0M647.9 325.2h0M524.0 323.1h0M520.4 323.7h0M614.9 335.8h0M632.9 332.8h0M525.0 324.6h0M639.9 327.6h0M674.2 323.4h0M527.3 323.3h0M553.5 323.7h0M578.3 332.1h0M673.5 326.5h0M530.4 324.4h0M535.4 322.6h0M654.0 322.1h0M702.5 332.8h0M513.5 322.8h0M532.5 324.2h0M535.2 331.3h0M605.0 332.9h0M679.0 323.8h0M516.2 324.4h0M600.7 333.9h0M603.0 326.8h0M689.3 335.4h0M662.3 333.1h0M635.7 326.8h0M605.4 327.8h0M680.2 325.5h0M682.0 323.4h0M557.1 323.9h0M565.4 332.2h0M520.8 323.1h0M597.9 326.6h0M567.7 325.6h0M654.6 325.0h0M643.3 327.4h0M531.5 322.6h0M702.3 325.9h0M616.1 332.9h0M518.2 324.1h0M699.8 321.8h0M505.0 321.0h0M685.6 324.2h0M703.2 333.7h0M648.7 332.8h0M504.5 324.1h0M572.8 326.9h0M575.7 333.5h0M572.3 333.1h0M643.5 323.2h0M663.2 332.3h0M617.6 327.7h0M596.4 326.2h0M666.2 325.7h0M572.2 325.2h0M544.5 324.7h0M673.9 325.6h0M636.1 326.5h0M568.1 332.7h0M643.9 327.2h0M585.6 332.8h0M687.4 321.4h0M633.8 325.7h0M518.7 314.2h0M530.1 313.0h0M531.6 316.5h0M554.8 311.4h0M557.1 341.2h0M523.1 318.0h0M705.5 317.5h0" stroke="#73bf69" stroke-width="2.50" stroke-linecap="round" fill="none"/>
<path d="M28.40 390.03 H237.00" stroke="rgba(204,204,220,0.075)" stroke-width="0.5"/>
<path d="M28.40 410.93 H237.00" stroke="rgba(204,204,220,0.075)" stroke-width="0.5"/>
<path d="M28.40 431.23 H237.00" stroke="rgba(204,204,220,0.075)" stroke-width="0.5"/>
<path d="M54.36 388.53 V434.03" stroke="rgba(204,204,220,0.075)" stroke-width="0.5"/>
<path d="M92.91 388.53 V434.03" stroke="rgba(204,204,220,0.075)" stroke-width="0.5"/>
<path d="M131.47 388.53 V434.03" stroke="rgba(204,204,220,0.075)" stroke-width="0.5"/>
<path d="M170.02 388.53 V434.03" stroke="rgba(204,204,220,0.075)" stroke-width="0.5"/>
<path d="M208.57 388.53 V434.03" stroke="rgba(204,204,220,0.075)" stroke-width="0.5"/>
<rect x="16.30" y="446.58" width="5.4" height="1.7" rx="0.4" fill="#73bf69"/>
<path d="M28.1 430.1 L29.2 429.6 L30.3 429.4 L31.4 430.2 L32.5 429.8 L33.6 429.5 L34.7 430.0 L35.8 429.4 L36.9 430.3 L38.0 430.0 L39.1 429.7 L40.2 429.3 L41.3 429.7 L42.4 429.8 L43.5 430.2 L44.6 430.1 L45.7 430.0 L46.8 430.0 L47.9 429.8 L49.0 430.0 L50.1 430.1 L51.2 429.8 L52.3 430.1 L53.4 429.8 L54.5 429.9 L55.6 430.2 L56.7 430.0 L57.8 430.2 L58.9 430.0 L60.0 429.5 L61.1 429.6 L62.2 430.0 L63.3 430.3 L64.4 429.5 L65.5 429.8 L66.6 429.8 L67.7 430.3 L68.8 430.2 L69.9 430.3 L71.0 429.5 L72.1 429.4 L73.2 429.9 L74.3 429.5 L75.4 430.3 L76.5 429.6 L77.6 430.2 L78.7 429.5 L79.8 429.5 L80.9 430.0 L82.0 430.3 L83.1 429.7 L84.2 429.5 L85.3 429.6 L86.4 430.1 L87.5 430.0 L88.6 430.1 L89.7 429.7 L90.8 429.7 L91.9 429.5 L93.0 430.1 L94.1 430.4 L95.2 430.3 L96.3 430.3 L97.4 429.8 L98.5 429.8 L99.6 429.6 L100.7 430.4 L101.8 430.1 L102.9 430.0 L104.0 430.0 L105.1 429.6 L106.2 430.3 L107.3 430.2 L108.4 429.9 L109.5 429.4 L110.6 429.7 L111.7 430.0 L112.8 429.7 L113.9 429.6 L115.0 429.3 L116.1 429.5 L117.2 429.9 L118.3 429.6 L119.4 429.8 L120.5 430.0 L121.6 430.0 L122.7 429.3 L123.8 430.1 L124.9 430.2 L126.0 430.1 L127.1 429.2 L128.2 429.6 L129.3 430.1 L130.4 429.6 L131.5 429.3 L132.6 429.9 L133.7 429.9 L134.8 429.2 L135.9 429.9 L137.0 430.0 L138.1 429.8 L139.2 429.6 L140.3 429.5 L141.4 429.6 L142.5 430.1 L143.6 429.9 L144.7 429.9 L145.8 429.3 L146.9 430.2 L148.0 429.8 L149.1 429.3 L150.2 430.0 L151.3 429.9 L152.4 429.8 L153.5 430.1 L154.6 429.9 L155.7 430.3 L156.8 429.6 L157.9 430.1 L159.0 430.4 L160.1 429.8 L161.2 430.0 L162.3 430.1 L163.4 430.0 L164.5 429.4 L165.6 429.9 L166.7 430.2 L167.8 430.4 L168.9 430.4 L170.0 430.1 L171.1 429.6 L172.2 430.3 L173.3 430.2 L174.4 430.3 L175.5 429.6 L176.6 429.9 L177.7 430.3 L178.8 429.7 L179.9 429.6 L181.0 430.1 L182.1 429.7 L183.2 430.3 L184.3 429.9 L185.4 430.5 L186.5 430.0 L187.6 430.5 L188.7 430.2 L189.8 430.4 L190.9 430.0 L192.0 429.8 L193.1 429.8 L194.2 429.7 L195.3 429.7 L196.4 430.0 L197.5 430.6 L198.6 430.6 L199.7 430.2 L200.8 430.5 L201.9 430.7 L203.0 430.0 L204.1 430.2 L205.2 429.8 L206.3 430.6 L207.4 430.0 L208.5 429.7 L209.6 429.8 L210.7 430.6 L211.8 430.0 L212.9 430.1 L214.0 430.1 L215.1 430.5 L216.2 429.7 L217.3 430.0 L218.4 430.3 L219.5 430.0 L220.6 430.0 L221.7 430.4 L222.8 430.1 L223.9 429.9 L225.0 430.1 L226.1 430.1 L227.2 430.4 L228.3 430.2 L229.4 430.1 L230.5 429.6 L231.6 429.7 L232.7 429.5 L233.8 430.0 L234.9 429.8 L236.0 429.7 L237.1 429.8 L237.1 431.1 L236.0 430.7 L234.9 430.5 L233.8 431.0 L232.7 430.8 L231.6 430.9 L230.5 430.9 L229.4 430.8 L228.3 431.1 L227.2 430.4 L226.1 431.1 L225.0 431.2 L223.9 431.0 L222.8 431.3 L221.7 431.2 L220.6 431.0 L219.5 430.7 L218.4 430.6 L217.3 430.6 L216.2 430.4 L215.1 430.7 L214.0 431.3 L212.9 430.4 L211.8 430.6 L210.7 430.7 L209.6 430.7 L208.5 430.7 L207.4 431.3 L206.3 430.8 L205.2 430.8 L204.1 430.8 L203.0 431.0 L201.9 430.7 L200.8 431.3 L199.7 430.9 L198.6 431.4 L197.5 430.8 L196.4 430.7 L195.3 430.4 L194.2 430.8 L193.1 431.2 L192.0 430.5 L190.9 430.5 L189.8 430.5 L188.7 430.6 L187.6 431.0 L186.5 430.7 L185.4 430.9 L184.3 430.8 L183.2 430.7 L182.1 430.4 L181.0 431.1 L179.9 430.4 L178.8 430.9 L177.7 430.2 L176.6 431.0 L175.5 431.0 L174.4 430.6 L173.3 430.3 L172.2 430.9 L171.1 430.5 L170.0 431.0 L168.9 430.4 L167.8 430.4 L166.7 430.3 L165.6 430.8 L164.5 430.2 L163.4 430.8 L162.3 430.3 L161.2 430.7 L160.1 430.2 L159.0 431.1 L157.9 430.9 L156.8 430.3 L155.7 430.8 L154.6 431.0 L153.5 430.8 L152.4 430.8 L151.3 430.6 L150.2 430.3 L149.1 430.7 L148.0 430.1 L146.9 430.1 L145.8 430.4 L144.7 430.3 L143.6 430.6 L142.5 430.7 L141.4 430.9 L140.3 430.5 L139.2 430.9 L138.1 430.7 L137.0 430.2 L135.9 430.6 L134.8 430.5 L133.7 430.5 L132.6 430.5 L131.5 430.9 L130.4 430.2 L129.3 430.0 L128.2 430.8 L127.1 430.8 L126.0 430.6 L124.9 431.0 L123.8 430.2 L122.7 430.0 L121.6 430.7 L120.5 430.7 L119.4 430.1 L118.3 430.7 L117.2 430.5 L116.1 430.4 L115.0 431.0 L113.9 430.1 L112.8 431.0 L111.7 430.7 L110.6 430.6 L109.5 431.1 L108.4 431.0 L107.3 430.2 L106.2 430.6 L105.1 430.3 L104.0 430.7 L102.9 430.7 L101.8 431.1 L100.7 430.8 L99.6 430.7 L98.5 430.3 L97.4 430.4 L96.3 430.3 L95.2 430.8 L94.1 430.8 L93.0 430.4 L91.9 430.5 L90.8 431.1 L89.7 431.1 L88.6 430.4 L87.5 430.9 L86.4 430.9 L85.3 430.6 L84.2 430.8 L83.1 430.3 L82.0 430.2 L80.9 431.0 L79.8 430.5 L78.7 431.1 L77.6 431.0 L76.5 430.3 L75.4 430.8 L74.3 430.3 L73.2 430.8 L72.1 430.9 L71.0 430.2 L69.9 431.0 L68.8 430.8 L67.7 430.9 L66.6 430.4 L65.5 431.0 L64.4 430.9 L63.3 430.4 L62.2 431.0 L61.1 430.9 L60.0 430.4 L58.9 430.5 L57.8 430.8 L56.7 430.3 L55.6 430.5 L54.5 430.8 L53.4 430.7 L52.3 430.5 L51.2 430.9 L50.1 430.5 L49.0 431.0 L47.9 430.7 L46.8 430.1 L45.7 430.9 L44.6 430.6 L43.5 430.8 L42.4 431.0 L41.3 430.4 L40.2 431.0 L39.1 430.2 L38.0 430.5 L36.9 430.9 L35.8 430.8 L34.7 430.7 L33.6 430.8 L32.5 430.1 L31.4 430.6 L30.3 430.9 L29.2 430.9 L28.1 430.5 Z" fill="#73bf69" stroke="#73bf69" stroke-width="1.6" stroke-linejoin="round"/>
<path d="M74.2 429.7h0M58.2 429.9h0M58.9 429.8h0M143.9 429.7h0M195.6 430.8h0M100.4 429.0h0M149.7 429.6h0M94.3 430.7h0M182.1 430.9h0M46.0 431.6h0M130.8 430.3h0M43.6 430.8h0M177.8 431.1h0M170.7 429.8h0M207.6 432.1h0M80.9 431.1h0M106.0 429.3h0M99.6 429.6h0M131.7 430.4h0M193.6 430.8h0M134.5 431.2h0M102.4 431.6h0M48.2 431.6h0M86.2 431.1h0M187.8 431.4h0M80.6 431.7h0M57.3 429.6h0M205.9 430.2h0M45.3 428.9h0M227.8 431.9h0M176.9 430.8h0M82.3 429.6h0M228.1 430.7h0M162.7 430.6h0M59.3 430.6h0M234.1 431.3h0M110.3 429.8h0M68.6 430.8h0M133.3 429.4h0M41.6 431.0h0M89.9 429.6h0M37.4 430.5h0M179.7 430.7h0M166.7 430.6h0M179.0 429.5h0M53.5 429.8h0M37.9 428.7h0M37.4 430.5h0M81.7 430.0h0M133.4 429.6h0M152.0 429.7h0M137.1 429.7h0M48.4 431.1h0M54.1 431.3h0M195.0 430.1h0M135.0 430.8h0M213.0 429.8h0M32.9 429.0h0M222.3 429.1h0M115.0 430.7h0M128.0 431.3h0M218.4 429.9h0M39.9 430.7h0M206.9 431.3h0M55.4 429.3h0M233.3 430.6h0M217.8 429.3h0M56.9 430.9h0M38.8 429.6h0M108.9 429.8h0M67.5 429.6h0M173.6 429.9h0M217.1 431.0h0M177.6 429.6h0M32.4 430.7h0M83.7 430.6h0M108.0 430.8h0M74.7 430.7h0M54.9 430.8h0M215.7 431.2h0M136.0 430.9h0M223.3 430.0h0M38.5 431.1h0M101.6 429.7h0M172.4 429.8h0M38.8 429.6h0M153.7 431.1h0M208.7 429.9h0M69.3 430.8h0M59.6 429.8h0M196.7 429.8h0M173.8 430.7h0M62.9 430.5h0M114.5 428.6h0M93.2 429.4h0M162.4 429.6h0M103.6 430.6h0M144.0 431.5h0M156.5 431.0h0M77.2 429.9h0M163.0 430.6h0M73.6 430.7h0M127.8 431.1h0M60.3 430.5h0M53.8 429.2h0M229.9 429.7h0M151.7 430.6h0M32.1 430.6h0M165.8 430.8h0M147.9 431.4h0M110.8 429.9h0M215.1 430.1h0M224.4 431.0h0M139.9 430.6h0M51.3 431.1h0M72.4 431.5h0M32.2 429.7h0M96.6 431.4h0M157.1 430.7h0M65.7 429.6h0M120.3 429.7h0M117.7 429.9h0M153.9 429.6h0M156.7 429.7h0M182.2 429.5h0M106.0 429.6h0M210.1 430.9h0M94.1 431.3h0M184.4 430.0h0M224.8 429.4h0M162.1 431.4h0M204.8 431.1h0M224.9 431.6h0M187.2 430.7h0M93.3 430.6h0M106.8 429.8h0M63.6 430.8h0M152.2 430.7h0M143.3 429.8h0M98.9 429.8h0M59.1 430.6h0M191.7 429.8h0M119.4 429.6h0M149.4 431.2h0M75.7 429.4h0M120.1 430.4h0M118.3 429.2h0M227.5 430.8h0M181.9 431.5h0M75.4 430.5h0M44.1 429.7h0M30.2 429.9h0M150.8 431.3h0M29.3 430.5h0M91.9 430.0h0M169.9 430.5h0M158.8 431.3h0M141.4 429.0h0M31.8 431.1h0M196.6 431.3h0M137.7 430.9h0M226.7 429.4h0M154.7 429.7h0M50.4 430.5h0M207.3 430.8h0M130.6 429.7h0M119.8 429.7h0M91.8 429.5h0M39.8 429.9h0M124.7 431.6h0M135.3 429.7h0M105.2 429.8h0M90.0 430.0h0M234.4 430.1h0M167.3 431.1h0M69.6 429.5h0M200.0 430.9h0M184.4 430.1h0M95.6 429.0h0M143.3 430.9h0M86.8 430.5h0M228.8 431.2h0M95.4 430.9h0M149.5 430.5h0M71.8 431.3h0M140.2 430.7h0M38.9 428.8h0M102.6 430.0h0M195.3 430.1h0M147.0 431.0h0M76.3 431.1h0M30.9 429.8h0M92.9 430.6h0M168.2 429.3h0M153.5 430.4h0M77.1 431.6h0M125.3 429.6h0M90.1 429.8h0M40.7 430.8h0M60.9 429.8h0M69.3 430.6h0M147.5 430.5h0M215.7 430.7h0M186.8 430.7h0M183.4 430.1h0M194.8 430.9h0M81.2 429.1h0M105.0 428.9h0M153.2 429.2h0M30.4 429.8h0M190.4 429.5h0M57.0 431.6h0M126.2 429.4h0M207.2 431.6h0M113.5 430.5h0M52.6 430.5h0M216.6 429.9h0M166.0 431.2h0M207.5 429.7h0M32.4 429.6h0M222.1 430.8h0M81.0 429.7h0M217.7 430.2h0M80.0 429.3h0M202.6 429.3h0M55.6 429.7h0M86.0 429.4h0M179.8 431.2h0M97.0 430.0h0M150.4 430.7h0M93.1 429.3h0M30.8 428.5h0M91.7 430.8h0M117.1 430.8h0M140.2 429.4h0M84.6 429.7h0M90.6 430.1h0M49.5 429.9h0M42.0 429.7h0M150.0 431.0h0M47.0 430.8h0M106.5 429.5h0M28.6 430.8h0M32.7 429.8h0M201.0 430.2h0M71.1 430.5h0M101.6 430.8h0M231.5 430.1h0M177.9 431.2h0M227.0 429.6h0M69.8 429.2h0M156.2 430.5h0M51.4 429.9h0M92.4 429.7h0M144.1 430.7h0M77.7 430.8h0M174.9 430.6h0M222.1 430.7h0M132.2 430.3h0M113.3 430.5h0M60.4 429.7h0M75.9 430.6h0M133.9 431.1h0M146.7 431.4h0M45.1 429.5h0M33.6 429.8h0M154.9 429.7h0M187.2 429.5h0M153.1 430.7h0M142.8 431.0h0M202.7 431.0h0M166.7 430.6h0M109.3 429.6h0M203.1 430.2h0M181.3 429.9h0M52.6 431.2h0M63.1 431.4h0M181.5 430.7h0M176.0 429.8h0M235.0 431.8h0M64.7 429.9h0M122.2 429.8h0M148.5 430.9h0M92.9 431.2h0M180.5 429.9h0M81.9 429.6h0M118.0 430.7h0M122.3 429.7h0M145.8 430.6h0M125.6 429.8h0M184.0 430.8h0M96.6 430.8h0M195.6 430.1h0M33.9 431.0h0M173.1 429.9h0M210.5 430.0h0M89.6 429.8h0M110.6 430.0h0M181.0 429.9h0M45.3 430.6h0M70.5 430.6h0M42.5 431.2h0M51.9 430.5h0M171.2 431.2h0M92.4 429.4h0M136.0 428.8h0M197.0 429.9h0M32.8 430.6h0M97.4 430.6h0M235.8 430.6h0M183.1 430.6h0M141.6 429.4h0M184.5 430.0h0M65.0 429.4h0M43.8 430.5h0M77.5 429.5h0M160.0 429.5h0M75.0 430.6h0M33.0 430.9h0M55.8 430.7h0M124.2 429.7h0M172.5 428.8h0M189.1 430.8h0M181.6 430.1h0M66.2 431.3h0M180.0 429.9h0M232.5 429.8h0M166.6 431.3h0M152.8 430.5h0M138.1 429.3h0M147.6 429.6h0M147.2 429.6h0M81.0 430.7h0M30.3 430.9h0M32.5 429.6h0M137.5 429.7h0M63.4 430.0h0M76.4 431.2h0M91.7 429.6h0M193.2 429.9h0M107.2 430.6h0M218.2 430.9h0M93.5 429.7h0M93.5 431.2h0M234.5 431.0h0M137.8 429.8h0M116.0 429.7h0M220.5 429.5h0M111.6 430.6h0M201.9 430.9h0M129.5 429.2h0M189.7 430.9h0M76.4 431.1h0M232.2 431.0h0M202.6 429.7h0M131.5 429.5h0M121.4 430.7h0M41.9 430.7h0M233.6 429.6h0M138.2 429.5h0M98.4 429.7h0M168.3 430.0h0M103.5 430.8h0M171.2 429.7h0M105.0 429.5h0M222.1 430.8h0M30.5 429.3h0M101.6 430.9h0M113.4 428.9h0M183.9 429.5h0M220.2 430.1h0M40.4 430.0h0M183.1 430.9h0M69.7 430.6h0M121.4 429.8h0M223.8 430.1h0M165.6 431.1h0M51.7 429.6h0M68.4 430.8h0M64.4 432.1h0M96.9 429.8h0M95.6 429.3h0M130.3 431.0h0M230.0 429.9h0M29.9 431.1h0M50.4 431.1h0M154.9 429.7h0M112.3 429.9h0M219.5 429.5h0M129.4 429.4h0M160.4 430.8h0M44.9 430.6h0M206.6 430.9h0M32.2 430.7h0M80.6 429.1h0M92.9 430.6h0M100.5 430.0h0M104.9 430.5h0M135.8 430.8h0M45.0 430.7h0M151.4 430.5h0M111.6 429.6h0M136.0 430.5h0M173.1 429.4h0M126.5 430.7h0M36.6 430.5h0M232.3 429.9h0M60.5 430.6h0M194.0 430.9h0M31.4 429.6h0M43.6 429.3h0M201.8 430.9h0M107.0 429.9h0M154.9 431.4h0M40.4 429.9h0M126.6 429.6h0M186.4 430.7h0M171.1 430.6h0M145.4 431.2h0M116.5 429.6h0M189.1 430.9h0M222.3 430.9h0M73.2 429.7h0M34.3 430.4h0M84.5 430.9h0M235.5 430.6h0M213.8 431.8h0M151.4 430.8h0M92.3 431.5h0M158.8 428.7h0M89.4 430.0h0M203.3 429.8h0M90.4 432.0h0M72.0 430.0h0M114.3 431.2h0M156.6 429.8h0M235.5 430.0h0M84.4 430.8h0M139.4 429.8h0M65.4 430.0h0M101.5 429.9h0M226.9 431.0h0M182.9 430.0h0M211.2 431.1h0M110.6 430.0h0M210.9 431.3h0M103.5 430.8h0M132.1 429.7h0M220.9 429.1h0M149.8 430.4h0M171.5 430.9h0M195.8 430.8h0M225.9 430.7h0M149.0 429.3h0M203.3 431.1h0M174.3 430.6h0M82.9 431.0h0M74.8 430.6h0M158.9 430.0h0M135.7 431.0h0M133.6 429.3h0M157.5 430.5h0M116.6 430.7h0M120.4 431.4h0M68.3 430.7h0M209.6 430.3h0M100.3 431.1h0M195.0 430.9h0M194.3 431.2h0M63.8 431.4h0M160.3 429.3h0M28.7 429.2h0M105.4 430.0h0M134.4 430.9h0M60.0 430.8h0M199.1 430.1h0M108.8 429.9h0M144.0 429.3h0M187.7 430.7h0M154.6 430.6h0M232.9 429.5h0M119.6 431.2h0M103.9 429.6h0M102.4 430.7h0M191.5 431.3h0M212.0 430.3h0M130.8 429.3h0M143.6 430.6h0M42.2 430.6h0M105.0 429.9h0M181.3 431.5h0M179.2 430.6h0M185.7 429.8h0M168.7 430.6h0M148.2 429.2h0M180.0 430.6h0M201.6 429.6h0M181.9 429.8h0M156.2 429.1h0M86.3 430.0h0M76.0 429.4h0M106.7 430.7h0M149.1 431.2h0M138.7 430.8h0M170.3 429.5h0M164.1 430.7h0M169.4 429.9h0M133.7 430.4h0M184.2 429.3h0M236.5 430.8h0M145.0 430.4h0M215.1 430.2h0M163.3 431.0h0M70.2 429.7h0M156.4 429.5h0M161.0 431.1h0M141.9 430.5h0M136.2 428.7h0M196.5 430.9h0M66.1 430.7h0M193.0 429.7h0M210.5 432.0h0M40.7 429.5h0M208.1 431.7h0M117.2 431.2h0M42.8 431.3h0M204.0 429.4h0M68.7 430.9h0M80.7 430.7h0M151.3 430.8h0M221.9 428.8h0M106.7 429.5h0M197.3 429.8h0M201.9 430.3h0M152.4 429.6h0M36.6 431.3h0M46.4 430.5h0M105.2 431.2h0M63.1 431.2h0M127.3 429.5h0M161.4 429.6h0M128.3 430.4h0M203.3 430.3h0M45.7 430.9h0M219.7 430.2h0M140.6 429.8h0M51.2 430.0h0M210.3 430.1h0M149.7 430.7h0M106.4 429.7h0M165.8 430.7h0M231.1 431.0h0M206.8 431.1h0M69.0 430.0h0M209.8 431.2h0M165.6 429.8h0M233.8 430.0h0M134.4 430.4h0M105.0 430.1h0M116.3 429.7h0M146.5 429.5h0M211.8 430.2h0M121.2 429.5h0M153.7 430.6h0M102.5 430.6h0M186.6 430.1h0M196.6 429.9h0M36.0 430.5h0M124.3 429.5h0M46.4 430.5h0M45.0 428.8h0M82.0 430.6h0M196.3 431.5h0M57.3 429.8h0M193.1 430.9h0M50.4 430.5h0M231.7 430.7h0M61.2 429.8h0M166.6 429.6h0M116.8 429.8h0M145.8 429.6h0M49.7 430.7h0M227.9 431.5h0M184.4 430.9h0M152.4 431.1h0M144.7 431.0h0M151.6 431.0h0M107.6 429.8h0M220.2 430.2h0M122.2 429.7h0M170.9 431.2h0M215.1 429.0h0M165.0 430.9h0M104.9 431.0h0M77.4 429.9h0M112.6 429.7h0M69.5 430.6h0M192.5 429.9h0M231.0 431.8h0M74.2 430.6h0M68.5 430.8h0M188.5 429.7h0M118.9 429.5h0M73.2 429.2h0M106.2 429.4h0M191.5 431.1h0M53.7 431.7h0M35.0 431.0h0M90.7 431.3h0M125.2 429.8h0M137.1 429.7h0M213.5 431.7h0M100.2 430.9h0M219.2 429.3h0M143.4 430.8h0M55.9 430.6h0M51.0 429.2h0M208.9 430.8h0M92.4 430.9h0M158.0 428.8h0M60.3 429.6h0M224.6 430.6h0M50.0 428.9h0M59.7 429.5h0M93.0 430.6h0M201.1 431.5h0M68.6 430.6h0M112.3 429.0h0M97.1 430.7h0M229.8 429.6h0M30.1 430.5h0M78.5 429.7h0M83.8 429.7h0M174.3 431.0h0M110.8 430.5h0M101.5 430.8h0M148.7 428.8h0M103.7 429.0h0M207.9 431.1h0M65.5 429.6h0M105.5 431.0h0M137.0 429.3h0M46.3 429.3h0M133.0 430.6h0M61.9 430.6h0M56.9 431.2h0M144.1 429.5h0M99.5 429.4h0M39.1 430.8h0M114.0 428.6h0M72.7 429.1h0M173.1 429.1h0M215.0 430.9h0M204.6 431.6h0M181.3 429.7h0M64.8 429.9h0M68.8 431.3h0M73.1 430.6h0M151.8 430.8h0M69.6 429.9h0M53.6 430.6h0M81.0 430.0h0M231.3 430.7h0M44.2 430.7h0M91.4 429.9h0M30.5 429.5h0M154.8 430.0h0M176.9 430.8h0M70.9 431.0h0M150.4 429.4h0M189.5 429.7h0M130.6 430.4h0M216.5 431.0h0M211.5 429.1h0M234.6 429.9h0M47.8 429.7h0M229.7 430.6h0M87.1 431.4h0M72.0 429.9h0M193.8 429.6h0M113.6 430.5h0M148.4 428.8h0M177.9 429.6h0M204.5 430.2h0M231.2 429.3h0M152.0 429.6h0M205.5 431.3h0M233.5 430.7h0M77.8 429.9h0M225.0 430.0h0M222.8 429.5h0M133.1 430.3h0M123.4 429.0h0M127.3 429.2h0M155.6 431.0h0M157.3 429.4h0M120.1 431.3h0M160.5 428.9h0M196.3 430.8h0M231.8 431.4h0M224.8 430.8h0M113.2 430.8h0M115.3 430.7h0M114.2 430.8h0M128.1 429.4h0M73.9 430.7h0M105.9 429.9h0M125.7 430.6h0M162.8 429.8h0M36.6 430.5h0M48.8 428.4h0M120.8 430.8h0M210.8 429.9h0M179.5 430.1h0M231.4 429.6h0M84.2 429.9h0M81.9 429.6h0M104.8 430.7h0M195.6 429.5h0" stroke="#73bf69" stroke-width="2.30" stroke-linecap="round" fill="none"/>
<path d="M192.8 434.7h0" stroke="#73bf69" stroke-width="1.80" stroke-linecap="round" fill="none"/>
<path d="M262.90 402.83 H471.80" stroke="rgba(204,204,220,0.075)" stroke-width="0.5"/>
<path d="M262.90 418.13 H471.80" stroke="rgba(204,204,220,0.075)" stroke-width="0.5"/>
<path d="M262.90 433.73 H471.80" stroke="rgba(204,204,220,0.075)" stroke-width="0.5"/>
<path d="M288.90 388.53 V433.73" stroke="rgba(204,204,220,0.075)" stroke-width="0.5"/>
<path d="M327.51 388.53 V433.73" stroke="rgba(204,204,220,0.075)" stroke-width="0.5"/>
<path d="M366.12 388.53 V433.73" stroke="rgba(204,204,220,0.075)" stroke-width="0.5"/>
<path d="M404.72 388.53 V433.73" stroke="rgba(204,204,220,0.075)" stroke-width="0.5"/>
<path d="M443.33 388.53 V433.73" stroke="rgba(204,204,220,0.075)" stroke-width="0.5"/>
<rect x="251.00" y="446.58" width="5.4" height="1.7" rx="0.4" fill="#73bf69"/>
<path d="M263.8 395.7 L264.8 395.6 L265.8 395.2 L266.8 395.8 L267.8 395.2 L268.8 395.6 L269.8 395.8 L270.8 395.6 L271.8 395.9 L272.8 395.8 L273.8 395.6 L274.8 395.5 L275.8 395.3 L276.8 395.4 L277.8 395.9 L278.8 395.8 L279.8 395.8 L280.8 395.6 L281.8 395.9 L282.8 395.5 L283.8 395.6 L284.8 395.6 L285.8 395.6 L286.8 395.8 L287.8 395.2 L288.8 395.7 L289.8 395.5 L290.8 395.7 L291.8 395.7 L292.8 395.7 L293.8 395.4 L294.8 395.2 L295.8 395.9 L296.8 395.6 L297.8 395.6 L298.8 395.4 L299.8 395.2 L300.8 395.7 L301.8 395.4 L302.8 395.8 L303.8 395.4 L304.8 395.4 L305.8 395.4 L306.8 395.6 L307.8 395.3 L308.8 395.4 L309.8 395.6 L310.8 395.4 L311.8 395.3 L312.8 395.6 L313.8 395.2 L314.8 395.2 L315.8 395.3 L316.8 395.3 L317.8 395.6 L318.8 395.6 L319.8 395.2 L320.8 395.9 L321.8 395.8 L322.8 395.7 L323.8 395.6 L324.8 395.7 L325.8 395.4 L326.8 395.7 L327.8 395.4 L328.8 395.6 L329.8 395.6 L330.8 395.2 L331.8 395.5 L332.8 395.6 L333.8 395.2 L334.8 395.6 L335.8 395.6 L336.8 395.3 L337.8 395.8 L338.8 395.8 L339.8 395.7 L340.8 395.6 L341.8 395.7 L342.8 395.6 L343.8 395.8 L344.8 395.7 L345.8 395.7 L346.8 395.8 L347.8 395.3 L348.8 395.6 L349.8 395.6 L350.8 395.2 L351.8 395.8 L352.8 395.4 L353.8 395.8 L354.8 395.7 L355.8 395.4 L356.8 395.2 L357.8 395.6 L358.8 395.8 L359.8 395.6 L360.8 395.5 L361.8 395.3 L362.8 395.7 L363.8 395.7 L364.8 395.7 L365.8 395.3 L366.8 395.4 L367.8 395.4 L368.9 395.8 L369.9 395.7 L370.9 395.4 L371.9 395.5 L372.9 395.6 L373.9 395.5 L374.9 395.5 L375.9 395.3 L376.9 395.4 L377.9 395.2 L378.9 395.9 L379.9 395.3 L380.9 395.6 L381.9 395.6 L382.9 395.4 L383.9 395.7 L384.9 395.5 L385.9 395.7 L386.9 395.4 L387.9 395.2 L388.9 395.5 L389.9 395.9 L390.9 395.5 L391.9 395.7 L392.9 395.9 L393.9 395.3 L394.9 395.6 L395.9 395.7 L396.9 395.5 L397.9 395.6 L398.9 395.2 L399.9 395.6 L400.9 395.3 L401.9 395.3 L402.9 395.5 L403.9 395.4 L404.9 395.6 L405.9 395.3 L406.9 395.7 L407.9 395.8 L408.9 395.8 L409.9 395.4 L410.9 395.7 L411.9 395.9 L412.9 395.6 L413.9 395.4 L414.9 395.4 L415.9 395.3 L416.9 395.5 L417.9 395.7 L418.9 395.3 L419.9 395.6 L420.9 395.4 L421.9 395.9 L422.9 395.6 L423.9 395.2 L424.9 395.7 L425.9 395.5 L426.9 395.3 L427.9 395.4 L428.9 395.9 L429.9 395.6 L430.9 395.5 L431.9 395.7 L432.9 395.3 L433.9 395.3 L434.9 395.3 L435.9 395.2 L436.9 395.4 L437.9 395.8 L438.9 395.4 L439.9 395.5 L440.9 395.3 L441.9 395.2 L442.9 395.7 L443.9 395.8 L444.9 395.3 L445.9 395.3 L446.9 395.6 L447.9 395.3 L448.9 395.7 L449.9 395.6 L450.9 395.7 L451.9 395.4 L452.9 395.2 L453.9 395.7 L454.9 395.2 L455.9 395.4 L456.9 395.8 L457.9 395.2 L458.9 395.8 L459.9 395.4 L460.9 395.3 L461.9 395.5 L462.9 395.4 L463.9 395.7 L464.9 395.4 L465.9 395.7 L466.9 395.6 L467.9 395.6 L468.9 395.5 L469.9 395.7 L470.9 395.7 L471.9 395.4" fill="none" stroke="#73bf69" stroke-width="2.20" stroke-linecap="round" stroke-linejoin="round"/>
<path d="M500.40 400.33 H706.60" stroke="rgba(204,204,220,0.075)" stroke-width="0.5"/>
<path d="M500.40 411.43 H706.60" stroke="rgba(204,204,220,0.075)" stroke-width="0.5"/>
<path d="M500.40 422.43 H706.60" stroke="rgba(204,204,220,0.075)" stroke-width="0.5"/>
<path d="M500.40 433.73 H706.60" stroke="rgba(204,204,220,0.075)" stroke-width="0.5"/>
<path d="M526.06 388.53 V433.73" stroke="rgba(204,204,220,0.075)" stroke-width="0.5"/>
<path d="M564.17 388.53 V433.73" stroke="rgba(204,204,220,0.075)" stroke-width="0.5"/>
<path d="M602.28 388.53 V433.73" stroke="rgba(204,204,220,0.075)" stroke-width="0.5"/>
<path d="M640.39 388.53 V433.73" stroke="rgba(204,204,220,0.075)" stroke-width="0.5"/>
<path d="M678.50 388.53 V433.73" stroke="rgba(204,204,220,0.075)" stroke-width="0.5"/>
<rect x="485.50" y="446.58" width="5.4" height="1.7" rx="0.4" fill="#73bf69"/>
<path d="M698.3 416.2h0M547.3 407.1h0M568.6 410.1h0M503.8 409.5h0M534.8 413.3h0M635.5 410.5h0M568.4 406.9h0M620.3 405.5h0M581.1 409.3h0M630.0 416.7h0M584.9 406.9h0M553.7 412.8h0M537.5 410.1h0M623.7 411.0h0M665.7 415.1h0M585.9 409.1h0M690.8 404.6h0M541.6 421.6h0M673.8 417.4h0M666.5 415.2h0M613.3 405.9h0M705.8 409.2h0M537.4 410.6h0M578.5 411.6h0M530.3 414.7h0M517.8 416.4h0M532.2 419.0h0M550.7 412.2h0M515.3 407.2h0M630.4 407.4h0M613.3 405.6h0M564.4 410.4h0M674.1 409.0h0M684.0 404.4h0M673.5 408.9h0M651.7 413.1h0M619.8 420.4h0M541.5 413.3h0M600.3 410.1h0M619.6 412.2h0M622.1 413.8h0M563.6 406.7h0M616.9 417.2h0M674.4 410.3h0M502.7 415.5h0M534.0 409.2h0M568.7 412.5h0M543.9 413.2h0M547.9 411.8h0M517.6 418.8h0M541.7 416.1h0M547.6 413.3h0M609.8 411.9h0M601.0 414.3h0M515.2 415.5h0M581.9 408.4h0M613.8 416.1h0M581.7 410.2h0M545.1 406.8h0M626.8 416.4h0M557.3 413.4h0M573.8 410.5h0M660.4 417.5h0M502.7 414.2h0M616.0 410.9h0M572.3 412.2h0M682.3 414.1h0M534.9 412.3h0M664.9 411.6h0M639.6 417.3h0M502.9 414.6h0M665.2 414.5h0M601.3 406.8h0M670.0 419.0h0M514.5 414.6h0M564.9 413.7h0M591.3 402.2h0M638.8 416.4h0M698.6 409.6h0M617.4 409.8h0M533.4 409.8h0M692.3 410.6h0M562.9 413.9h0M543.3 410.0h0M551.2 415.0h0M654.0 407.1h0M618.9 413.5h0M507.1 414.0h0M692.2 416.1h0M500.6 421.0h0M559.1 409.7h0M514.8 410.2h0M685.1 411.6h0M645.6 412.2h0M704.4 414.7h0M586.5 411.4h0M626.0 411.9h0M653.3 417.8h0M636.0 416.5h0M607.4 403.3h0M702.7 415.3h0M639.7 414.9h0M691.9 407.6h0M684.3 412.5h0M597.4 415.8h0M556.1 413.3h0M635.6 412.2h0M565.7 410.6h0M685.9 414.2h0M580.6 405.3h0M697.2 416.0h0M612.5 405.8h0M632.6 412.4h0M503.5 417.3h0M511.6 402.2h0M619.1 411.1h0M662.9 414.0h0M557.4 402.2h0M602.9 414.9h0M644.3 410.1h0M585.5 413.3h0M574.6 413.9h0M506.3 419.2h0M550.1 409.2h0M665.4 420.4h0M593.2 412.0h0M518.9 402.5h0M508.6 418.7h0M559.0 414.0h0M541.4 416.5h0M675.3 405.4h0M525.4 419.0h0M547.8 412.9h0M538.2 411.9h0M621.6 405.7h0M548.6 409.7h0M623.9 415.2h0M548.9 411.4h0M538.7 417.2h0M602.3 410.5h0M602.6 414.2h0M644.7 413.1h0M552.3 403.2h0M538.2 411.0h0M597.8 412.2h0M670.8 407.2h0M688.2 409.2h0M605.5 410.4h0M691.5 412.8h0M541.1 414.9h0M681.6 413.6h0M626.0 413.0h0M650.8 407.9h0M646.1 414.8h0M580.9 417.2h0M628.3 414.4h0M698.1 411.3h0M540.7 410.4h0M563.9 411.2h0M548.7 408.4h0M538.9 411.1h0M646.6 416.3h0M675.2 415.8h0M701.0 414.7h0M582.0 415.8h0M670.4 417.8h0M508.6 414.6h0M575.6 413.4h0M524.2 415.3h0M697.5 413.8h0M617.2 410.1h0M558.8 421.6h0M529.5 412.3h0M689.2 412.3h0M610.2 416.6h0M515.0 411.1h0M576.8 410.4h0M517.0 413.7h0M642.7 418.1h0M549.5 405.1h0M627.4 411.5h0M688.7 419.3h0M502.7 419.4h0M702.9 419.1h0M675.3 416.6h0M659.2 415.8h0M618.1 405.2h0M512.6 409.9h0M617.8 416.6h0M574.7 410.9h0M528.4 416.3h0M697.4 408.0h0M699.2 408.9h0M668.9 406.5h0M653.7 408.6h0M661.9 416.7h0M555.2 413.0h0M578.7 406.5h0M589.9 413.0h0M509.5 411.0h0M603.2 417.8h0M690.0 416.6h0M574.0 408.3h0M682.6 416.4h0M631.9 414.6h0M596.7 409.5h0M642.1 411.5h0M573.3 407.9h0M675.0 409.3h0M552.3 407.5h0M575.6 414.3h0M519.0 413.2h0M546.7 408.1h0M675.6 408.2h0M616.9 409.8h0M671.6 416.8h0M504.4 418.7h0M530.5 415.4h0M582.4 414.7h0M679.1 416.3h0M581.1 411.8h0M522.6 411.5h0M530.6 412.4h0M618.3 408.6h0M678.9 408.0h0M613.4 410.2h0M636.1 407.6h0M528.4 409.0h0M700.5 410.5h0M663.1 405.7h0M545.8 406.7h0M536.6 413.6h0M669.1 408.5h0M689.5 412.1h0M565.9 408.9h0M521.4 416.2h0M552.9 414.4h0M632.1 421.9h0M664.9 411.4h0M576.5 409.1h0M696.3 407.7h0M588.8 408.2h0M686.7 412.9h0M644.5 419.7h0M651.0 418.3h0M610.3 411.5h0M586.4 408.1h0M658.3 406.9h0M548.1 412.1h0M633.4 410.8h0M536.5 409.6h0M529.7 416.4h0M648.8 408.2h0M599.3 405.9h0M673.7 411.6h0M635.9 406.8h0M553.1 409.1h0M529.3 409.9h0M625.1 415.7h0M534.5 409.7h0M632.4 413.7h0M652.7 419.1h0M543.6 410.5h0M637.1 415.8h0M643.5 416.9h0M692.4 410.2h0M544.4 411.5h0M662.5 424.2h0M581.4 414.5h0M584.5 412.9h0M504.7 409.5h0M570.1 406.4h0M571.8 411.0h0M625.5 415.6h0M561.2 413.1h0M690.7 412.2h0M636.1 414.6h0M655.4 416.7h0M578.8 404.2h0M575.0 400.1h0M593.7 415.4h0M599.0 416.7h0M611.2 409.7h0M624.2 416.9h0M689.1 411.9h0M526.2 410.1h0M579.8 412.6h0M537.2 414.1h0M674.0 417.3h0M597.2 415.9h0M652.3 410.9h0M582.2 412.4h0M687.9 412.5h0M585.2 406.0h0M653.7 416.3h0M574.5 415.3h0M586.9 412.6h0M558.4 409.6h0M616.6 409.2h0M591.6 419.9h0M501.2 415.9h0M585.3 414.9h0M500.4 420.2h0M645.7 410.0h0M595.2 408.5h0M686.1 412.6h0M530.9 408.6h0M564.2 411.4h0M521.0 415.0h0M645.3 410.8h0M653.9 417.4h0M600.9 409.6h0M670.8 411.0h0M574.6 410.8h0M687.4 409.7h0M659.7 418.7h0M665.6 408.7h0M702.6 407.0h0M600.7 409.5h0M653.9 417.0h0M540.5 413.5h0M532.6 409.2h0M650.7 410.9h0M542.1 417.7h0M555.6 405.6h0M612.7 412.9h0M697.3 413.6h0M673.5 412.9h0M706.5 414.7h0M615.5 415.7h0M703.5 415.6h0M679.2 415.1h0M560.2 415.7h0M705.5 413.8h0M564.6 407.6h0M666.1 419.0h0M646.5 411.4h0M651.8 418.5h0M653.3 420.3h0M638.6 410.2h0M646.8 407.7h0M590.6 405.5h0M636.8 410.4h0M587.3 411.4h0M561.2 411.2h0M674.2 412.4h0M566.3 409.2h0M598.8 411.3h0M656.4 409.4h0M635.9 406.6h0M700.1 409.8h0M518.3 410.6h0M695.3 406.9h0M649.1 411.0h0M653.9 412.1h0M612.3 414.1h0M571.2 407.9h0M701.5 411.0h0M694.7 408.4h0M623.3 404.1h0M576.1 410.1h0M616.6 414.9h0M512.8 421.9h0M535.3 417.0h0M541.6 409.8h0M652.7 409.6h0M505.3 420.2h0M662.9 414.1h0M546.2 405.0h0M652.0 415.8h0M599.6 413.4h0M536.4 413.2h0M585.8 414.5h0M644.1 411.3h0M655.0 407.7h0M529.5 415.4h0M701.9 415.0h0M510.8 413.4h0M549.6 416.4h0M560.2 413.2h0M704.0 413.8h0M684.3 411.5h0M508.1 408.5h0M552.5 410.5h0M606.4 415.5h0M614.6 414.3h0M632.2 411.8h0M666.3 412.4h0M582.6 410.5h0M574.6 412.0h0M564.5 413.0h0M678.6 406.4h0M557.1 412.8h0M511.4 415.9h0M523.6 402.5h0M668.1 420.9h0M546.5 413.9h0M520.0 411.9h0M694.2 410.9h0M683.5 414.7h0M606.7 410.7h0M510.1 411.1h0M549.6 410.0h0M626.7 415.7h0M622.1 411.5h0M538.5 412.0h0M703.7 413.9h0M573.9 418.6h0M622.4 417.1h0M575.5 415.6h0M665.1 415.7h0M647.3 409.4h0M704.2 414.3h0M611.9 412.2h0M559.9 412.6h0M520.9 426.6h0M548.1 409.3h0M536.7 413.2h0M558.3 405.6h0M700.0 411.7h0M586.0 419.3h0M632.6 414.6h0M698.8 412.2h0M636.1 410.7h0M578.7 410.5h0M507.3 410.7h0M604.6 403.0h0M549.8 413.2h0M620.5 407.7h0M629.4 410.3h0M639.8 408.1h0M524.5 411.4h0M511.7 407.6h0M583.6 410.4h0M657.9 411.8h0M595.3 414.7h0M691.4 409.8h0M639.7 412.9h0M687.0 410.3h0M669.6 408.6h0M621.5 411.8h0M625.9 410.0h0M551.0 409.0h0M605.0 414.8h0M518.4 410.6h0M625.7 413.1h0M535.6 418.3h0M592.7 416.8h0M538.7 406.7h0M662.2 420.9h0M653.1 415.0h0M552.3 414.7h0M596.2 408.4h0M666.4 410.0h0M564.3 408.3h0M640.4 419.5h0M626.2 411.2h0M558.4 416.0h0M680.7 414.9h0M603.9 415.7h0M622.3 417.5h0M687.8 412.3h0M654.7 419.0h0M566.9 414.1h0M628.0 402.8h0M528.0 413.1h0M693.3 401.5h0M639.1 412.0h0M701.7 413.8h0M545.1 413.9h0M608.4 410.7h0M631.1 410.1h0M632.6 411.5h0M552.9 409.5h0M613.4 413.9h0M525.8 412.9h0M674.9 417.5h0M669.3 412.0h0M666.5 411.3h0M604.1 418.4h0M668.8 412.5h0M656.8 412.6h0M676.0 413.1h0M644.2 410.4h0M604.3 417.5h0M637.7 415.7h0M575.0 408.1h0M525.1 408.7h0M608.4 414.1h0M603.3 407.2h0M512.1 411.3h0M613.2 414.7h0M547.5 410.2h0M577.0 410.6h0M586.3 410.7h0M663.1 423.3h0M500.6 421.2h0M629.6 412.0h0M648.8 403.8h0M520.8 416.4h0M504.7 414.1h0M694.4 412.9h0M657.3 414.1h0M501.9 416.1h0M544.5 414.7h0M517.9 414.2h0M629.5 409.5h0M559.9 410.4h0M513.8 413.2h0M676.2 409.3h0M628.2 405.0h0M539.1 412.0h0M659.8 409.1h0M673.2 412.8h0M671.0 409.5h0M687.7 411.3h0M549.7 414.6h0M571.7 414.7h0M622.7 406.7h0M537.5 405.7h0" stroke="#73bf69" stroke-width="2.56" stroke-linecap="round" fill="none"/>
<path d="M28.40 475.05 H237.00" stroke="rgba(204,204,220,0.075)" stroke-width="0.5"/>
<path d="M28.40 496.95 H237.00" stroke="rgba(204,204,220,0.075)" stroke-width="0.5"/>
<path d="M28.40 518.45 H237.00" stroke="rgba(204,204,220,0.075)" stroke-width="0.5"/>
<path d="M54.36 472.85 V518.45" stroke="rgba(204,204,220,0.075)" stroke-width="0.5"/>
<path d="M92.91 472.85 V518.45" stroke="rgba(204,204,220,0.075)" stroke-width="0.5"/>
<path d="M131.47 472.85 V518.45" stroke="rgba(204,204,220,0.075)" stroke-width="0.5"/>
<path d="M170.02 472.85 V518.45" stroke="rgba(204,204,220,0.075)" stroke-width="0.5"/>
<path d="M208.57 472.85 V518.45" stroke="rgba(204,204,220,0.075)" stroke-width="0.5"/>
<rect x="16.30" y="530.90" width="5.4" height="1.7" rx="0.4" fill="#73bf69"/>
<path d="M28.1 499.5 L29.2 499.5 L30.3 500.3 L31.4 499.4 L32.5 500.3 L33.6 500.0 L34.7 500.0 L35.8 500.1 L36.9 499.8 L38.0 500.1 L39.1 500.4 L40.2 500.2 L41.3 500.5 L42.4 500.0 L43.5 500.4 L44.6 499.9 L45.7 499.8 L46.8 500.2 L47.9 500.4 L49.0 500.2 L50.1 499.7 L51.2 500.5 L52.3 499.9 L53.4 499.8 L54.5 500.3 L55.6 499.9 L56.7 499.8 L57.8 500.4 L58.9 500.5 L60.0 500.2 L61.1 500.5 L62.2 500.1 L63.3 500.2 L64.4 500.0 L65.5 500.8 L66.6 500.2 L67.7 500.7 L68.8 500.1 L69.9 500.7 L71.0 499.9 L72.1 500.8 L73.2 499.9 L74.3 500.3 L75.4 499.9 L76.5 500.8 L77.6 500.8 L78.7 500.2 L79.8 500.4 L80.9 500.8 L82.0 499.9 L83.1 500.3 L84.2 500.4 L85.3 500.3 L86.4 499.9 L87.5 500.6 L88.6 499.9 L89.7 500.5 L90.8 500.0 L91.9 500.4 L93.0 500.4 L94.1 500.6 L95.2 499.9 L96.3 500.8 L97.4 500.7 L98.5 500.0 L99.6 500.1 L100.7 500.6 L101.8 500.2 L102.9 499.9 L104.0 499.9 L105.1 500.8 L106.2 500.7 L107.3 500.6 L108.4 500.6 L109.5 500.1 L110.6 500.5 L111.7 500.0 L112.8 500.5 L113.9 499.9 L115.0 500.7 L116.1 499.7 L117.2 500.5 L118.3 500.5 L119.4 500.0 L120.5 499.9 L121.6 500.4 L122.7 500.5 L123.8 499.7 L124.9 500.0 L126.0 500.3 L127.1 500.4 L128.2 499.9 L129.3 500.4 L130.4 500.3 L131.5 500.4 L132.6 500.1 L133.7 499.7 L134.8 500.2 L135.9 500.4 L137.0 499.6 L138.1 500.0 L139.2 500.4 L140.3 499.8 L141.4 500.2 L142.5 500.4 L143.6 500.0 L144.7 499.7 L145.8 500.2 L146.9 499.6 L148.0 499.7 L149.1 500.2 L150.2 499.8 L151.3 500.3 L152.4 500.0 L153.5 499.7 L154.6 499.8 L155.7 499.5 L156.8 499.9 L157.9 499.9 L159.0 499.5 L160.1 499.7 L161.2 500.4 L162.3 500.4 L163.4 499.6 L164.5 499.6 L165.6 499.9 L166.7 499.9 L167.8 499.8 L168.9 500.0 L170.0 500.0 L171.1 500.0 L172.2 499.7 L173.3 499.9 L174.4 500.4 L175.5 500.1 L176.6 500.3 L177.7 499.6 L178.8 499.8 L179.9 499.6 L181.0 499.7 L182.1 499.8 L183.2 499.9 L184.3 499.6 L185.4 499.5 L186.5 500.4 L187.6 500.0 L188.7 499.6 L189.8 499.8 L190.9 499.4 L192.0 499.7 L193.1 500.0 L194.2 500.0 L195.3 499.4 L196.4 499.7 L197.5 499.4 L198.6 500.3 L199.7 499.5 L200.8 500.2 L201.9 500.1 L203.0 499.8 L204.1 500.0 L205.2 499.6 L206.3 499.5 L207.4 499.5 L208.5 499.6 L209.6 500.2 L210.7 499.6 L211.8 499.7 L212.9 500.1 L214.0 500.1 L215.1 499.9 L216.2 500.2 L217.3 499.4 L218.4 499.6 L219.5 499.7 L220.6 499.5 L221.7 499.7 L222.8 499.9 L223.9 499.7 L225.0 500.0 L226.1 499.5 L227.2 500.0 L228.3 499.9 L229.4 500.2 L230.5 500.2 L231.6 500.2 L232.7 499.4 L233.8 499.5 L234.9 500.2 L236.0 499.9 L237.1 499.6 L237.1 501.8 L236.0 501.7 L234.9 501.9 L233.8 502.4 L232.7 502.2 L231.6 502.4 L230.5 502.3 L229.4 501.8 L228.3 501.4 L227.2 501.7 L226.1 501.5 L225.0 502.2 L223.9 502.4 L222.8 502.4 L221.7 501.5 L220.6 502.2 L219.5 501.7 L218.4 502.0 L217.3 501.9 L216.2 502.2 L215.1 501.6 L214.0 502.1 L212.9 502.0 L211.8 502.2 L210.7 502.4 L209.6 501.8 L208.5 502.5 L207.4 502.4 L206.3 501.8 L205.2 501.8 L204.1 501.5 L203.0 502.3 L201.9 501.7 L200.8 502.2 L199.7 502.2 L198.6 502.3 L197.5 501.7 L196.4 502.4 L195.3 502.4 L194.2 501.8 L193.1 502.3 L192.0 502.2 L190.9 501.8 L189.8 501.6 L188.7 502.5 L187.6 502.4 L186.5 501.6 L185.4 502.4 L184.3 502.2 L183.2 501.8 L182.1 501.8 L181.0 501.8 L179.9 502.3 L178.8 501.7 L177.7 502.2 L176.6 502.2 L175.5 502.4 L174.4 502.0 L173.3 502.5 L172.2 501.9 L171.1 501.7 L170.0 501.9 L168.9 501.8 L167.8 501.9 L166.7 502.2 L165.6 502.5 L164.5 502.3 L163.4 502.2 L162.3 501.6 L161.2 501.8 L160.1 501.6 L159.0 502.4 L157.9 502.5 L156.8 501.9 L155.7 502.5 L154.6 501.8 L153.5 501.9 L152.4 501.9 L151.3 501.9 L150.2 502.3 L149.1 502.0 L148.0 501.7 L146.9 502.0 L145.8 502.3 L144.7 501.6 L143.6 502.2 L142.5 502.2 L141.4 502.4 L140.3 502.2 L139.2 502.3 L138.1 501.6 L137.0 502.1 L135.9 502.4 L134.8 502.3 L133.7 502.1 L132.6 502.1 L131.5 502.0 L130.4 502.1 L129.3 502.0 L128.2 502.3 L127.1 502.5 L126.0 502.6 L124.9 501.9 L123.8 502.2 L122.7 502.7 L121.6 501.8 L120.5 502.7 L119.4 502.7 L118.3 502.3 L117.2 502.2 L116.1 502.0 L115.0 502.7 L113.9 502.0 L112.8 502.5 L111.7 501.9 L110.6 502.3 L109.5 502.8 L108.4 502.1 L107.3 502.9 L106.2 502.1 L105.1 502.7 L104.0 502.6 L102.9 502.2 L101.8 502.8 L100.7 502.0 L99.6 502.8 L98.5 502.6 L97.4 502.4 L96.3 502.5 L95.2 502.7 L94.1 502.1 L93.0 502.6 L91.9 502.1 L90.8 502.6 L89.7 502.6 L88.6 502.4 L87.5 502.2 L86.4 502.8 L85.3 502.6 L84.2 502.1 L83.1 502.6 L82.0 502.6 L80.9 502.6 L79.8 502.1 L78.7 502.1 L77.6 502.3 L76.5 502.4 L75.4 502.3 L74.3 502.1 L73.2 502.6 L72.1 502.5 L71.0 502.2 L69.9 502.0 L68.8 502.7 L67.7 502.3 L66.6 502.0 L65.5 502.5 L64.4 502.5 L63.3 502.1 L62.2 502.3 L61.1 502.4 L60.0 502.7 L58.9 502.4 L57.8 502.0 L56.7 502.8 L55.6 502.1 L54.5 502.7 L53.4 502.6 L52.3 502.3 L51.2 502.6 L50.1 502.6 L49.0 502.3 L47.9 501.9 L46.8 502.1 L45.7 502.1 L44.6 502.6 L43.5 501.7 L42.4 502.5 L41.3 502.6 L40.2 502.1 L39.1 501.8 L38.0 502.5 L36.9 501.9 L35.8 502.3 L34.7 501.6 L33.6 502.2 L32.5 501.9 L31.4 501.8 L30.3 502.4 L29.2 501.6 L28.1 502.3 Z" fill="#73bf69" stroke="#73bf69" stroke-width="1.6" stroke-linejoin="round"/>
<path d="M93.3 500.4h0M173.7 498.2h0M93.6 500.2h0M71.5 502.5h0M128.2 504.0h0M192.6 503.2h0M215.4 499.6h0M94.4 499.4h0M198.8 502.0h0M185.7 502.9h0M56.1 500.4h0M33.2 499.6h0M137.8 500.1h0M104.1 499.8h0M157.7 499.7h0M98.0 500.5h0M76.4 499.4h0M143.6 499.4h0M69.9 502.3h0M154.5 502.2h0M59.1 503.7h0M107.8 499.5h0M216.7 499.9h0M45.2 502.1h0M200.7 502.1h0M235.9 502.2h0M178.3 502.4h0M203.8 499.4h0M133.6 500.2h0M234.8 503.1h0M184.7 503.4h0M166.7 499.9h0M35.6 502.2h0M227.5 502.9h0M42.2 499.9h0M63.2 502.2h0M198.8 501.9h0M191.9 499.9h0M174.5 500.0h0M198.3 503.2h0M232.2 499.1h0M129.1 499.5h0M198.4 499.4h0M87.6 499.5h0M216.7 502.8h0M36.5 500.0h0M151.8 498.2h0M108.1 499.1h0M106.3 504.0h0M104.3 502.9h0M80.9 503.6h0M65.8 500.3h0M165.4 500.0h0M184.2 499.4h0M39.1 503.7h0M107.1 502.8h0M129.1 500.3h0M56.4 502.6h0M33.6 500.1h0M134.3 502.6h0M206.8 500.1h0M138.4 502.8h0M40.1 502.3h0M147.3 499.7h0M104.2 503.5h0M83.3 502.6h0M52.9 499.1h0M125.9 502.2h0M221.2 503.0h0M144.7 502.2h0M236.9 503.7h0M231.7 502.0h0M159.5 502.1h0M45.8 499.8h0M34.7 500.0h0M64.4 500.6h0M88.4 502.5h0M60.8 500.1h0M94.1 499.6h0M180.6 502.3h0M213.2 504.3h0M38.7 499.5h0M184.2 502.1h0M166.3 503.8h0M188.8 498.2h0M115.5 500.2h0M129.0 502.1h0M103.3 499.5h0M150.2 503.0h0M121.1 502.4h0M196.1 499.7h0M129.4 500.1h0M47.7 502.7h0M79.4 499.3h0M127.4 499.7h0M224.5 499.6h0M146.7 500.2h0M197.4 502.1h0M222.7 499.1h0M42.9 500.0h0M153.4 502.0h0M173.0 502.8h0M100.1 502.6h0M114.2 500.0h0M131.6 500.1h0M163.9 502.1h0M110.6 500.5h0M64.7 502.2h0M182.4 498.1h0M171.2 499.4h0M122.9 500.3h0M59.7 503.4h0M147.8 502.2h0M139.9 500.0h0M32.4 499.4h0M129.6 502.6h0M146.5 503.0h0M133.7 499.5h0M186.3 499.8h0M174.2 500.2h0M225.6 502.0h0M192.3 499.7h0M58.8 499.5h0M98.2 500.3h0M162.6 502.1h0M203.6 499.9h0M36.9 499.6h0M60.7 502.5h0M121.7 502.8h0M97.9 503.4h0M191.7 499.3h0M77.3 498.5h0M110.4 500.4h0M46.6 502.8h0M204.0 503.0h0M233.2 501.9h0M98.4 503.0h0M104.7 503.1h0M172.6 499.7h0M55.9 498.9h0M36.4 500.2h0M154.1 499.2h0M169.5 498.8h0M204.6 500.0h0M118.0 499.5h0M55.5 502.1h0M204.2 499.8h0M234.8 502.8h0M223.5 499.5h0M129.0 502.2h0M199.1 501.9h0M90.9 503.0h0M122.6 501.9h0M195.6 502.1h0M93.8 500.4h0M170.6 499.6h0M133.0 502.5h0M223.5 499.3h0M193.0 498.3h0M219.9 499.4h0M216.4 499.7h0M41.6 500.1h0M74.7 503.1h0M217.9 501.8h0M224.6 499.7h0M227.7 501.7h0M173.1 503.8h0M48.6 499.6h0M72.6 503.2h0M109.5 502.4h0M218.1 499.8h0M169.2 502.0h0M223.1 502.3h0M213.2 502.8h0M208.1 499.2h0M112.3 502.1h0M159.4 500.2h0M192.3 498.4h0M48.3 500.0h0M45.1 501.9h0M212.4 499.2h0M204.4 499.4h0M180.8 499.7h0M68.0 500.1h0M150.1 500.1h0M67.0 503.4h0M132.1 502.8h0M144.8 501.9h0M49.6 500.4h0M29.9 502.8h0M85.9 500.3h0M167.7 499.5h0M99.0 500.5h0M149.8 502.0h0M83.7 500.2h0M37.0 501.8h0M188.1 502.1h0M129.9 502.6h0M104.0 499.7h0M162.4 502.1h0M34.0 499.3h0M41.6 502.0h0M173.2 499.7h0M109.5 503.6h0M189.6 498.9h0M165.5 502.8h0M121.0 499.1h0M58.8 499.2h0M79.0 499.3h0M133.8 503.0h0M172.8 499.8h0M167.2 499.7h0M103.3 502.9h0M128.2 500.2h0M77.5 498.9h0M134.5 500.0h0M201.2 499.5h0M231.3 502.6h0M35.6 500.0h0M188.2 500.0h0M115.0 502.5h0M69.2 503.9h0M212.6 502.3h0M120.8 503.3h0M176.3 499.6h0M96.5 503.8h0M117.1 502.4h0M193.4 499.7h0M77.8 500.4h0M131.0 499.2h0M178.4 503.6h0M65.8 503.2h0M73.8 500.5h0M122.5 500.3h0M179.8 499.6h0M104.1 500.2h0M133.2 503.7h0M39.5 502.0h0M145.5 500.1h0M173.0 504.3h0M218.6 499.2h0M113.7 500.3h0M219.7 502.1h0M213.3 502.9h0M166.7 501.9h0M140.7 502.9h0M148.0 500.2h0M143.3 502.6h0M42.4 502.4h0M202.0 498.5h0M210.8 502.4h0M176.6 501.9h0M158.4 498.6h0M139.5 500.0h0M97.8 498.9h0M225.9 503.5h0M97.8 500.1h0M223.5 501.8h0M57.5 499.7h0M54.1 500.0h0M141.9 500.1h0M66.1 499.5h0M235.8 499.7h0M208.8 503.4h0M134.7 500.3h0M120.8 502.0h0M53.9 502.1h0M157.0 500.2h0M135.6 500.0h0M121.8 502.2h0M140.4 502.6h0M42.9 500.3h0M233.4 498.3h0M198.7 503.0h0M134.8 499.5h0M51.6 502.1h0M120.6 502.5h0M132.2 501.8h0M236.7 502.3h0M104.1 499.0h0M54.9 502.8h0M112.0 502.5h0M91.1 502.4h0M221.5 501.7h0M177.5 499.0h0M163.1 502.5h0M124.1 502.1h0M36.8 502.5h0M126.1 504.0h0M164.3 502.0h0M127.7 502.0h0M152.9 499.7h0M197.6 499.3h0M222.7 499.5h0M116.4 503.3h0M156.1 501.8h0M181.3 500.2h0M209.6 499.8h0M142.4 499.0h0M35.9 499.3h0M151.1 502.7h0M181.6 500.1h0M54.8 503.1h0M84.1 502.9h0M126.9 503.4h0M34.3 504.0h0M231.4 499.9h0M120.4 499.6h0M181.2 500.0h0M224.0 499.4h0M188.2 499.2h0M112.4 503.2h0M236.6 503.5h0M125.5 502.0h0M115.0 502.3h0M104.8 499.8h0M218.6 499.4h0M164.7 499.6h0M41.0 503.1h0M184.3 499.9h0M56.9 499.5h0M194.8 501.7h0M105.5 500.6h0M29.2 501.8h0M183.2 499.2h0M99.6 499.3h0M134.3 502.3h0M107.9 502.5h0M38.6 502.4h0M190.0 500.1h0M161.5 502.0h0M82.0 502.7h0M232.6 502.1h0M192.0 502.4h0M48.1 502.1h0M97.3 500.6h0M128.3 500.1h0M34.1 502.6h0M82.6 502.6h0M127.7 499.7h0M128.6 502.4h0M56.8 503.1h0M90.2 502.3h0M223.9 502.1h0M189.0 502.3h0M100.9 499.8h0M153.0 503.4h0M226.5 502.7h0M57.1 502.2h0M29.6 499.9h0M68.7 500.4h0M193.1 499.9h0M90.9 503.3h0M69.3 499.0h0M100.2 500.5h0M84.0 500.3h0M123.8 499.2h0M219.7 502.6h0M45.6 499.9h0M154.4 502.5h0M167.7 499.5h0M43.7 500.2h0M148.2 499.9h0M219.9 502.8h0M34.3 501.7h0M121.9 499.7h0M214.7 502.1h0M79.8 499.1h0M73.7 498.9h0M45.1 500.1h0M158.7 502.0h0M83.6 502.3h0M104.3 503.0h0M219.0 499.1h0M159.5 499.6h0M39.7 502.8h0M116.4 502.9h0M236.4 499.6h0M210.1 499.9h0M51.7 502.6h0M85.5 500.3h0M128.7 499.1h0M91.6 499.9h0M46.8 502.2h0M106.9 503.4h0M128.7 502.0h0M230.4 502.2h0M219.1 502.9h0M86.0 500.2h0M62.7 499.0h0M42.9 503.2h0M86.6 502.8h0M166.5 502.7h0M124.4 499.9h0M36.5 502.4h0M150.2 502.1h0M165.2 503.8h0M103.1 502.6h0M196.0 500.1h0M173.6 502.0h0M146.5 500.2h0M186.2 503.2h0M179.1 503.0h0M52.6 499.6h0M121.3 499.9h0M40.5 501.8h0M129.8 500.3h0M37.0 499.9h0M176.0 498.7h0M175.2 501.8h0M47.8 502.5h0M158.5 499.9h0M227.7 498.0h0M149.3 500.1h0M166.5 499.5h0M203.8 498.3h0M183.3 498.5h0M236.7 499.3h0M48.3 499.9h0M156.2 503.1h0M141.3 500.2h0M138.2 503.7h0M101.1 499.5h0M149.2 499.3h0M123.4 499.4h0M203.3 501.7h0M54.7 502.5h0M144.9 499.3h0M216.8 499.6h0M67.5 502.6h0M180.3 499.4h0M155.4 502.2h0M84.3 499.4h0M111.4 502.8h0M120.7 500.0h0M168.8 498.7h0M202.4 500.1h0M199.3 499.3h0M149.9 502.5h0M119.2 500.1h0M214.3 499.7h0M120.7 502.0h0M83.4 500.2h0M65.2 502.7h0M115.1 504.2h0M140.9 499.3h0M166.3 499.1h0M225.0 502.1h0M53.9 499.3h0M214.9 503.3h0M129.4 500.1h0M100.1 500.6h0M179.4 499.9h0M38.6 501.9h0M115.8 499.8h0M32.6 501.7h0M188.9 502.5h0M130.1 500.3h0M129.0 502.0h0M78.3 500.3h0M94.0 499.8h0M81.1 502.3h0M210.2 500.0h0M158.8 500.2h0M194.5 499.4h0M63.6 503.7h0M123.7 499.7h0M106.4 502.7h0M156.5 501.9h0M86.8 503.4h0M202.8 500.1h0M85.3 503.0h0M124.9 499.9h0M175.1 502.2h0M103.9 502.4h0M166.7 498.9h0M85.1 503.2h0M137.0 500.0h0M102.0 499.9h0M174.0 503.5h0M122.9 499.7h0M52.2 499.3h0M160.3 500.2h0M196.3 500.0h0M222.1 499.1h0M212.4 499.6h0M220.4 498.9h0M234.5 502.1h0M56.4 500.3h0M235.8 499.5h0M203.7 498.8h0M187.1 499.2h0M225.4 502.4h0M89.0 502.7h0M169.1 501.8h0M38.5 500.1h0M114.0 499.7h0M209.3 501.8h0M32.3 499.9h0M185.9 498.8h0M92.8 500.5h0M42.4 502.3h0M196.5 503.0h0M58.8 499.7h0M33.7 498.8h0M130.9 502.1h0M85.0 502.5h0M168.8 504.2h0M76.5 504.2h0M59.6 502.5h0M92.2 503.4h0M66.2 502.4h0M97.0 504.1h0M34.2 502.9h0M194.6 499.7h0M96.3 499.7h0M186.7 500.2h0M43.2 500.1h0M186.1 497.9h0M144.4 502.3h0M116.1 499.0h0M177.1 502.8h0M81.2 502.6h0M105.2 503.1h0M32.1 499.8h0M144.3 503.1h0M220.2 503.3h0M192.8 499.5h0M152.8 501.9h0M139.3 499.9h0M214.6 498.5h0M69.8 500.3h0M61.6 500.0h0M68.8 502.5h0M199.6 501.8h0M77.6 500.6h0M171.7 499.8h0M42.2 498.8h0M47.5 502.5h0M174.0 499.2h0M30.1 502.1h0M48.2 500.3h0M192.8 502.7h0M136.5 498.7h0M119.6 502.0h0M209.1 502.8h0M199.6 502.4h0M127.7 503.3h0M49.0 500.2h0M202.2 502.5h0M48.9 499.3h0M147.1 502.9h0M62.2 499.9h0M73.4 500.1h0M42.3 499.6h0M52.5 500.4h0M177.6 502.2h0M147.3 499.5h0M105.9 502.6h0M183.5 502.8h0M186.1 500.0h0M201.8 502.8h0M151.6 501.9h0M122.0 500.1h0M55.2 502.8h0M78.1 503.2h0M190.5 502.5h0M173.4 501.8h0M186.4 498.4h0M106.2 502.2h0M70.3 500.6h0M85.2 503.1h0M145.6 502.9h0M168.2 502.3h0M96.1 498.4h0M187.8 502.5h0M39.4 502.0h0M201.9 499.2h0M67.7 502.6h0M142.4 502.8h0M62.9 500.4h0M115.4 502.1h0M236.8 503.7h0M222.8 502.2h0M33.3 500.1h0M163.6 502.4h0M157.5 502.2h0M41.2 502.2h0M236.0 499.5h0M230.0 498.7h0M232.2 502.2h0M81.9 500.3h0M167.5 498.1h0M138.1 502.6h0M119.4 498.2h0M112.9 500.3h0M68.7 500.4h0M191.9 502.0h0M190.5 500.1h0M38.3 502.2h0M184.2 502.2h0M221.3 500.1h0M64.4 500.3h0M123.7 503.9h0M235.8 501.9h0M203.8 501.9h0M210.7 498.6h0M155.1 500.0h0M75.8 499.2h0M72.5 500.6h0M234.4 499.2h0M194.3 502.0h0M81.2 500.4h0M191.8 499.3h0M205.3 500.1h0M233.0 503.9h0M35.6 502.8h0M199.5 502.2h0M225.6 504.4h0M84.8 500.2h0M150.1 502.1h0M142.6 503.1h0M40.1 499.6h0M203.3 501.7h0M194.4 499.2h0M119.4 500.4h0M121.9 502.1h0M118.0 499.0h0M209.7 499.2h0M143.4 502.1h0M74.6 502.2h0M30.4 499.3h0M228.6 502.7h0M181.0 499.0h0M180.7 503.3h0M61.9 502.8h0M120.1 503.1h0M108.0 500.5h0M214.6 499.7h0M190.5 504.2h0M76.9 500.0h0M187.6 499.1h0M65.4 502.9h0M178.8 502.0h0M29.4 502.8h0M167.3 500.1h0M230.4 502.2h0M29.0 499.7h0M150.2 503.3h0M40.2 502.4h0M198.4 498.9h0M104.3 500.4h0M52.1 502.0h0M150.0 502.4h0M112.9 502.5h0M193.1 502.5h0M120.2 499.7h0M71.3 500.6h0M125.1 500.2h0M199.7 502.7h0M149.2 502.6h0M139.8 500.1h0M174.1 499.6h0M173.1 499.3h0M103.9 503.3h0M67.3 500.3h0M185.6 500.0h0M69.5 503.2h0M68.0 502.8h0M161.1 501.9h0M131.3 498.4h0M102.9 499.4h0M185.6 502.2h0M140.1 502.6h0M89.6 502.2h0M34.0 503.9h0M90.8 502.6h0M169.3 500.0h0M165.4 500.2h0M177.4 499.3h0M173.2 499.5h0M61.6 498.9h0M226.1 503.1h0M220.2 502.0h0M137.4 503.1h0M74.9 500.5h0M68.8 499.7h0M112.9 503.0h0M38.9 497.9h0M174.5 503.0h0M58.2 499.0h0M105.2 502.5h0M58.3 499.6h0M41.0 502.5h0M98.1 502.7h0M210.1 500.0h0M52.0 502.0h0M148.6 504.2h0M54.4 499.7h0M29.9 503.2h0M198.1 500.1h0M119.5 502.5h0M163.7 498.4h0M84.4 503.4h0M138.7 502.0h0M226.9 502.1h0M186.6 503.4h0M58.7 500.5h0M49.5 502.5h0M103.6 500.5h0M204.1 503.1h0M29.8 499.8h0M83.2 502.3h0M171.0 500.0h0M96.7 503.7h0M213.4 498.6h0M202.0 499.9h0M168.9 502.1h0M162.8 498.5h0M70.6 500.3h0M53.2 502.6h0M172.5 502.0h0M149.8 502.1h0M172.6 498.8h0M199.8 499.5h0M180.4 502.2h0M107.7 502.5h0M90.3 502.8h0M189.6 502.2h0M196.9 500.1h0M73.4 503.2h0M53.0 500.0h0M106.9 498.4h0M219.7 499.6h0M33.1 502.4h0M52.8 499.2h0M39.4 500.0h0M208.7 499.9h0M40.6 499.7h0M51.6 503.0h0M225.1 503.6h0M95.4 503.0h0M147.3 502.3h0M34.9 503.1h0M162.3 498.8h0M28.4 499.9h0M176.2 502.8h0M155.2 502.8h0M187.1 500.1h0M209.4 498.7h0M92.1 500.6h0M141.2 502.0h0M48.1 503.2h0M131.0 499.6h0M167.2 499.9h0M59.1 500.4h0M222.3 503.0h0M112.4 502.7h0M140.1 498.7h0M159.5 503.1h0M105.2 502.2h0M82.5 503.2h0M150.3 501.8h0M53.9 499.8h0M79.3 498.7h0M214.1 501.8h0M162.8 499.5h0M207.6 500.1h0M226.3 499.9h0M172.8 499.4h0M29.0 502.0h0M190.0 503.5h0M187.2 500.1h0M133.9 502.6h0M59.9 504.4h0M40.4 500.2h0M70.9 503.3h0M172.2 498.1h0M158.3 501.8h0M61.1 500.2h0M224.8 502.7h0M120.1 503.3h0M117.2 499.9h0M56.6 503.9h0M51.8 499.9h0M168.0 499.6h0M138.6 500.0h0M144.7 499.8h0M134.9 500.0h0M88.6 498.8h0M126.4 504.5h0M90.9 498.8h0M214.4 499.4h0M96.6 503.4h0M41.5 499.7h0M73.6 500.0h0M160.9 500.0h0M208.0 502.8h0M112.2 504.0h0M178.9 503.5h0M158.1 500.2h0M67.6 503.3h0M56.6 500.2h0M71.1 500.1h0M86.9 503.7h0M193.4 501.8h0M227.5 499.8h0M163.5 502.6h0M208.9 499.2h0M224.4 498.2h0M89.2 500.0h0M66.6 498.7h0M204.7 502.5h0M64.2 500.1h0M154.4 501.8h0M219.0 502.7h0M82.9 502.2h0M103.1 500.6h0M223.9 502.3h0M56.0 499.3h0M198.5 502.0h0M66.2 503.1h0M77.7 499.8h0M67.5 499.1h0M205.4 501.9h0M224.6 499.2h0M215.4 501.9h0M182.0 502.8h0M76.8 502.5h0M119.0 503.4h0M56.4 502.3h0M98.8 499.0h0M107.1 503.1h0M73.8 503.0h0M135.8 499.8h0M177.3 500.1h0M202.9 501.9h0" stroke="#73bf69" stroke-width="2.50" stroke-linecap="round" fill="none"/>
<path d="M259.60 477.05 H471.80" stroke="rgba(204,204,220,0.075)" stroke-width="0.5"/>
<path d="M259.60 497.65 H471.80" stroke="rgba(204,204,220,0.075)" stroke-width="0.5"/>
<path d="M259.60 518.45 H471.80" stroke="rgba(204,204,220,0.075)" stroke-width="0.5"/>
<path d="M286.01 472.85 V518.45" stroke="rgba(204,204,220,0.075)" stroke-width="0.5"/>
<path d="M325.23 472.85 V518.45" stroke="rgba(204,204,220,0.075)" stroke-width="0.5"/>
<path d="M364.45 472.85 V518.45" stroke="rgba(204,204,220,0.075)" stroke-width="0.5"/>
<path d="M403.66 472.85 V518.45" stroke="rgba(204,204,220,0.075)" stroke-width="0.5"/>
<path d="M442.88 472.85 V518.45" stroke="rgba(204,204,220,0.075)" stroke-width="0.5"/>
<rect x="251.00" y="530.90" width="5.4" height="1.7" rx="0.4" fill="#73bf69"/>
<path d="M259.9 480.5 L260.9 480.8 L261.9 480.8 L262.9 480.7 L263.9 480.5 L264.9 480.6 L265.9 480.6 L266.9 480.8 L267.9 480.8 L268.9 480.7 L269.9 480.7 L270.9 480.7 L271.9 480.4 L272.9 480.4 L273.9 480.7 L274.9 480.7 L275.9 480.6 L276.9 480.5 L278.0 480.7 L279.0 480.5 L280.0 480.8 L281.0 480.8 L282.0 480.6 L283.0 480.4 L284.0 480.7 L285.0 480.4 L286.0 480.8 L287.0 480.8 L288.0 480.5 L289.0 480.7 L290.0 480.6 L291.0 480.4 L292.0 480.6 L293.0 480.6 L294.0 480.8 L295.0 480.8 L296.0 480.5 L297.0 480.7 L298.0 480.7 L299.0 480.5 L300.0 480.7 L301.0 480.8 L302.0 480.6 L303.0 480.5 L304.0 480.6 L305.0 480.5 L306.0 480.6 L307.0 480.4 L308.0 480.7 L309.0 480.6 L310.0 480.5 L311.0 480.5 L312.0 480.4 L313.1 480.7 L314.1 480.7 L315.1 480.7 L316.1 480.4 L317.1 480.7 L318.1 480.8 L319.1 480.4 L320.1 480.8 L321.1 480.7 L322.1 480.6 L323.1 480.5 L324.1 480.8 L325.1 480.5 L326.1 480.8 L327.1 480.4 L328.1 480.5 L329.1 480.5 L330.1 480.8 L331.1 480.6 L332.1 480.5 L333.1 480.6 L334.1 480.6 L335.1 480.8 L336.1 480.7 L337.1 480.4 L338.1 480.6 L339.1 480.6 L340.1 480.8 L341.1 480.4 L342.1 480.7 L343.1 480.8 L344.1 480.7 L345.1 480.5 L346.1 480.7 L347.1 480.8 L348.2 480.4 L349.2 480.6 L350.2 480.6 L351.2 480.8 L352.2 480.8 L353.2 480.6 L354.2 480.5 L355.2 480.6 L356.2 480.8 L357.2 480.5 L358.2 480.6 L359.2 480.6 L360.2 480.5 L361.2 480.7 L362.2 480.8 L363.2 480.4 L364.2 480.8 L365.2 480.6 L366.2 480.8 L367.2 480.5 L368.2 480.8 L369.2 480.5 L370.2 480.6 L371.2 480.4 L372.2 480.6 L373.2 480.4 L374.2 480.5 L375.2 480.8 L376.2 480.4 L377.2 480.5 L378.2 480.4 L379.2 480.7 L380.2 480.6 L381.2 480.6 L382.2 480.7 L383.2 480.4 L384.3 480.5 L385.3 480.7 L386.3 480.5 L387.3 480.8 L388.3 480.4 L389.3 480.5 L390.3 480.8 L391.3 480.8 L392.3 480.7 L393.3 480.7 L394.3 480.7 L395.3 480.4 L396.3 480.4 L397.3 480.8 L398.3 480.5 L399.3 480.7 L400.3 480.4 L401.3 480.8 L402.3 480.7 L403.3 480.8 L404.3 480.4 L405.3 480.6 L406.3 480.5 L407.3 480.6 L408.3 480.4 L409.3 480.7 L410.3 480.8 L411.3 480.5 L412.3 480.5 L413.3 480.4 L414.3 480.4 L415.3 480.6 L416.3 480.8 L417.3 480.4 L418.3 480.5 L419.4 480.4 L420.4 480.6 L421.4 480.1 L422.4 480.0 L423.4 480.1 L424.4 480.0 L425.4 479.8 L426.4 479.8 L427.4 480.0 L428.4 479.8 L429.4 480.2 L430.4 480.1 L431.4 479.7 L432.4 479.8 L433.4 480.1 L434.4 479.9 L435.4 479.9 L436.4 480.2 L437.4 480.0 L438.4 479.7 L439.4 480.1 L440.4 480.2 L441.4 479.9 L442.4 479.8 L443.4 479.7 L444.4 479.8 L445.4 479.8 L446.4 479.9 L447.4 480.0 L448.4 480.0 L449.4 479.7 L450.4 480.0 L451.4 480.0 L452.4 480.0 L453.4 479.8 L454.5 479.7 L455.5 480.2 L456.5 480.1 L457.5 479.8 L458.5 479.8 L459.5 480.2 L460.5 480.0 L461.5 479.9 L462.5 479.9 L463.5 479.9 L464.5 480.1 L465.5 479.9 L466.5 479.9 L467.5 479.9 L468.5 479.7 L469.5 480.2 L470.5 479.8 L471.5 479.8" fill="none" stroke="#73bf69" stroke-width="3.10" stroke-linecap="round" stroke-linejoin="round"/>
<path d="M441.0 482.4h0M446.5 483.0h0M445.2 482.0h0" stroke="#73bf69" stroke-width="1.60" stroke-linecap="round" fill="none"/>
<path d="M500.30 485.15 H706.60" stroke="rgba(204,204,220,0.075)" stroke-width="0.5"/>
<path d="M500.30 501.65 H706.60" stroke="rgba(204,204,220,0.075)" stroke-width="0.5"/>
<path d="M500.30 518.45 H706.60" stroke="rgba(204,204,220,0.075)" stroke-width="0.5"/>
<path d="M525.98 472.85 V518.45" stroke="rgba(204,204,220,0.075)" stroke-width="0.5"/>
<path d="M564.10 472.85 V518.45" stroke="rgba(204,204,220,0.075)" stroke-width="0.5"/>
<path d="M602.23 472.85 V518.45" stroke="rgba(204,204,220,0.075)" stroke-width="0.5"/>
<path d="M640.36 472.85 V518.45" stroke="rgba(204,204,220,0.075)" stroke-width="0.5"/>
<path d="M678.49 472.85 V518.45" stroke="rgba(204,204,220,0.075)" stroke-width="0.5"/>
<rect x="485.50" y="530.90" width="5.4" height="1.7" rx="0.4" fill="#73bf69"/>
<path d="M500.0 489.5 L501.1 489.4 L502.2 489.7 L503.3 489.1 L504.4 489.4 L505.5 489.5 L506.6 489.2 L507.7 489.0 L508.8 489.0 L509.9 489.1 L511.0 489.7 L512.1 489.5 L513.2 489.1 L514.3 489.6 L515.4 489.6 L516.5 489.6 L517.6 489.1 L518.7 489.5 L519.8 489.8 L520.9 489.9 L522.0 489.6 L523.1 489.5 L524.2 489.9 L525.3 489.3 L526.4 489.6 L527.5 489.5 L528.6 489.8 L529.7 490.0 L530.8 489.0 L531.9 489.8 L533.0 489.7 L534.1 489.4 L535.2 489.7 L536.3 490.0 L537.4 489.9 L538.5 490.0 L539.6 489.5 L540.7 489.5 L541.8 490.1 L542.9 489.5 L544.0 489.2 L545.1 489.3 L546.2 489.5 L547.3 490.1 L548.4 489.2 L549.5 490.1 L550.6 489.7 L551.7 489.6 L552.8 489.3 L553.9 490.1 L555.0 489.4 L556.1 489.3 L557.2 489.3 L558.3 489.4 L559.4 490.2 L560.5 490.2 L561.6 489.5 L562.7 490.2 L563.8 490.0 L564.9 489.4 L566.0 489.5 L567.1 490.1 L568.2 489.8 L569.3 489.7 L570.4 490.2 L571.5 490.0 L572.6 490.2 L573.7 490.2 L574.8 490.2 L575.9 489.7 L577.0 489.7 L578.1 490.3 L579.2 489.9 L580.3 490.1 L581.4 490.3 L582.5 489.9 L583.6 490.0 L584.7 489.5 L585.8 490.1 L586.9 489.4 L588.0 489.3 L589.1 489.9 L590.2 489.5 L591.3 489.5 L592.4 489.7 L593.5 489.6 L594.6 489.9 L595.7 489.5 L596.8 489.3 L597.9 489.2 L599.0 489.2 L600.1 490.1 L601.2 489.5 L602.3 489.5 L603.4 489.3 L604.5 489.3 L605.6 489.3 L606.7 489.5 L607.8 489.6 L608.9 489.5 L610.0 489.3 L611.1 489.9 L612.2 489.8 L613.3 489.8 L614.4 489.5 L615.5 489.1 L616.6 489.2 L617.7 489.1 L618.8 489.8 L619.9 489.5 L621.0 489.9 L622.1 489.1 L623.2 489.7 L624.3 489.6 L625.4 489.8 L626.5 489.9 L627.6 490.0 L628.7 489.2 L629.8 489.1 L630.9 489.7 L632.0 489.6 L633.1 489.0 L634.2 489.8 L635.3 489.3 L636.4 489.6 L637.5 489.7 L638.6 489.3 L639.7 489.0 L640.8 489.3 L641.9 489.3 L643.0 489.2 L644.1 489.4 L645.2 488.9 L646.3 488.9 L647.4 489.0 L648.5 488.8 L649.6 489.2 L650.7 489.0 L651.8 488.3 L652.9 488.5 L654.0 488.3 L655.1 487.6 L656.2 487.2 L657.3 487.4 L658.4 487.1 L659.5 487.4 L660.6 487.4 L661.7 486.4 L662.8 487.0 L663.9 486.8 L665.0 486.7 L666.1 485.9 L667.2 486.5 L668.3 485.8 L669.4 485.5 L670.5 485.6 L671.6 485.8 L672.7 485.6 L673.8 486.1 L674.9 485.2 L676.0 485.2 L677.1 485.7 L678.2 485.2 L679.3 486.0 L680.4 486.0 L681.5 486.0 L682.6 485.7 L683.7 485.6 L684.8 485.5 L685.9 486.1 L687.0 485.8 L688.1 485.7 L689.2 485.2 L690.3 485.6 L691.4 486.0 L692.5 486.0 L693.6 485.3 L694.7 485.7 L695.8 485.5 L696.9 485.3 L698.0 485.2 L699.1 485.7 L700.2 485.3 L701.3 485.1 L702.4 485.1 L703.5 485.5 L704.6 486.0 L705.7 485.3 L706.8 485.6 L706.8 493.3 L705.7 492.8 L704.6 493.1 L703.5 493.3 L702.4 493.3 L701.3 493.1 L700.2 493.2 L699.1 493.5 L698.0 492.8 L696.9 493.5 L695.8 493.0 L694.7 493.8 L693.6 493.0 L692.5 493.5 L691.4 492.9 L690.3 492.9 L689.2 492.9 L688.1 492.9 L687.0 493.4 L685.9 493.4 L684.8 493.0 L683.7 493.7 L682.6 493.3 L681.5 493.0 L680.4 493.8 L679.3 492.9 L678.2 493.3 L677.1 493.7 L676.0 493.8 L674.9 493.2 L673.8 493.0 L672.7 493.3 L671.6 493.8 L670.5 493.4 L669.4 493.7 L668.3 493.6 L667.2 494.0 L666.1 494.1 L665.0 493.8 L663.9 493.7 L662.8 493.7 L661.7 493.8 L660.6 493.8 L659.5 494.2 L658.4 494.5 L657.3 494.2 L656.2 494.4 L655.1 494.7 L654.0 494.6 L652.9 495.3 L651.8 495.0 L650.7 495.4 L649.6 495.6 L648.5 495.1 L647.4 495.7 L646.3 496.0 L645.2 496.0 L644.1 495.9 L643.0 495.9 L641.9 495.9 L640.8 495.9 L639.7 496.2 L638.6 496.1 L637.5 495.5 L636.4 495.3 L635.3 496.2 L634.2 496.2 L633.1 495.5 L632.0 496.1 L630.9 495.4 L629.8 495.7 L628.7 495.8 L627.6 496.3 L626.5 495.5 L625.4 496.3 L624.3 495.5 L623.2 495.7 L622.1 495.7 L621.0 495.7 L619.9 495.9 L618.8 496.3 L617.7 495.7 L616.6 496.3 L615.5 495.4 L614.4 496.0 L613.3 496.1 L612.2 495.8 L611.1 496.4 L610.0 496.2 L608.9 496.3 L607.8 496.2 L606.7 495.7 L605.6 495.8 L604.5 496.0 L603.4 495.9 L602.3 496.1 L601.2 495.6 L600.1 495.5 L599.0 496.5 L597.9 495.5 L596.8 495.8 L595.7 495.8 L594.6 496.0 L593.5 496.4 L592.4 495.6 L591.3 496.1 L590.2 495.9 L589.1 496.0 L588.0 495.6 L586.9 495.8 L585.8 496.0 L584.7 495.7 L583.6 496.1 L582.5 495.9 L581.4 496.6 L580.3 496.4 L579.2 495.9 L578.1 495.7 L577.0 496.3 L575.9 495.9 L574.8 495.9 L573.7 496.1 L572.6 496.3 L571.5 496.2 L570.4 496.7 L569.3 496.3 L568.2 495.8 L567.1 496.0 L566.0 496.5 L564.9 496.2 L563.8 496.0 L562.7 495.9 L561.6 496.5 L560.5 496.5 L559.4 496.1 L558.3 496.6 L557.2 496.2 L556.1 496.3 L555.0 496.2 L553.9 496.4 L552.8 496.5 L551.7 495.8 L550.6 495.9 L549.5 496.0 L548.4 496.4 L547.3 495.7 L546.2 495.8 L545.1 495.5 L544.0 495.5 L542.9 495.5 L541.8 496.1 L540.7 496.2 L539.6 495.8 L538.5 496.3 L537.4 496.3 L536.3 496.3 L535.2 496.3 L534.1 496.3 L533.0 495.7 L531.9 495.9 L530.8 495.8 L529.7 496.4 L528.6 496.1 L527.5 495.8 L526.4 495.9 L525.3 495.7 L524.2 495.9 L523.1 496.1 L522.0 496.1 L520.9 496.0 L519.8 496.1 L518.7 496.1 L517.6 495.8 L516.5 495.6 L515.4 496.1 L514.3 496.1 L513.2 495.5 L512.1 495.6 L511.0 495.4 L509.9 495.6 L508.8 495.5 L507.7 495.7 L506.6 495.2 L505.5 495.3 L504.4 496.1 L503.3 495.3 L502.2 495.4 L501.1 495.9 L500.0 495.4 Z" fill="#73bf69" stroke="#73bf69" stroke-width="1.6" stroke-linejoin="round"/>
<path d="M609.6 495.6h0M606.8 496.0h0M553.6 496.5h0M521.0 488.5h0M606.3 496.2h0M571.0 488.9h0M538.4 490.1h0M647.3 496.0h0M550.6 489.5h0M571.6 496.8h0M682.2 484.9h0M665.5 494.4h0M533.9 489.6h0M604.0 487.3h0M686.6 493.7h0M654.0 495.4h0M580.0 488.8h0M658.6 486.6h0M640.3 489.7h0M521.9 497.8h0M580.0 488.8h0M568.5 487.6h0M577.6 497.2h0M535.0 490.0h0M689.0 485.8h0M512.2 485.9h0M599.4 488.3h0M582.1 496.8h0M501.5 486.4h0M574.4 487.2h0M546.5 486.0h0M503.3 495.5h0M642.1 497.3h0M683.1 494.2h0M587.4 489.1h0M704.9 486.5h0M538.9 489.7h0M548.3 487.9h0M551.2 487.8h0M696.5 493.2h0M581.6 489.4h0M705.5 494.8h0M575.3 489.7h0M672.7 485.4h0M673.4 480.8h0M597.0 495.6h0M648.1 495.9h0M601.9 495.7h0M520.6 496.4h0M558.5 499.2h0M568.7 490.4h0M565.0 490.5h0M643.3 489.6h0M580.5 496.3h0M525.2 486.9h0M573.5 488.5h0M567.3 490.1h0M599.8 487.2h0M502.1 495.2h0M651.7 488.5h0M525.1 495.4h0M599.9 490.4h0M646.6 495.3h0M696.5 483.6h0M672.5 480.1h0M564.3 497.2h0M694.4 493.6h0M679.2 493.3h0M591.6 485.9h0M630.0 486.7h0M653.4 494.3h0M613.1 490.0h0M616.3 489.7h0M639.7 496.1h0M629.9 495.9h0M509.0 497.4h0M557.9 498.6h0M672.8 492.9h0M549.0 487.1h0M575.7 496.4h0M641.7 489.1h0M637.6 495.4h0M588.2 498.2h0M536.3 490.1h0M661.6 495.1h0M537.6 495.5h0M603.6 489.4h0M522.5 486.7h0M502.9 495.1h0M629.4 488.1h0M566.0 489.5h0M694.5 493.2h0M605.0 487.5h0M673.0 481.0h0M513.7 500.4h0M517.6 489.7h0M581.0 488.8h0M555.0 498.8h0M589.1 495.7h0M524.0 489.6h0M564.1 484.5h0M595.0 496.9h0M558.5 490.4h0M654.9 488.4h0M687.3 485.0h0M677.3 484.5h0M697.4 493.6h0M658.1 495.8h0M692.4 494.3h0M688.4 492.9h0M502.7 495.7h0M512.4 495.2h0M613.3 496.2h0M639.4 489.1h0M695.3 483.8h0M616.8 496.3h0M631.5 489.2h0M658.7 487.4h0M556.4 489.4h0M509.1 487.4h0M595.3 490.2h0M527.5 487.4h0M573.9 490.4h0M550.6 496.2h0M537.8 489.2h0M632.5 486.8h0M502.3 495.2h0M638.0 489.1h0M593.6 496.2h0M665.6 485.4h0M613.7 495.8h0M623.8 488.8h0M668.3 493.9h0M507.7 496.2h0M511.2 496.1h0M702.8 494.3h0M599.0 496.4h0M512.7 496.7h0M556.3 489.0h0M682.2 486.5h0M641.1 489.6h0M685.5 481.1h0M552.4 489.8h0M570.4 489.6h0M561.8 496.6h0M688.7 485.3h0M679.5 483.1h0M568.0 498.9h0M685.1 485.9h0M604.8 488.7h0M666.2 485.9h0M609.2 488.6h0M594.5 488.4h0M602.3 496.7h0M581.4 496.3h0M606.1 495.9h0M627.0 489.8h0M589.5 495.7h0M656.6 484.9h0M610.5 488.6h0M502.0 495.6h0M623.3 495.9h0M645.3 487.8h0M676.4 483.1h0M682.4 494.7h0M526.0 500.2h0M529.1 497.6h0M534.6 495.6h0M625.5 490.0h0M618.6 495.3h0M514.0 490.0h0M653.3 488.7h0M519.2 488.3h0M564.9 495.6h0M648.1 494.9h0M535.1 495.5h0M588.2 489.1h0M592.9 496.7h0M569.2 495.8h0M581.7 497.2h0M599.7 483.9h0M660.4 485.7h0M553.7 489.3h0M534.4 489.0h0M613.5 496.3h0M611.3 497.5h0M574.8 497.9h0M657.9 487.7h0M522.3 495.6h0M693.6 495.9h0M621.3 489.8h0M543.0 496.2h0M639.7 495.4h0M655.9 480.6h0M681.4 493.1h0M695.5 484.0h0M696.8 493.2h0M614.2 489.2h0M573.7 489.4h0M502.7 489.1h0M689.6 484.8h0M614.2 489.9h0M518.1 497.8h0M521.2 496.5h0M609.1 490.2h0M536.3 495.6h0M654.3 494.7h0M563.2 496.7h0M642.6 495.5h0M665.4 484.5h0M529.5 497.4h0M514.5 485.9h0M684.8 496.1h0M691.8 493.3h0M561.7 498.7h0M532.1 489.9h0M541.3 489.1h0M697.4 485.3h0M573.0 486.7h0M704.6 483.9h0M646.4 488.0h0M620.9 497.1h0M559.0 495.6h0M650.1 489.1h0M679.2 493.5h0M689.6 486.5h0M686.3 494.2h0M695.0 486.4h0M563.8 496.5h0M645.6 496.0h0M508.9 488.8h0M620.3 488.1h0M551.4 489.9h0M660.6 494.6h0M577.2 495.7h0M523.5 496.4h0M597.0 488.8h0M680.9 496.8h0M632.5 497.9h0M546.7 496.3h0M615.9 495.6h0M626.0 487.6h0M675.9 492.8h0M655.6 488.5h0M604.5 499.4h0M509.4 488.3h0M524.9 496.0h0M614.3 497.0h0M620.4 496.8h0M633.2 495.3h0M676.5 495.9h0M680.4 493.9h0M534.1 498.2h0M512.9 486.5h0M624.8 496.0h0M606.8 487.1h0M519.5 497.1h0M617.9 490.3h0M583.2 496.3h0M652.1 495.3h0M706.4 493.2h0M511.7 497.1h0M573.6 490.3h0M517.4 496.2h0M681.4 493.0h0M696.8 485.6h0M672.8 484.0h0M520.3 486.2h0M574.4 497.2h0M622.7 496.2h0M513.6 488.8h0M654.1 484.5h0M612.0 495.4h0M605.8 488.3h0M682.2 486.1h0M696.0 484.0h0M528.4 496.6h0M507.4 489.4h0M503.9 488.8h0M631.6 496.1h0M571.3 486.2h0M659.8 496.0h0M687.6 492.7h0M602.1 487.3h0M701.9 493.0h0M505.7 490.1h0M636.0 483.8h0M507.1 489.3h0M559.0 497.2h0M520.9 496.1h0M694.9 493.0h0M605.1 496.7h0M585.6 489.0h0M561.0 490.2h0M532.0 489.7h0M564.8 487.7h0M513.2 486.9h0M539.9 495.7h0M630.4 487.0h0M525.6 485.1h0M619.2 497.8h0M544.7 495.8h0M677.3 482.3h0M567.3 497.8h0M549.0 489.3h0M528.8 495.4h0M609.5 496.6h0M511.6 495.8h0M557.5 496.3h0M516.8 497.0h0M559.3 489.6h0M638.4 496.0h0M661.6 481.7h0M665.2 483.5h0M698.5 493.0h0M632.5 489.5h0M652.6 497.3h0M668.0 485.7h0M615.3 487.0h0M608.0 489.8h0M683.5 493.6h0M531.5 489.5h0M548.3 495.8h0M658.8 494.7h0M662.9 487.2h0M625.6 483.5h0M699.9 492.6h0M504.4 488.8h0M635.1 489.2h0M522.4 497.1h0M647.1 485.7h0M616.4 490.3h0M512.9 488.8h0M643.4 488.9h0M560.6 495.7h0M607.8 489.2h0M646.8 499.2h0M547.1 497.0h0M696.7 493.9h0M634.4 496.6h0M693.1 484.1h0M642.7 490.0h0M607.1 490.4h0M671.2 492.7h0M644.3 495.9h0M545.3 498.6h0M601.5 488.4h0M535.8 496.1h0M593.4 496.4h0M621.2 495.8h0M535.3 495.5h0M587.7 488.5h0M635.0 490.1h0M639.1 489.9h0M691.5 493.7h0M682.0 493.0h0M560.2 490.1h0M626.1 488.4h0M673.8 496.1h0M578.4 496.9h0M596.1 495.5h0M582.5 490.4h0M608.6 495.6h0M605.3 489.4h0M576.0 490.2h0M562.3 487.9h0M578.7 497.8h0M675.8 485.7h0M555.9 485.4h0M546.6 489.1h0M508.9 489.8h0M531.8 497.9h0M661.4 494.3h0M689.5 493.9h0M500.6 489.8h0M592.1 490.1h0M678.2 493.3h0M591.0 498.4h0M692.8 493.4h0M527.4 489.7h0M560.6 487.8h0M516.1 487.4h0M548.0 495.5h0M503.9 488.9h0M573.6 497.4h0M561.7 489.1h0M694.1 483.9h0M689.9 494.4h0M566.0 489.3h0M594.0 495.7h0M648.7 494.9h0M561.1 490.1h0M662.4 493.9h0M570.4 490.4h0M543.5 498.2h0M692.0 482.2h0M501.8 496.7h0M503.4 496.4h0M564.7 489.9h0M605.2 496.5h0M570.5 490.5h0M510.4 495.5h0M508.3 497.9h0M608.4 496.3h0M586.2 495.7h0M605.7 497.2h0M679.5 494.2h0M547.0 496.1h0M623.1 496.6h0M639.0 496.1h0M655.4 487.6h0M644.6 487.1h0M524.1 497.8h0M647.7 486.9h0M627.3 488.9h0M684.3 494.1h0M597.8 489.7h0M528.8 497.5h0M591.5 489.8h0M659.3 495.7h0M637.0 489.8h0M703.8 484.9h0M701.6 485.3h0M640.7 489.8h0M538.7 495.3h0M639.7 495.6h0M574.7 490.2h0M538.8 487.7h0M525.1 497.1h0M506.5 489.8h0M620.0 489.5h0M601.5 496.2h0M506.5 495.5h0M659.1 494.5h0M588.2 497.7h0M553.5 498.5h0M593.4 489.3h0M543.8 498.9h0M658.3 487.2h0M584.2 497.1h0M507.7 495.7h0M543.5 488.9h0M539.3 488.8h0M592.8 488.9h0M662.6 482.9h0M534.5 495.8h0M582.9 488.3h0M627.9 488.9h0M691.3 495.4h0M639.4 488.5h0M534.2 489.7h0M654.2 487.2h0M674.6 497.8h0M658.0 494.2h0M705.3 483.8h0M625.9 484.8h0M603.2 490.2h0M537.5 496.8h0M648.5 498.5h0M559.9 498.0h0M568.1 490.5h0M637.1 490.2h0M694.7 493.9h0M662.4 484.3h0M696.9 486.3h0M668.8 483.0h0M553.1 488.4h0M612.5 499.1h0M635.6 488.5h0M526.9 495.7h0M560.8 488.6h0M699.7 484.5h0M651.9 487.9h0M520.9 489.1h0M608.6 495.4h0M549.7 495.9h0M698.5 494.1h0M633.8 496.7h0M530.4 495.9h0M587.8 496.3h0M634.3 495.3h0M656.3 494.6h0M657.3 496.4h0M620.0 496.0h0M522.1 487.6h0M641.1 488.0h0M523.1 497.0h0M665.6 484.5h0M506.0 489.2h0M602.3 488.3h0M642.7 496.7h0M614.5 497.4h0M701.3 494.0h0M591.0 497.7h0M650.5 487.6h0M572.3 496.0h0M541.1 488.4h0M671.5 495.1h0M691.2 486.1h0M575.5 497.1h0M690.5 486.1h0M567.9 490.1h0M628.7 487.9h0M513.5 487.9h0M579.7 490.0h0M606.2 496.3h0M647.2 495.8h0M647.7 495.8h0M670.3 486.1h0M688.4 496.5h0M535.2 487.9h0M538.5 488.9h0M655.1 487.2h0M615.1 487.9h0M559.2 490.4h0M584.1 489.8h0M526.5 496.4h0M609.4 496.9h0M567.7 495.6h0M626.7 488.6h0M696.0 484.6h0M598.2 489.2h0M669.8 485.2h0M591.9 498.0h0M546.1 498.4h0M672.2 486.6h0M626.7 489.7h0M526.9 489.7h0M563.5 496.9h0M529.4 495.5h0M616.6 488.1h0M654.9 495.6h0M594.5 497.5h0M561.5 488.1h0M502.3 495.2h0M632.6 488.3h0M532.0 496.1h0M533.8 487.8h0M500.6 497.1h0M625.2 485.9h0M520.5 488.2h0M550.5 496.2h0M531.2 489.1h0M642.2 497.4h0M671.9 485.3h0M651.0 495.4h0M594.7 495.6h0M580.2 501.0h0M661.1 487.7h0M512.2 488.2h0M521.5 488.6h0M530.0 496.7h0M657.5 498.9h0M520.8 488.2h0M558.2 496.5h0M507.2 488.5h0M502.0 489.2h0M538.7 496.0h0M549.9 490.4h0M537.8 489.8h0M604.2 498.2h0M661.7 484.2h0M551.7 490.2h0M568.9 489.3h0M551.5 496.8h0M681.2 484.3h0M548.0 496.6h0M584.3 489.1h0M592.2 490.1h0M621.5 489.3h0M673.8 493.2h0M552.2 496.1h0M525.7 490.2h0M584.2 485.7h0M540.6 489.1h0M580.7 489.6h0M557.6 498.2h0M610.0 484.1h0M690.3 493.2h0M703.7 492.6h0M704.4 483.9h0M648.4 496.1h0M528.4 488.6h0M520.4 496.9h0M703.6 485.5h0M520.7 495.2h0M702.9 493.8h0M617.8 490.0h0M548.6 495.6h0M693.8 485.6h0M568.8 486.0h0M584.6 495.5h0M616.9 495.8h0M636.9 489.7h0M693.9 481.6h0M538.0 488.7h0M518.5 497.8h0M514.6 497.3h0M649.4 488.1h0M622.6 495.5h0M588.9 490.3h0M607.0 487.8h0M703.0 494.5h0M577.7 495.8h0M628.7 488.8h0M637.0 489.8h0M565.7 488.4h0M661.8 494.6h0M536.4 488.0h0M617.8 489.9h0M658.2 486.3h0M568.2 496.1h0M614.9 495.5h0M703.5 485.5h0M690.6 494.8h0M672.0 485.0h0M515.9 488.1h0M582.1 496.7h0M582.4 497.7h0M556.4 499.0h0M574.7 486.2h0M616.9 487.4h0M626.7 498.6h0M691.6 495.7h0M575.4 490.4h0M669.3 494.2h0M666.0 493.1h0M563.6 486.9h0M594.0 496.9h0M689.9 486.1h0M629.4 496.3h0M686.9 484.7h0M621.8 495.4h0M700.7 493.8h0M578.6 490.5h0M677.4 484.9h0M692.8 484.0h0M655.0 488.2h0M662.7 481.7h0M694.8 485.5h0M549.1 489.2h0M554.7 496.1h0M665.2 487.1h0M601.1 488.9h0M524.0 487.1h0M701.1 495.3h0M632.1 499.3h0M683.8 492.6h0M527.4 496.5h0M702.7 492.6h0M545.8 498.4h0M568.6 490.5h0M580.4 498.1h0M562.8 486.7h0M527.9 495.4h0M697.9 485.9h0M621.8 496.8h0M571.6 495.9h0M659.5 494.2h0M567.2 486.7h0M580.1 497.1h0M599.2 495.6h0M597.0 489.1h0M666.2 486.4h0M583.8 490.4h0M526.9 495.4h0M555.2 490.1h0M615.2 488.2h0M589.9 496.7h0M515.3 499.2h0M626.8 488.4h0M627.4 488.9h0M617.0 496.5h0M557.7 496.7h0M679.2 493.5h0M564.2 486.9h0M664.6 494.1h0M632.0 489.1h0M638.4 488.1h0M527.7 496.7h0M664.5 496.6h0M589.6 488.1h0M500.7 495.3h0M560.2 487.9h0M670.7 484.1h0M570.8 489.9h0M504.4 488.0h0M533.5 497.5h0M643.2 495.8h0M643.3 497.5h0M633.4 488.0h0M592.4 490.1h0M540.4 496.4h0M686.5 486.1h0M643.8 486.9h0M525.4 495.9h0M651.6 489.2h0M603.1 484.1h0M581.2 496.2h0M565.4 496.1h0M595.7 488.3h0M528.0 498.0h0M566.0 490.2h0M531.8 498.6h0M591.9 490.1h0M585.2 495.8h0M529.0 496.1h0M684.2 492.6h0M671.5 494.8h0M552.0 489.3h0M527.1 489.0h0M540.1 486.3h0M679.3 486.4h0M511.6 495.3h0M529.8 496.7h0M539.0 488.0h0M695.3 492.6h0M527.9 487.0h0M508.1 489.9h0M502.9 495.9h0M507.3 490.0h0M670.7 493.0h0M702.4 484.8h0M680.6 494.0h0M625.4 497.9h0M605.9 496.8h0M660.3 487.0h0M519.0 497.8h0M612.0 497.6h0M543.5 496.7h0M588.1 495.8h0M648.2 496.6h0M527.7 497.5h0M679.1 479.8h0M621.4 489.5h0M552.6 496.1h0M583.5 495.6h0M567.7 487.4h0M570.6 490.3h0M665.6 493.2h0M701.8 493.8h0M630.6 495.4h0M501.0 496.1h0M681.0 484.3h0M581.3 496.9h0M683.4 495.2h0M608.7 489.6h0M683.5 494.1h0M585.6 496.1h0M700.3 486.2h0M563.3 490.4h0M547.8 497.2h0M575.3 496.3h0M505.9 490.0h0M560.4 496.9h0M546.4 488.9h0M686.9 483.2h0M685.3 493.7h0M622.4 487.9h0M547.8 487.6h0M500.4 489.6h0M616.2 487.0h0M543.2 496.1h0M607.8 496.2h0M680.6 493.7h0M645.1 497.5h0M539.6 496.3h0M552.6 486.2h0M542.3 488.5h0M544.6 488.0h0M502.1 499.5h0M665.9 493.5h0M578.8 489.5h0M621.4 486.2h0M666.8 486.5h0M672.9 484.1h0M624.4 488.2h0M566.8 496.8h0M527.8 489.8h0M546.5 496.6h0M508.9 499.0h0M627.3 495.8h0M622.5 499.0h0M564.5 490.0h0M594.2 489.8h0M652.6 495.1h0M581.4 488.3h0M657.7 495.2h0M682.1 494.4h0M567.1 490.2h0M591.8 497.0h0M622.4 497.5h0M623.7 487.8h0M611.0 495.4h0M561.0 489.3h0M653.3 495.2h0M620.1 488.8h0M638.1 489.5h0M593.1 489.1h0M531.5 496.4h0M549.1 497.0h0M579.2 496.5h0M597.0 496.4h0M541.1 486.9h0M658.3 494.0h0M546.0 495.6h0M513.4 488.5h0M555.8 488.3h0M511.2 487.9h0M502.2 489.8h0M558.3 496.7h0M612.5 496.4h0M505.9 489.7h0M557.0 496.7h0M643.5 496.0h0M516.2 487.3h0M592.0 488.4h0M683.8 495.4h0M591.1 495.6h0M559.2 499.0h0M518.8 487.0h0M558.5 496.6h0M551.3 496.6h0M505.4 495.9h0M580.9 495.6h0M615.5 497.4h0M614.1 495.4h0M528.6 486.5h0M599.7 495.5h0M609.3 495.5h0M507.4 489.9h0M664.2 481.3h0M593.5 490.1h0M576.2 497.1h0M669.5 493.9h0M605.7 496.6h0M562.9 495.9h0M532.9 495.5h0M592.9 495.8h0M662.2 483.0h0M676.9 493.8h0M536.7 495.9h0M530.6 490.1h0M645.2 486.2h0M595.3 498.3h0M671.3 484.1h0M690.3 483.8h0M639.1 497.8h0M623.4 488.2h0M593.3 490.4h0M661.7 481.0h0M537.8 490.3h0M511.3 489.8h0M568.0 489.3h0M681.5 499.7h0" stroke="#73bf69" stroke-width="2.50" stroke-linecap="round" fill="none"/>
<path d="M730.05 111.81 A44.85 44.85 0 1 1 815.35 111.81" fill="none" stroke="#73bf69" stroke-width="1.5"/>
<path d="M737.37 109.43 A37.15 37.15 0 1 1 808.03 109.43" fill="none" stroke="#22252b" stroke-width="11.1"/>
<path d="M737.37 109.43 A37.15 37.15 0 0 1 806.61 82.77" fill="none" stroke="#73bf69" stroke-width="11.1"/>
<path d="M730.05 196.13 A44.85 44.85 0 1 1 815.35 196.13" fill="none" stroke="#73bf69" stroke-width="1.5"/>
<path d="M737.37 193.75 A37.15 37.15 0 1 1 808.03 193.75" fill="none" stroke="#22252b" stroke-width="11.1"/>
<path d="M737.37 193.75 A37.15 37.15 0 0 1 735.66 179.38" fill="none" stroke="#73bf69" stroke-width="11.1"/>
<path d="M730.05 280.45 A44.85 44.85 0 1 1 815.35 280.45" fill="none" stroke="#73bf69" stroke-width="1.5"/>
<path d="M737.37 278.07 A37.15 37.15 0 1 1 808.03 278.07" fill="none" stroke="#22252b" stroke-width="11.1"/>
<path d="M737.37 278.07 A37.15 37.15 0 0 1 737.14 277.33" fill="none" stroke="#73bf69" stroke-width="11.1"/>
<path d="M730.05 364.77 A44.85 44.85 0 1 1 815.35 364.77" fill="none" stroke="#73bf69" stroke-width="1.5"/>
<path d="M737.37 362.39 A37.15 37.15 0 1 1 808.03 362.39" fill="none" stroke="#22252b" stroke-width="11.1"/>
<path d="M737.37 362.39 A37.15 37.15 0 0 1 754.05 318.78" fill="none" stroke="#73bf69" stroke-width="11.1"/>
<path d="M730.05 449.09 A44.85 44.85 0 1 1 815.35 449.09" fill="none" stroke="#73bf69" stroke-width="1.5"/>
<path d="M737.37 446.71 A37.15 37.15 0 1 1 808.03 446.71" fill="none" stroke="#22252b" stroke-width="11.1"/>
<path d="M737.37 446.71 A37.15 37.15 0 0 1 736.25 442.41" fill="none" stroke="#73bf69" stroke-width="11.1"/>
<path d="M730.05 533.41 A44.85 44.85 0 1 1 815.35 533.41" fill="none" stroke="#73bf69" stroke-width="1.5"/>
<path d="M737.37 531.03 A37.15 37.15 0 1 1 808.03 531.03" fill="none" stroke="#22252b" stroke-width="11.1"/>
<path d="M737.37 531.03 A37.15 37.15 0 0 1 748.41 491.44" fill="none" stroke="#73bf69" stroke-width="11.1"/>
<path d="M847.05 111.81 A44.85 44.85 0 1 1 932.35 111.81" fill="none" stroke="#73bf69" stroke-width="1.5"/>
<path d="M854.37 109.43 A37.15 37.15 0 1 1 925.03 109.43" fill="none" stroke="#22252b" stroke-width="11.1"/>
<path d="M854.37 109.43 A37.15 37.15 0 0 1 859.24 76.68" fill="none" stroke="#73bf69" stroke-width="11.1"/>
<path d="M847.05 196.13 A44.85 44.85 0 1 1 932.35 196.13" fill="none" stroke="#73bf69" stroke-width="1.5"/>
<path d="M854.37 193.75 A37.15 37.15 0 1 1 925.03 193.75" fill="none" stroke="#22252b" stroke-width="11.1"/>
<path d="M854.37 193.75 A37.15 37.15 0 0 1 897.35 145.92" fill="none" stroke="#73bf69" stroke-width="11.1"/>
<path d="M847.05 280.45 A44.85 44.85 0 1 1 932.35 280.45" fill="none" stroke="#73bf69" stroke-width="1.5"/>
<path d="M854.37 278.07 A37.15 37.15 0 1 1 925.03 278.07" fill="none" stroke="#22252b" stroke-width="11.1"/>
<path d="M854.37 278.07 A37.15 37.15 0 0 1 920.64 246.03" fill="none" stroke="#73bf69" stroke-width="11.1"/>
<path d="M847.05 364.77 A44.85 44.85 0 1 1 932.35 364.77" fill="none" stroke="#73bf69" stroke-width="1.5"/>
<path d="M854.37 362.39 A37.15 37.15 0 1 1 925.03 362.39" fill="none" stroke="#22252b" stroke-width="11.1"/>
<path d="M854.37 362.39 A37.15 37.15 0 0 1 876.10 316.34" fill="none" stroke="#73bf69" stroke-width="11.1"/>
<path d="M847.05 449.09 A44.85 44.85 0 1 1 932.35 449.09" fill="none" stroke="#73bf69" stroke-width="1.5"/>
<path d="M854.37 446.71 A37.15 37.15 0 1 1 925.03 446.71" fill="none" stroke="#22252b" stroke-width="11.1"/>
<path d="M854.37 446.71 A37.15 37.15 0 0 1 897.12 398.83" fill="none" stroke="#73bf69" stroke-width="11.1"/>
<path d="M847.05 533.41 A44.85 44.85 0 1 1 932.35 533.41" fill="none" stroke="#73bf69" stroke-width="1.5"/>
<path d="M854.37 531.03 A37.15 37.15 0 1 1 925.03 531.03" fill="none" stroke="#22252b" stroke-width="11.1"/>
<path d="M854.37 531.03 A37.15 37.15 0 0 1 858.63 499.19" fill="none" stroke="#73bf69" stroke-width="11.1"/>
<text x="772.10" y="110" font-size="19.7" text-anchor="middle" fill="#73bf69" stroke="#73bf69" stroke-width="0.4" textLength="34.1" lengthAdjust="spacingAndGlyphs">16.1</text>
<text x="772.10" y="194" font-size="19.7" text-anchor="middle" fill="#73bf69" stroke="#73bf69" stroke-width="0.4" textLength="41.4" lengthAdjust="spacingAndGlyphs">2.08</text>
<text x="772.10" y="279" font-size="19.0" text-anchor="middle" fill="#73bf69" stroke="#73bf69" stroke-width="0.4" textLength="39.9" lengthAdjust="spacingAndGlyphs">0.111</text>
<text x="772.10" y="363" font-size="19.7" text-anchor="middle" fill="#73bf69" stroke="#73bf69" stroke-width="0.4" textLength="35.3" lengthAdjust="spacingAndGlyphs">7.21</text>
<text x="772.10" y="445" font-size="16.2" text-anchor="middle" fill="#73bf69" stroke="#73bf69" stroke-width="0.4" textLength="40.4" lengthAdjust="spacingAndGlyphs">0.635</text>
<text x="772.10" y="532" font-size="19.7" text-anchor="middle" fill="#73bf69" stroke="#73bf69" stroke-width="0.4" textLength="40.8" lengthAdjust="spacingAndGlyphs">6.22</text>
<text x="889.10" y="110" font-size="19.7" text-anchor="middle" fill="#73bf69" stroke="#73bf69" stroke-width="0.4" textLength="39.4" lengthAdjust="spacingAndGlyphs">4.41</text>
<text x="889.10" y="194" font-size="19.7" text-anchor="middle" fill="#73bf69" stroke="#73bf69" stroke-width="0.4" textLength="40.8" lengthAdjust="spacingAndGlyphs">9.99</text>
<text x="889.10" y="279" font-size="19.7" text-anchor="middle" fill="#73bf69" stroke="#73bf69" stroke-width="0.4" textLength="37.8" lengthAdjust="spacingAndGlyphs">13.7</text>
<text x="889.10" y="363" font-size="19.7" text-anchor="middle" fill="#73bf69" stroke="#73bf69" stroke-width="0.4" textLength="35.3" lengthAdjust="spacingAndGlyphs">7.21</text>
<text x="889.10" y="447" font-size="19.7" text-anchor="middle" fill="#73bf69" stroke="#73bf69" stroke-width="0.4" textLength="40.8" lengthAdjust="spacingAndGlyphs">9.96</text>
<text x="889.10" y="532" font-size="19.7" text-anchor="middle" fill="#73bf69" stroke="#73bf69" stroke-width="0.4" textLength="39.3" lengthAdjust="spacingAndGlyphs">4.27</text>
</svg>
<svg width="957" height="547" viewBox="0 0 957 547">
<g class="tx" fill="#ccccdc" stroke="#ccccdc">
<text x="374.80" y="15" font-size="5.3" textLength="48.20" lengthAdjust="spacingAndGlyphs" fill="rgba(204,204,220,0.62)" stroke="rgba(204,204,220,0.62)">Search or jump to...</text>
<text x="581.80" y="14" font-size="4.4" textLength="12.50" lengthAdjust="spacingAndGlyphs" fill="rgba(204,204,220,0.62)" stroke="rgba(204,204,220,0.62)">ctrl+k</text>
<text x="25.90" y="30" font-size="5.5" textLength="15.05" lengthAdjust="spacingAndGlyphs">Home</text>
<text x="49.90" y="30" font-size="5.5" textLength="29.60" lengthAdjust="spacingAndGlyphs">Dashboards</text>
<text x="88.90" y="30" font-size="5.5" textLength="41.00" lengthAdjust="spacingAndGlyphs" fill="rgba(204,204,220,0.66)" stroke="rgba(204,204,220,0.66)">Centralized QKD</text>
<text x="674.30" y="30" font-size="5.5" textLength="9.40" lengthAdjust="spacingAndGlyphs" fill="#6e9fff" stroke="#6e9fff">Add</text>
<text x="751.20" y="30" font-size="5.8" textLength="117.70" lengthAdjust="spacingAndGlyphs">2024-07-05 15:55:09 to 2024-07-08 08:50:54</text>
<text x="15.10" y="44" font-size="5.5" textLength="66.00" lengthAdjust="spacingAndGlyphs" class="b">Excess noise (snu). IP: .23</text>
<text x="27.30" y="76" font-size="5.0" text-anchor="end">0.005</text>
<text x="27.30" y="98" font-size="5.0" text-anchor="end">0</text>
<text x="56.11" y="104" font-size="4.75" text-anchor="middle">07/06 00:00</text>
<text x="94.30" y="104" font-size="4.75" text-anchor="middle">07/06 12:00</text>
<text x="132.48" y="104" font-size="4.75" text-anchor="middle">07/07 00:00</text>
<text x="170.66" y="104" font-size="4.75" text-anchor="middle">07/07 12:00</text>
<text x="208.85" y="104" font-size="4.75" text-anchor="middle">07/08 00:00</text>
<text x="24.55" y="112" font-size="4.7" textLength="24.40" lengthAdjust="spacingAndGlyphs">excess_snu</text>
<text x="249.80" y="44" font-size="5.5" textLength="52.50" lengthAdjust="spacingAndGlyphs" class="b">Transmittance. IP: 23</text>
<text x="255.50" y="58" font-size="5.0" text-anchor="end">0.2</text>
<text x="255.50" y="78" font-size="5.0" text-anchor="end">0.1</text>
<text x="255.50" y="98" font-size="5.0" text-anchor="end">0</text>
<text x="285.13" y="104" font-size="4.75" text-anchor="middle">07/06 00:00</text>
<text x="324.54" y="104" font-size="4.75" text-anchor="middle">07/06 12:00</text>
<text x="363.94" y="104" font-size="4.75" text-anchor="middle">07/07 00:00</text>
<text x="403.34" y="104" font-size="4.75" text-anchor="middle">07/07 12:00</text>
<text x="442.75" y="104" font-size="4.75" text-anchor="middle">07/08 00:00</text>
<text x="259.25" y="112" font-size="4.7" textLength="29.50" lengthAdjust="spacingAndGlyphs">transmittance</text>
<text x="484.30" y="44" font-size="5.5" textLength="76.50" lengthAdjust="spacingAndGlyphs" class="b">Secret key rate (Mbps). IP: .23</text>
<text x="493.50" y="62" font-size="5.0" text-anchor="end">0.02</text>
<text x="493.50" y="80" font-size="5.0" text-anchor="end">0.01</text>
<text x="493.50" y="98" font-size="5.0" text-anchor="end">0</text>
<text x="522.74" y="104" font-size="4.75" text-anchor="middle">07/06 00:00</text>
<text x="561.55" y="104" font-size="4.75" text-anchor="middle">07/06 12:00</text>
<text x="600.36" y="104" font-size="4.75" text-anchor="middle">07/07 00:00</text>
<text x="639.17" y="104" font-size="4.75" text-anchor="middle">07/07 12:00</text>
<text x="677.98" y="104" font-size="4.75" text-anchor="middle">07/08 00:00</text>
<text x="493.75" y="112" font-size="4.7" textLength="47.00" lengthAdjust="spacingAndGlyphs">secret_key_rate_mbps</text>
<text x="15.10" y="128" font-size="5.5" textLength="66.00" lengthAdjust="spacingAndGlyphs" class="b">Excess noise (snu). IP: .28</text>
<text x="27.30" y="139" font-size="5.0" text-anchor="end">0.002</text>
<text x="27.30" y="161" font-size="5.0" text-anchor="end">0.001</text>
<text x="27.30" y="183" font-size="5.0" text-anchor="end">0</text>
<text x="56.11" y="188" font-size="4.75" text-anchor="middle">07/06 00:00</text>
<text x="94.30" y="188" font-size="4.75" text-anchor="middle">07/06 12:00</text>
<text x="132.48" y="188" font-size="4.75" text-anchor="middle">07/07 00:00</text>
<text x="170.66" y="188" font-size="4.75" text-anchor="middle">07/07 12:00</text>
<text x="208.85" y="188" font-size="4.75" text-anchor="middle">07/08 00:00</text>
<text x="24.55" y="196" font-size="4.7" textLength="24.40" lengthAdjust="spacingAndGlyphs">excess_snu</text>
<text x="249.80" y="128" font-size="5.5" textLength="55.00" lengthAdjust="spacingAndGlyphs" class="b">Transmittance. IP: .28</text>
<text x="259.80" y="152" font-size="5.0" text-anchor="end">0.04</text>
<text x="259.80" y="167" font-size="5.0" text-anchor="end">0.02</text>
<text x="259.80" y="183" font-size="5.0" text-anchor="end">0</text>
<text x="288.90" y="188" font-size="4.75" text-anchor="middle">07/06 00:00</text>
<text x="327.51" y="188" font-size="4.75" text-anchor="middle">07/06 12:00</text>
<text x="366.12" y="188" font-size="4.75" text-anchor="middle">07/07 00:00</text>
<text x="404.72" y="188" font-size="4.75" text-anchor="middle">07/07 12:00</text>
<text x="443.33" y="188" font-size="4.75" text-anchor="middle">07/08 00:00</text>
<text x="259.25" y="196" font-size="4.7" textLength="29.50" lengthAdjust="spacingAndGlyphs">transmittance</text>
<text x="484.30" y="128" font-size="5.5" textLength="76.50" lengthAdjust="spacingAndGlyphs" class="b">Secret key rate (Mbps). IP: .28</text>
<text x="496.90" y="152" font-size="5.0" text-anchor="end">0.004</text>
<text x="496.90" y="167" font-size="5.0" text-anchor="end">0.002</text>
<text x="496.90" y="183" font-size="5.0" text-anchor="end">0</text>
<text x="525.71" y="188" font-size="4.75" text-anchor="middle">07/06 00:00</text>
<text x="563.90" y="188" font-size="4.75" text-anchor="middle">07/06 12:00</text>
<text x="602.08" y="188" font-size="4.75" text-anchor="middle">07/07 00:00</text>
<text x="640.26" y="188" font-size="4.75" text-anchor="middle">07/07 12:00</text>
<text x="678.45" y="188" font-size="4.75" text-anchor="middle">07/08 00:00</text>
<text x="493.75" y="196" font-size="4.7" textLength="47.00" lengthAdjust="spacingAndGlyphs">secret_key_rate_mbps</text>
<text x="15.10" y="212" font-size="5.5" textLength="66.00" lengthAdjust="spacingAndGlyphs" class="b">Excess noise (snu). IP: .46</text>
<text x="32.90" y="228" font-size="5.0" text-anchor="end">0.00075</text>
<text x="32.90" y="241" font-size="5.0" text-anchor="end">0.0005</text>
<text x="32.90" y="253" font-size="5.0" text-anchor="end">0.00025</text>
<text x="32.90" y="266" font-size="5.0" text-anchor="end">0</text>
<text x="61.02" y="273" font-size="4.75" text-anchor="middle">07/06 00:00</text>
<text x="98.16" y="273" font-size="4.75" text-anchor="middle">07/06 12:00</text>
<text x="135.31" y="273" font-size="4.75" text-anchor="middle">07/07 00:00</text>
<text x="172.46" y="273" font-size="4.75" text-anchor="middle">07/07 12:00</text>
<text x="209.61" y="273" font-size="4.75" text-anchor="middle">07/08 00:00</text>
<text x="24.55" y="280" font-size="4.7" textLength="24.40" lengthAdjust="spacingAndGlyphs">excess_snu</text>
<text x="249.80" y="212" font-size="5.5" textLength="55.00" lengthAdjust="spacingAndGlyphs" class="b">Transmittance. IP: .46</text>
<text x="258.70" y="230" font-size="5.0" text-anchor="end">0.02</text>
<text x="258.70" y="248" font-size="5.0" text-anchor="end">0.01</text>
<text x="258.70" y="266" font-size="5.0" text-anchor="end">0</text>
<text x="287.94" y="273" font-size="4.75" text-anchor="middle">07/06 00:00</text>
<text x="326.75" y="273" font-size="4.75" text-anchor="middle">07/06 12:00</text>
<text x="365.56" y="273" font-size="4.75" text-anchor="middle">07/07 00:00</text>
<text x="404.37" y="273" font-size="4.75" text-anchor="middle">07/07 12:00</text>
<text x="443.18" y="273" font-size="4.75" text-anchor="middle">07/08 00:00</text>
<text x="259.25" y="280" font-size="4.7" textLength="29.50" lengthAdjust="spacingAndGlyphs">transmittance</text>
<text x="484.30" y="212" font-size="5.5" textLength="74.50" lengthAdjust="spacingAndGlyphs" class="b">Secret key rate (Mbps) IP: .46</text>
<text x="498.90" y="232" font-size="5.0" text-anchor="end">0.0002</text>
<text x="498.90" y="249" font-size="5.0" text-anchor="end">0.0001</text>
<text x="498.90" y="266" font-size="5.0" text-anchor="end">0</text>
<text x="527.46" y="273" font-size="4.75" text-anchor="middle">07/06 00:00</text>
<text x="565.28" y="273" font-size="4.75" text-anchor="middle">07/06 12:00</text>
<text x="603.09" y="273" font-size="4.75" text-anchor="middle">07/07 00:00</text>
<text x="640.90" y="273" font-size="4.75" text-anchor="middle">07/07 12:00</text>
<text x="678.72" y="273" font-size="4.75" text-anchor="middle">07/08 00:00</text>
<text x="493.75" y="280" font-size="4.7" textLength="47.00" lengthAdjust="spacingAndGlyphs">secret_key_rate_mbps</text>
<text x="15.10" y="296" font-size="5.5" textLength="68.50" lengthAdjust="spacingAndGlyphs" class="b">Excess noise (snu). IP: .198</text>
<text x="27.30" y="316" font-size="5.0" text-anchor="end">0.003</text>
<text x="27.30" y="328" font-size="5.0" text-anchor="end">0.002</text>
<text x="27.30" y="339" font-size="5.0" text-anchor="end">0.001</text>
<text x="27.30" y="351" font-size="5.0" text-anchor="end">0</text>
<text x="56.11" y="357" font-size="4.75" text-anchor="middle">07/06 00:00</text>
<text x="94.30" y="357" font-size="4.75" text-anchor="middle">07/06 12:00</text>
<text x="132.48" y="357" font-size="4.75" text-anchor="middle">07/07 00:00</text>
<text x="170.66" y="357" font-size="4.75" text-anchor="middle">07/07 12:00</text>
<text x="208.85" y="357" font-size="4.75" text-anchor="middle">07/08 00:00</text>
<text x="24.55" y="365" font-size="4.7" textLength="24.40" lengthAdjust="spacingAndGlyphs">excess_snu</text>
<text x="249.80" y="296" font-size="5.5" textLength="57.00" lengthAdjust="spacingAndGlyphs" class="b">Transmittance. IP: .198</text>
<text x="259.80" y="310" font-size="5.0" text-anchor="end">0.1</text>
<text x="259.80" y="331" font-size="5.0" text-anchor="end">0.05</text>
<text x="259.80" y="351" font-size="5.0" text-anchor="end">0</text>
<text x="288.90" y="357" font-size="4.75" text-anchor="middle">07/06 00:00</text>
<text x="327.51" y="357" font-size="4.75" text-anchor="middle">07/06 12:00</text>
<text x="366.12" y="357" font-size="4.75" text-anchor="middle">07/07 00:00</text>
<text x="404.72" y="357" font-size="4.75" text-anchor="middle">07/07 12:00</text>
<text x="443.33" y="357" font-size="4.75" text-anchor="middle">07/08 00:00</text>
<text x="259.25" y="365" font-size="4.7" textLength="29.50" lengthAdjust="spacingAndGlyphs">transmittance</text>
<text x="484.30" y="296" font-size="5.5" textLength="78.30" lengthAdjust="spacingAndGlyphs" class="b">Secret key rate (Mbps). IP: .198</text>
<text x="496.90" y="310" font-size="5.0" text-anchor="end">0.015</text>
<text x="496.90" y="324" font-size="5.0" text-anchor="end">0.01</text>
<text x="496.90" y="337" font-size="5.0" text-anchor="end">0.005</text>
<text x="496.90" y="351" font-size="5.0" text-anchor="end">0</text>
<text x="525.71" y="357" font-size="4.75" text-anchor="middle">07/06 00:00</text>
<text x="563.90" y="357" font-size="4.75" text-anchor="middle">07/06 12:00</text>
<text x="602.08" y="357" font-size="4.75" text-anchor="middle">07/07 00:00</text>
<text x="640.26" y="357" font-size="4.75" text-anchor="middle">07/07 12:00</text>
<text x="678.45" y="357" font-size="4.75" text-anchor="middle">07/08 00:00</text>
<text x="493.75" y="365" font-size="4.7" textLength="47.00" lengthAdjust="spacingAndGlyphs">secret_key_rate_mbps</text>
<text x="15.10" y="381" font-size="5.5" textLength="67.70" lengthAdjust="spacingAndGlyphs" class="b">Excess noise (snu). IP: 132</text>
<text x="25.30" y="392" font-size="5.0" text-anchor="end">0.02</text>
<text x="25.30" y="413" font-size="5.0" text-anchor="end">0.01</text>
<text x="25.30" y="433" font-size="5.0" text-anchor="end">0</text>
<text x="54.36" y="441" font-size="4.75" text-anchor="middle">07/06 00:00</text>
<text x="92.91" y="441" font-size="4.75" text-anchor="middle">07/06 12:00</text>
<text x="131.47" y="441" font-size="4.75" text-anchor="middle">07/07 00:00</text>
<text x="170.02" y="441" font-size="4.75" text-anchor="middle">07/07 12:00</text>
<text x="208.57" y="441" font-size="4.75" text-anchor="middle">07/08 00:00</text>
<text x="24.55" y="449" font-size="4.7" textLength="24.40" lengthAdjust="spacingAndGlyphs">excess_snu</text>
<text x="249.80" y="381" font-size="5.5" textLength="55.90" lengthAdjust="spacingAndGlyphs" class="b">Transmittance. IP: 132</text>
<text x="259.80" y="405" font-size="5.0" text-anchor="end">0.04</text>
<text x="259.80" y="420" font-size="5.0" text-anchor="end">0.02</text>
<text x="259.80" y="436" font-size="5.0" text-anchor="end">0</text>
<text x="288.90" y="441" font-size="4.75" text-anchor="middle">07/06 00:00</text>
<text x="327.51" y="441" font-size="4.75" text-anchor="middle">07/06 12:00</text>
<text x="366.12" y="441" font-size="4.75" text-anchor="middle">07/07 00:00</text>
<text x="404.72" y="441" font-size="4.75" text-anchor="middle">07/07 12:00</text>
<text x="443.33" y="441" font-size="4.75" text-anchor="middle">07/08 00:00</text>
<text x="259.25" y="449" font-size="4.7" textLength="29.50" lengthAdjust="spacingAndGlyphs">transmittance</text>
<text x="484.30" y="381" font-size="5.5" textLength="77.70" lengthAdjust="spacingAndGlyphs" class="b">Secret key rate (Mbps). IP: 132</text>
<text x="497.30" y="402" font-size="5.0" text-anchor="end">0.003</text>
<text x="497.30" y="413" font-size="5.0" text-anchor="end">0.002</text>
<text x="497.30" y="424" font-size="5.0" text-anchor="end">0.001</text>
<text x="497.30" y="436" font-size="5.0" text-anchor="end">0</text>
<text x="526.06" y="441" font-size="4.75" text-anchor="middle">07/06 00:00</text>
<text x="564.17" y="441" font-size="4.75" text-anchor="middle">07/06 12:00</text>
<text x="602.28" y="441" font-size="4.75" text-anchor="middle">07/07 00:00</text>
<text x="640.39" y="441" font-size="4.75" text-anchor="middle">07/07 12:00</text>
<text x="678.50" y="441" font-size="4.75" text-anchor="middle">07/08 00:00</text>
<text x="493.75" y="449" font-size="4.7" textLength="47.00" lengthAdjust="spacingAndGlyphs">secret_key_rate_mbps</text>
<text x="15.10" y="465" font-size="5.5" textLength="64.90" lengthAdjust="spacingAndGlyphs" class="b">Excess noise (snu). IP: 16</text>
<text x="25.30" y="477" font-size="5.0" text-anchor="end">0.02</text>
<text x="25.30" y="499" font-size="5.0" text-anchor="end">0.01</text>
<text x="25.30" y="520" font-size="5.0" text-anchor="end">0</text>
<text x="54.36" y="526" font-size="4.75" text-anchor="middle">07/06 00:00</text>
<text x="92.91" y="526" font-size="4.75" text-anchor="middle">07/06 12:00</text>
<text x="131.47" y="526" font-size="4.75" text-anchor="middle">07/07 00:00</text>
<text x="170.02" y="526" font-size="4.75" text-anchor="middle">07/07 12:00</text>
<text x="208.57" y="526" font-size="4.75" text-anchor="middle">07/08 00:00</text>
<text x="24.55" y="533" font-size="4.7" textLength="24.40" lengthAdjust="spacingAndGlyphs">excess_snu</text>
<text x="249.80" y="465" font-size="5.5" textLength="54.50" lengthAdjust="spacingAndGlyphs" class="b">Transmittance. IP: .16</text>
<text x="256.50" y="479" font-size="5.0" text-anchor="end">0.2</text>
<text x="256.50" y="499" font-size="5.0" text-anchor="end">0.1</text>
<text x="256.50" y="520" font-size="5.0" text-anchor="end">0</text>
<text x="286.01" y="526" font-size="4.75" text-anchor="middle">07/06 00:00</text>
<text x="325.23" y="526" font-size="4.75" text-anchor="middle">07/06 12:00</text>
<text x="364.45" y="526" font-size="4.75" text-anchor="middle">07/07 00:00</text>
<text x="403.66" y="526" font-size="4.75" text-anchor="middle">07/07 12:00</text>
<text x="442.88" y="526" font-size="4.75" text-anchor="middle">07/08 00:00</text>
<text x="259.25" y="533" font-size="4.7" textLength="29.50" lengthAdjust="spacingAndGlyphs">transmittance</text>
<text x="484.30" y="465" font-size="5.5" textLength="76.50" lengthAdjust="spacingAndGlyphs" class="b">Secret key rate (Mbps). IP: .16</text>
<text x="497.20" y="487" font-size="5.0" text-anchor="end">0.01</text>
<text x="497.20" y="503" font-size="5.0" text-anchor="end">0.005</text>
<text x="497.20" y="520" font-size="5.0" text-anchor="end">0</text>
<text x="525.98" y="526" font-size="4.75" text-anchor="middle">07/06 00:00</text>
<text x="564.10" y="526" font-size="4.75" text-anchor="middle">07/06 12:00</text>
<text x="602.23" y="526" font-size="4.75" text-anchor="middle">07/07 00:00</text>
<text x="640.36" y="526" font-size="4.75" text-anchor="middle">07/07 12:00</text>
<text x="678.49" y="526" font-size="4.75" text-anchor="middle">07/08 00:00</text>
<text x="493.75" y="533" font-size="4.7" textLength="47.00" lengthAdjust="spacingAndGlyphs">secret_key_rate_mbps</text>
<text x="718.80" y="44" font-size="5.5" textLength="57.20" lengthAdjust="spacingAndGlyphs" class="b">Last SKR (kbps). IP: 23</text>
<text x="718.80" y="128" font-size="5.5" textLength="57.20" lengthAdjust="spacingAndGlyphs" class="b">Last SKR (kbps). IP: 28</text>
<text x="718.80" y="212" font-size="5.5" textLength="57.20" lengthAdjust="spacingAndGlyphs" class="b">Last SKR (kbps). IP: 46</text>
<text x="718.80" y="296" font-size="5.5" textLength="60.10" lengthAdjust="spacingAndGlyphs" class="b">Last SKR (kbps). IP: 198</text>
<text x="718.80" y="381" font-size="5.5" textLength="59.40" lengthAdjust="spacingAndGlyphs" class="b">Last SKR (kbps). IP:132</text>
<text x="718.80" y="465" font-size="5.5" textLength="57.20" lengthAdjust="spacingAndGlyphs" class="b">Last SKR (kbps). IP: 16</text>
<text x="836.20" y="44" font-size="5.5" textLength="47.00" lengthAdjust="spacingAndGlyphs" class="b">Losses (dB). IP: 23</text>
<text x="836.20" y="128" font-size="5.5" textLength="47.00" lengthAdjust="spacingAndGlyphs" class="b">Losses (dB). IP: 28</text>
<text x="836.20" y="212" font-size="5.5" textLength="47.00" lengthAdjust="spacingAndGlyphs" class="b">Losses (dB). IP: 46</text>
<text x="836.20" y="296" font-size="5.5" textLength="49.90" lengthAdjust="spacingAndGlyphs" class="b">Losses (dB). IP: 198</text>
<text x="836.20" y="381" font-size="5.5" textLength="49.90" lengthAdjust="spacingAndGlyphs" class="b">Losses (dB). IP: 132</text>
<text x="836.20" y="465" font-size="5.5" textLength="47.00" lengthAdjust="spacingAndGlyphs" class="b">Losses (dB). IP: 16</text>
</g>
</svg>

</body></html>
